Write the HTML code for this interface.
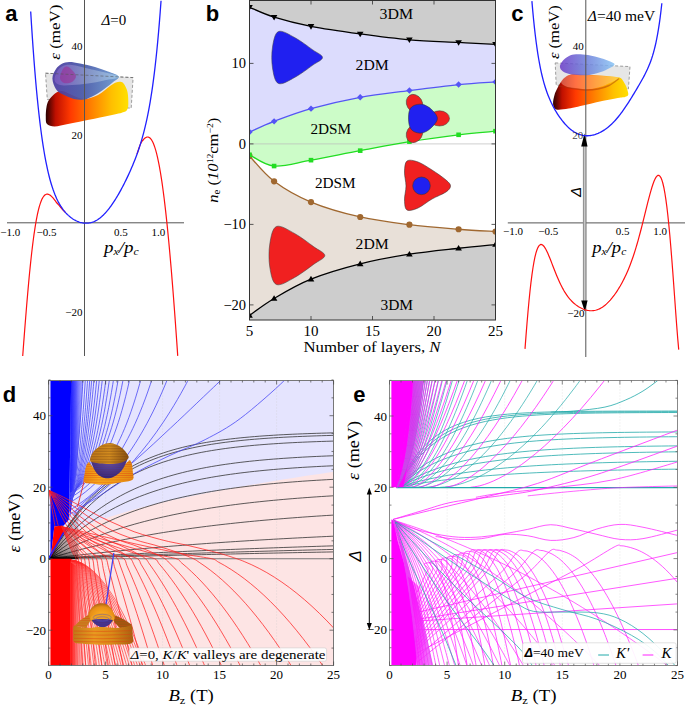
<!DOCTYPE html>
<html><head><meta charset="utf-8"><style>
html,body{margin:0;padding:0;background:#fff;width:685px;height:706px;overflow:hidden}
svg{display:block}
text{font-family:'Liberation Serif',serif;fill:#000}
</style></head><body>
<svg width="685" height="706" viewBox="0 0 685 706">
<g id="pa">
<defs><linearGradient id="gOr" x1="0" y1="0" x2="1" y2="0"><stop offset="0" stop-color="#2a0000"/><stop offset="0.12" stop-color="#c01000"/><stop offset="0.3" stop-color="#ff3a00"/><stop offset="0.55" stop-color="#ff8000"/><stop offset="0.8" stop-color="#ffc000"/><stop offset="1" stop-color="#ffe000"/></linearGradient><linearGradient id="gBl" x1="0" y1="0" x2="1" y2="0"><stop offset="0" stop-color="#4a3aa0"/><stop offset="0.45" stop-color="#4656a8"/><stop offset="1" stop-color="#6a9ad0"/></linearGradient><linearGradient id="gBl2" x1="0" y1="0" x2="1" y2="0"><stop offset="0" stop-color="#7a5ac0"/><stop offset="0.5" stop-color="#8a98c8"/><stop offset="1" stop-color="#a0c8e8"/></linearGradient></defs>
<path d="M45.5,73.2 L133.1,77.6 L131.2,108.3 L47.3,99.5Z" fill="#e6e6e6" stroke="#888" stroke-width="0.8" stroke-dasharray="3,2"/>
<path d="M48.8,100.3 C50.22,98.05 52.8,95.05 55,93.5 C57.2,91.95 59.17,90.75 62,91 C64.83,91.25 68.33,93.67 72,95 C75.67,96.33 79.67,99 84,99 C88.33,99 93.67,97.17 98,95 C102.33,92.83 107,88.08 110,86 C113,83.92 114.25,83.2 116,82.5 C117.75,81.8 119.17,81.55 120.5,81.8 C121.83,82.05 122.83,82.3 124,84 C125.17,85.7 126.78,88.67 127.5,92 C128.22,95.33 128.38,101 128.3,104 C128.22,107 128.08,108.55 127,110 C125.92,111.45 125.47,111.62 121.8,112.7 C118.13,113.78 111.3,115.17 105,116.5 C98.7,117.83 90.17,119.45 84,120.7 C77.83,121.95 72.9,123.03 68,124 C63.1,124.97 58.1,126.5 54.6,126.5 C51.1,126.5 48.47,125.58 47,124 C45.53,122.42 45.88,119.83 45.8,117 C45.72,114.17 46,109.78 46.5,107 C47,104.22 47.38,102.55 48.8,100.3Z" fill="url(#gOr)"/>
<path d="M52.4,78.4 C52.4,75.02 54.42,71.43 56,69 C57.58,66.57 59.7,64.97 61.9,63.8 C64.1,62.63 66.18,62.05 69.2,62 C72.22,61.95 75.7,62.67 80,63.5 C84.3,64.33 90.33,65.67 95,67 C99.67,68.33 104.03,69.9 108,71.5 C111.97,73.1 118.13,74.68 118.8,76.6 C119.47,78.52 115.13,80.43 112,83 C108.87,85.57 103.67,89.58 100,92 C96.33,94.42 92.7,96.25 90,97.5 C87.3,98.75 86.47,99.25 83.8,99.5 C81.13,99.75 77.63,99.92 74,99 C70.37,98.08 65,95.62 62,94 C59,92.38 57.6,91.9 56,89.3 C54.4,86.7 52.4,81.78 52.4,78.4Z" fill="url(#gBl)" fill-opacity="0.92"/>
<path d="M54.5,80 C54.17,77.5 56.42,72.42 58,70 C59.58,67.58 61.67,66.33 64,65.5 C66.33,64.67 67.67,64.42 72,65 C76.33,65.58 82.2,67.07 90,69 C97.8,70.93 116.47,74.68 118.8,76.6 C121.13,78.52 109.13,79.35 104,80.5 C98.87,81.65 93.33,82.75 88,83.5 C82.67,84.25 76.67,84.75 72,85 C67.33,85.25 62.92,85.83 60,85 C57.08,84.17 54.83,82.5 54.5,80Z" fill="url(#gBl2)" fill-opacity="0.85"/>
<path d="M60,78 C59.83,75.67 61.83,70.92 63,69 C64.17,67.08 65.67,66.5 67,66.5 C68.33,66.5 69.5,67.42 71,69 C72.5,70.58 75.83,73.83 76,76 C76.17,78.17 74,80.83 72,82 C70,83.17 66,83.67 64,83 C62,82.33 60.17,80.33 60,78Z" fill="#a02890" fill-opacity="0.55"/>
<path d="M45.5,73.2 L133.1,77.6" stroke="#555" stroke-width="0.7" stroke-dasharray="3,2" fill="none" opacity="0.8"/>
<path d="M84.5,0 V356 M7,222.8 H184" stroke="#555" stroke-width="1" fill="none"/>
<path d="M22.7,356.02 L23.2,349.52 L23.69,343.05 L24.18,336.62 L24.67,330.26 L25.16,323.98 L25.66,317.79 L26.15,311.71 L26.64,305.74 L27.13,299.89 L27.63,294.18 L28.12,288.61 L28.61,283.18 L29.1,277.91 L29.59,272.8 L30.09,267.85 L30.58,263.07 L31.07,258.46 L31.56,254.02 L32.05,249.75 L32.55,245.66 L33.04,241.75 L33.53,238 L34.02,234.44 L34.52,231.04 L35.01,227.82 L35.5,224.77 L35.99,221.89 L36.48,219.18 L36.98,216.62 L37.47,214.23 L37.96,212 L38.45,209.92 L38.94,207.99 L39.44,206.21 L39.93,204.57 L40.42,203.07 L40.91,201.7 L41.41,200.46 L41.9,199.35 L42.39,198.36 L42.88,197.49 L43.37,196.73 L43.87,196.08 L44.36,195.53 L44.85,195.07 L45.34,194.72 L45.83,194.45 L46.33,194.27 L46.82,194.16 L47.31,194.14 L47.8,194.18 L48.3,194.29 L48.79,194.47 L49.28,194.7 L49.77,194.99 L50.26,195.33 L50.76,195.72 L51.25,196.15 L51.74,196.62 L52.23,197.12 L52.72,197.66 L53.22,198.22 L53.71,198.82 L54.2,199.43 L54.69,200.07 L55.19,200.72 L55.68,201.38 L56.17,202.06 L56.66,202.75 L57.15,203.27 L57.65,203.78 L58.14,204.32 L58.63,204.88 L59.12,205.47 L59.61,206.06 L60.11,206.65 L60.6,207.25 L61.09,207.83 L61.58,208.42 L62.08,208.99 L62.57,209.55 L63.06,210.09 L63.55,210.62 L64.04,211.13 L64.54,211.62 L65.03,212.09 L65.52,212.55" stroke="#ff1010" stroke-width="1.2" fill="none"/>
<path d="M137.06,154.03 L137.53,152.54 L138,151.07 L138.46,149.63 L138.93,148.23 L139.4,146.88 L139.87,145.61 L140.33,144.43 L140.8,143.35 L141.27,142.4 L141.74,141.59 L142.2,140.95 L142.67,140.49 L143.14,140.03 L143.61,139.45 L144.07,138.92 L144.54,138.46 L145.01,138.05 L145.48,137.71 L145.94,137.43 L146.41,137.22 L146.88,137.07 L147.35,137 L147.81,137 L148.28,137.08 L148.75,137.24 L149.22,137.47 L149.68,137.79 L150.15,138.2 L150.62,138.69 L151.09,139.27 L151.55,139.94 L152.02,140.71 L152.49,141.57 L152.96,142.53 L153.42,143.59 L153.89,144.75 L154.36,146.01 L154.83,147.38 L155.29,148.85 L155.76,150.43 L156.23,152.13 L156.7,153.93 L157.16,155.85 L157.63,157.87 L158.1,160.02 L158.57,162.28 L159.03,164.66 L159.5,167.15 L159.97,169.77 L160.44,172.5 L160.9,175.36 L161.37,178.34 L161.84,181.44 L162.31,184.66 L162.77,188 L163.24,191.47 L163.71,195.05 L164.18,198.77 L164.64,202.6 L165.11,206.56 L165.58,210.63 L166.05,214.83 L166.51,219.15 L166.98,223.6 L167.45,228.16 L167.92,232.84 L168.38,237.63 L168.85,242.55 L169.32,247.57 L169.79,252.72 L170.25,257.97 L170.72,263.34 L171.19,268.82 L171.66,274.4 L172.12,280.09 L172.59,285.88 L173.06,291.78 L173.53,297.78 L173.99,303.87 L174.46,310.07 L174.93,316.35 L175.4,322.73 L175.86,329.19 L176.33,335.75 L176.8,342.38 L177.27,349.1 L177.73,355.9" stroke="#ff1010" stroke-width="1.2" fill="none"/>
<path d="M30.69,11.44 L31.53,24.94 L32.36,37.64 L33.2,49.57 L34.03,60.78 L34.87,71.3 L35.7,81.18 L36.54,90.45 L37.38,99.13 L38.21,107.28 L39.05,114.91 L39.88,122.06 L40.72,128.76 L41.55,135.02 L42.39,140.89 L43.23,146.38 L44.06,151.51 L44.9,156.31 L45.73,160.8 L46.57,164.99 L47.4,168.92 L48.24,172.58 L49.07,176.01 L49.91,179.22 L50.75,182.21 L51.58,185.01 L52.42,187.63 L53.25,190.08 L54.09,192.37 L54.92,194.52 L55.76,196.53 L56.59,198.41 L57.43,200.17 L58.27,201.83 L59.1,203.38 L59.94,204.83 L60.77,206.2 L61.61,207.48 L62.44,208.69 L63.28,209.83 L64.12,210.89 L64.95,211.9 L65.79,212.85 L66.62,213.74 L67.46,214.58 L68.29,215.37 L69.13,216.12 L69.96,216.82 L70.8,217.48 L71.64,218.09 L72.47,218.67 L73.31,219.22 L74.14,219.72 L74.98,220.19 L75.81,220.63 L76.65,221.03 L77.48,221.4 L78.32,221.73 L79.16,222.03 L79.99,222.3 L80.83,222.53 L81.66,222.73 L82.5,222.9 L83.33,223.03 L84.17,223.13 L85.01,223.19 L85.84,223.22 L86.68,223.22 L87.51,223.17 L88.35,223.1 L89.18,222.98 L90.02,222.83 L90.85,222.64 L91.69,222.41 L92.53,222.14 L93.36,221.83 L94.2,221.48 L95.03,221.09 L95.87,220.67 L96.7,220.2 L97.54,219.69 L98.37,219.14 L99.21,218.55 L100.05,217.92 L100.88,217.25 L101.72,216.53 L102.55,215.78 L103.39,214.99 L104.22,214.15 L105.06,213.28 L105.89,212.36 L106.73,211.41 L107.57,210.42 L108.4,209.39 L109.24,208.32 L110.07,207.22 L110.91,206.08 L111.74,204.9 L112.58,203.69 L113.42,202.45 L114.25,201.17 L115.09,199.86 L115.92,198.52 L116.76,197.14 L117.59,195.74 L118.43,194.3 L119.26,192.84 L120.1,191.35 L120.94,189.83 L121.77,188.28 L122.61,186.7 L123.44,185.1 L124.28,183.46 L125.11,181.8 L125.95,180.11 L126.78,178.39 L127.62,176.64 L128.46,174.86 L129.29,173.04 L130.13,171.19 L130.96,169.3 L131.8,167.36 L132.63,165.39 L133.47,163.37 L134.31,161.29 L135.14,159.16 L135.98,156.97 L136.81,154.72 L137.65,152.39 L138.48,149.98 L139.32,147.48 L140.15,144.89 L140.99,142.19 L141.83,139.37 L142.66,136.43 L143.5,133.34 L144.33,130.11 L145.17,126.7 L146,123.12 L146.84,119.33 L147.67,115.33 L148.51,111.09 L149.35,106.59 L150.18,101.81 L151.02,96.72 L151.85,91.31 L152.69,85.54 L153.52,79.38 L154.36,72.81 L155.2,65.78 L156.03,58.27 L156.87,50.23 L157.7,41.63 L158.54,32.43 L159.37,22.58 L160.21,12.03 L161.04,0.74" stroke="#2020ff" stroke-width="1.3" fill="none"/>
<text x="5.2" y="20.5" font-size="22" font-weight="bold" style="font-family:'Liberation Sans',sans-serif">a</text>
<text x="82.5" y="50" font-size="11" text-anchor="end" style="" >40</text>
<text x="82.5" y="138.8" font-size="11" text-anchor="end" style="" >20</text>
<text x="82.5" y="316" font-size="11" text-anchor="end" style="" >−20</text>
<text x="10.3" y="235.5" font-size="11" text-anchor="middle" style="" >−1.0</text>
<text x="46.5" y="235.5" font-size="11" text-anchor="middle" style="" >−0.5</text>
<text x="120.9" y="235.5" font-size="11" text-anchor="middle" style="" >0.5</text>
<text x="158.4" y="235.5" font-size="11" text-anchor="middle" style="" >1.0</text>
<text x="104" y="252.5" font-size="16" font-style="italic" textLength="34.7" lengthAdjust="spacingAndGlyphs"><tspan>p</tspan><tspan font-size="10" dy="2">x</tspan><tspan dy="-2">/p</tspan><tspan font-size="10" dy="2">c</tspan></text>
<text x="101.5" y="25" font-size="15"><tspan font-style="italic">Δ</tspan>=0</text>
<text transform="translate(60.3,32.2) rotate(-90)" font-size="14.5" text-anchor="middle" textLength="55" lengthAdjust="spacingAndGlyphs"><tspan font-style="italic">ε</tspan> (meV)</text>
</g>
<g id="pb">
<clipPath id="cb"><rect x="249.5" y="0.5" width="246.0" height="319.5"/></clipPath>
<g clip-path="url(#cb)">
<path d="M249.5,7.29 C253.6,8.94 263.85,14.01 274.1,17.19 C284.35,20.37 296.65,23.58 311,26.37 C325.35,29.16 343.8,31.7 360.2,33.94 C376.6,36.18 393,38.39 409.4,39.81 C425.8,41.24 444.25,41.72 458.6,42.47 C472.95,43.22 489.35,44.01 495.5,44.32 L500.5,-4.5 L244.5,-4.5Z" fill="#cdcdcd"/>
<path d="M249.5,7.29 C253.6,8.94 263.85,14.01 274.1,17.19 C284.35,20.37 296.65,23.58 311,26.37 C325.35,29.16 343.8,31.7 360.2,33.94 C376.6,36.18 393,38.39 409.4,39.81 C425.8,41.24 444.25,41.72 458.6,42.47 C472.95,43.22 489.35,44.01 495.5,44.32 L495.5,81.91499999999999 " fill="none"/>
<path d="M249.5,7.29 C253.6,8.94 263.85,14.01 274.1,17.19 C284.35,20.37 296.65,23.58 311,26.37 C325.35,29.16 343.8,31.7 360.2,33.94 C376.6,36.18 393,38.39 409.4,39.81 C425.8,41.24 444.25,41.72 458.6,42.47 C472.95,43.22 489.35,44.01 495.5,44.32 L495.5,81.91 L495.5,81.91 C489.35,82.36 472.95,83.14 458.6,84.57 C444.25,86.01 425.8,88.41 409.4,90.53 C393,92.65 376.6,94.27 360.2,97.29 C343.8,100.31 325.35,104.63 311,108.64 C296.65,112.65 284.35,117.46 274.1,121.36 C263.85,125.26 253.6,130.28 249.5,132.07Z" fill="#dcdcfd"/>
<path d="M249.5,132.07 C253.6,130.28 263.85,125.26 274.1,121.36 C284.35,117.46 296.65,112.65 311,108.64 C325.35,104.63 343.8,100.31 360.2,97.29 C376.6,94.27 393,92.65 409.4,90.53 C425.8,88.41 444.25,86.01 458.6,84.57 C472.95,83.14 489.35,82.36 495.5,81.91 L495.5,131.18 L495.5,131.18 C489.35,131.78 472.95,133.06 458.6,134.8 C444.25,136.55 425.8,139 409.4,141.65 C393,144.29 376.6,147.58 360.2,150.66 C343.8,153.75 325.35,157.6 311,160.16 C296.65,162.72 284.35,166.94 274.1,166.04 C263.85,165.14 253.6,156.65 249.5,154.77Z" fill="#ccfcc8"/>
<path d="M249.5,155.97 C253.6,160.2 263.85,173.64 274.1,181.33 C284.35,189.02 296.65,196.16 311,202.1 C325.35,208.05 343.8,213.22 360.2,216.99 C376.6,220.76 393,222.68 409.4,224.72 C425.8,226.76 444.25,228.1 458.6,229.23 C472.95,230.36 489.35,231.11 495.5,231.48 L495.5,244.53 L495.5,244.53 C489.35,245.14 472.95,246.62 458.6,248.23 C444.25,249.84 425.8,251.58 409.4,254.19 C393,256.79 376.6,259.69 360.2,263.85 C343.8,268 325.35,273.37 311,279.14 C296.65,284.91 284.35,292.42 274.1,298.46 C263.85,304.5 253.6,312.55 249.5,315.37Z" fill="#e8e0d8"/>
<path d="M249.5,315.37 C253.6,312.55 263.85,304.5 274.1,298.46 C284.35,292.42 296.65,284.91 311,279.14 C325.35,273.37 343.8,268 360.2,263.85 C376.6,259.69 393,256.79 409.4,254.19 C425.8,251.58 444.25,249.84 458.6,248.23 C472.95,246.62 489.35,245.14 495.5,244.53 L500.5,325.0 L244.5,325.0Z" fill="#cdcdcd"/>
<path d="M249.5,143.9 H495.5" stroke="#bbb" stroke-width="0.7"/>
<path d="M249.5,7.29 C253.6,8.94 263.85,14.01 274.1,17.19 C284.35,20.37 296.65,23.58 311,26.37 C325.35,29.16 343.8,31.7 360.2,33.94 C376.6,36.18 393,38.39 409.4,39.81 C425.8,41.24 444.25,41.72 458.6,42.47 C472.95,43.22 489.35,44.01 495.5,44.32" stroke="#000" stroke-width="1.3" fill="none"/>
<path d="M246.2,4.99 L252.8,4.99 L249.5,10.59Z" fill="#000"/>
<path d="M270.8,14.89 L277.4,14.89 L274.1,20.49Z" fill="#000"/>
<path d="M307.7,24.07 L314.3,24.07 L311,29.67Z" fill="#000"/>
<path d="M356.9,31.64 L363.5,31.64 L360.2,37.24Z" fill="#000"/>
<path d="M406.1,37.51 L412.7,37.51 L409.4,43.11Z" fill="#000"/>
<path d="M455.3,40.17 L461.9,40.17 L458.6,45.77Z" fill="#000"/>
<path d="M492.2,42.02 L498.8,42.02 L495.5,47.62Z" fill="#000"/>
<path d="M249.5,132.07 C253.6,130.28 263.85,125.26 274.1,121.36 C284.35,117.46 296.65,112.65 311,108.64 C325.35,104.63 343.8,100.31 360.2,97.29 C376.6,94.27 393,92.65 409.4,90.53 C425.8,88.41 444.25,86.01 458.6,84.57 C472.95,83.14 489.35,82.36 495.5,81.91" stroke="#5555f5" stroke-width="1.3" fill="none"/>
<path d="M249.5,128.87 L252.7,132.07 L249.5,135.27 L246.3,132.07Z" fill="#5555f5"/>
<path d="M274.1,118.16 L277.3,121.36 L274.1,124.56 L270.9,121.36Z" fill="#5555f5"/>
<path d="M311,105.44 L314.2,108.64 L311,111.84 L307.8,108.64Z" fill="#5555f5"/>
<path d="M360.2,94.09 L363.4,97.29 L360.2,100.49 L357,97.29Z" fill="#5555f5"/>
<path d="M409.4,87.33 L412.6,90.53 L409.4,93.73 L406.2,90.53Z" fill="#5555f5"/>
<path d="M458.6,81.37 L461.8,84.57 L458.6,87.77 L455.4,84.57Z" fill="#5555f5"/>
<path d="M495.5,78.71 L498.7,81.91 L495.5,85.11 L492.3,81.91Z" fill="#5555f5"/>
<path d="M249.5,155.97 C253.6,160.2 263.85,173.64 274.1,181.33 C284.35,189.02 296.65,196.16 311,202.1 C325.35,208.05 343.8,213.22 360.2,216.99 C376.6,220.76 393,222.68 409.4,224.72 C425.8,226.76 444.25,228.1 458.6,229.23 C472.95,230.36 489.35,231.11 495.5,231.48" stroke="#a06830" stroke-width="1.3" fill="none"/>
<circle cx="249.5" cy="155.97" r="3.1" fill="#a06830"/>
<circle cx="274.1" cy="181.33" r="3.1" fill="#a06830"/>
<circle cx="311" cy="202.1" r="3.1" fill="#a06830"/>
<circle cx="360.2" cy="216.99" r="3.1" fill="#a06830"/>
<circle cx="409.4" cy="224.72" r="3.1" fill="#a06830"/>
<circle cx="458.6" cy="229.23" r="3.1" fill="#a06830"/>
<circle cx="495.5" cy="231.48" r="3.1" fill="#a06830"/>
<path d="M249.5,154.77 C253.6,156.65 263.85,165.14 274.1,166.04 C284.35,166.94 296.65,162.72 311,160.16 C325.35,157.6 343.8,153.75 360.2,150.66 C376.6,147.58 393,144.29 409.4,141.65 C425.8,139 444.25,136.55 458.6,134.8 C472.95,133.06 489.35,131.78 495.5,131.18" stroke="#22dd22" stroke-width="1.3" fill="none"/>
<rect x="247.2" y="152.47" width="4.6" height="4.6" fill="#22dd22"/>
<rect x="271.8" y="163.74" width="4.6" height="4.6" fill="#22dd22"/>
<rect x="308.7" y="157.86" width="4.6" height="4.6" fill="#22dd22"/>
<rect x="357.9" y="148.36" width="4.6" height="4.6" fill="#22dd22"/>
<rect x="407.1" y="139.35" width="4.6" height="4.6" fill="#22dd22"/>
<rect x="456.3" y="132.5" width="4.6" height="4.6" fill="#22dd22"/>
<rect x="493.2" y="128.88" width="4.6" height="4.6" fill="#22dd22"/>
<path d="M249.5,315.37 C253.6,312.55 263.85,304.5 274.1,298.46 C284.35,292.42 296.65,284.91 311,279.14 C325.35,273.37 343.8,268 360.2,263.85 C376.6,259.69 393,256.79 409.4,254.19 C425.8,251.58 444.25,249.84 458.6,248.23 C472.95,246.62 489.35,245.14 495.5,244.53" stroke="#000" stroke-width="1.3" fill="none"/>
<path d="M246.2,317.67 L252.8,317.67 L249.5,312.06Z" fill="#000"/>
<path d="M270.8,300.76 L277.4,300.76 L274.1,295.16Z" fill="#000"/>
<path d="M307.7,281.44 L314.3,281.44 L311,275.84Z" fill="#000"/>
<path d="M356.9,266.15 L363.5,266.15 L360.2,260.55Z" fill="#000"/>
<path d="M406.1,256.49 L412.7,256.49 L409.4,250.88Z" fill="#000"/>
<path d="M455.3,250.53 L461.9,250.53 L458.6,244.93Z" fill="#000"/>
<path d="M492.2,246.83 L498.8,246.83 L495.5,241.23Z" fill="#000"/>
<path d="M278.5,31.5 C282.25,29.94 289.33,34.71 295,37.74 C300.67,40.77 307.92,46.41 312.5,49.7 C317.08,52.99 322.5,54.9 322.5,57.5 C322.5,60.1 317.08,62.01 312.5,65.3 C307.92,68.59 300.67,74.23 295,77.26 C289.33,80.29 282.25,85.06 278.5,83.5 C274.75,81.94 273.5,73.97 272.5,67.9 C271.5,61.83 271.5,53.17 272.5,47.1 C273.5,41.03 274.75,33.06 278.5,31.5Z" fill="#2020f0" stroke="#444" stroke-width="0.7" stroke-opacity="0.8"/>
<path d="M276.4,226.5 C280.53,224.76 288.32,230.08 294.55,233.46 C300.78,236.84 308.76,243.13 313.8,246.8 C318.84,250.47 324.8,252.6 324.8,255.5 C324.8,258.4 318.84,260.53 313.8,264.2 C308.76,267.87 300.78,274.16 294.55,277.54 C288.32,280.92 280.53,286.24 276.4,284.5 C272.28,282.76 270.9,273.87 269.8,267.1 C268.7,260.33 268.7,250.67 269.8,243.9 C270.9,237.13 272.28,228.24 276.4,226.5Z" fill="#f02020" stroke="#444" stroke-width="0.7" stroke-opacity="0.8"/>
<ellipse cx="414.5" cy="103.5" rx="7.8" ry="9.5" transform="rotate(-30 414.5 103.5)" fill="#f02020" stroke="#444" stroke-width="0.7" stroke-opacity="0.8"/>
<ellipse cx="439.5" cy="118.4" rx="10" ry="7.6" transform="rotate(0 439.5 118.4)" fill="#f02020" stroke="#444" stroke-width="0.7" stroke-opacity="0.8"/>
<ellipse cx="414.5" cy="133.5" rx="7.8" ry="9.5" transform="rotate(30 414.5 133.5)" fill="#f02020" stroke="#444" stroke-width="0.7" stroke-opacity="0.8"/>
<path d="M413,106 C415.17,104.72 419,103.8 422,104.3 C425,104.8 428.43,106.65 431,109 C433.57,111.35 437.4,115.23 437.4,118.4 C437.4,121.57 433.57,125.57 431,128 C428.43,130.43 425,132.5 422,133 C419,133.5 415.17,132.5 413,131 C410.83,129.5 409.67,127.17 409,124 C408.33,120.83 408.33,115 409,112 C409.67,109 410.83,107.28 413,106Z" fill="#2020f0" stroke="#333" stroke-width="0.7" stroke-opacity="0.8"/>
<path d="M407,161 C409.25,159.33 413.83,160.5 418,162 C422.17,163.5 427.33,167 432,170 C436.67,173 442.92,177.33 446,180 C449.08,182.67 450.5,184 450.5,186 C450.5,188 449.08,189.83 446,192 C442.92,194.17 436.67,196.33 432,199 C427.33,201.67 422.17,206.17 418,208 C413.83,209.83 409.25,211.33 407,210 C404.75,208.67 404.67,204 404.5,200 C404.33,196 406,190.67 406,186 C406,181.33 404.33,176.17 404.5,172 C404.67,167.83 404.75,162.67 407,161Z" fill="#f02020" stroke="#333" stroke-width="0.7" stroke-opacity="0.8"/>
<circle cx="421.5" cy="185.8" r="8.8" fill="#2020f0" stroke="#333" stroke-width="0.7" stroke-opacity="0.8"/>
</g>
<rect x="249.5" y="0.5" width="246.0" height="319.5" fill="none" stroke="#333" stroke-width="1"/>
<path d="M249.5,320.0 v-4 M249.5,0.5 v4" stroke="#333" stroke-width="0.8"/>
<path d="M311,320.0 v-4 M311,0.5 v4" stroke="#333" stroke-width="0.8"/>
<path d="M372.5,320.0 v-4 M372.5,0.5 v4" stroke="#333" stroke-width="0.8"/>
<path d="M434,320.0 v-4 M434,0.5 v4" stroke="#333" stroke-width="0.8"/>
<path d="M495.5,320.0 v-4 M495.5,0.5 v4" stroke="#333" stroke-width="0.8"/>
<path d="M249.5,304.9 h4 M495.5,304.9 h-4" stroke="#333" stroke-width="0.8"/>
<path d="M249.5,224.4 h4 M495.5,224.4 h-4" stroke="#333" stroke-width="0.8"/>
<path d="M249.5,143.9 h4 M495.5,143.9 h-4" stroke="#333" stroke-width="0.8"/>
<path d="M249.5,63.4 h4 M495.5,63.4 h-4" stroke="#333" stroke-width="0.8"/>
<text x="205.7" y="20.5" font-size="22" font-weight="bold" style="font-family:'Liberation Sans',sans-serif">b</text>
<text x="249.5" y="335.5" font-size="15" text-anchor="middle" style="" >5</text>
<text x="311" y="335.5" font-size="15" text-anchor="middle" style="" >10</text>
<text x="372.5" y="335.5" font-size="15" text-anchor="middle" style="" >15</text>
<text x="434" y="335.5" font-size="15" text-anchor="middle" style="" >20</text>
<text x="495.5" y="335.5" font-size="15" text-anchor="middle" style="" >25</text>
<text x="246.1" y="68.3" font-size="14.5" text-anchor="end" style="" >10</text>
<text x="246.1" y="148.8" font-size="14.5" text-anchor="end" style="" >0</text>
<text x="246.1" y="229.3" font-size="14.5" text-anchor="end" style="" >−10</text>
<text x="246.1" y="309.8" font-size="14.5" text-anchor="end" style="" >−20</text>
<text x="303.5" y="352.3" font-size="15.5" textLength="137" lengthAdjust="spacingAndGlyphs">Number of layers, <tspan font-style="italic">N</tspan></text>
<text transform="translate(217.5,160.2) rotate(-90)" font-size="15.5" text-anchor="middle" textLength="85" lengthAdjust="spacingAndGlyphs"><tspan font-style="italic">n</tspan><tspan font-size="10" dy="2.5">e</tspan><tspan dy="-2.5"> (</tspan><tspan font-style="italic">10</tspan><tspan font-size="9" dy="-5">12</tspan><tspan dy="5">cm</tspan><tspan font-size="9" dy="-5">−2</tspan><tspan dy="5">)</tspan></text>
<text x="379.6" y="18.8" font-size="15.5" textLength="33.5" lengthAdjust="spacingAndGlyphs">3DM</text>
<text x="355.6" y="69.9" font-size="15.5" textLength="33.1" lengthAdjust="spacingAndGlyphs">2DM</text>
<text x="310.4" y="134.2" font-size="15.5" textLength="40.7" lengthAdjust="spacingAndGlyphs">2DSM</text>
<text x="314.9" y="187.8" font-size="15.5" textLength="40.7" lengthAdjust="spacingAndGlyphs">2DSM</text>
<text x="355.6" y="248.9" font-size="15.5" textLength="33.1" lengthAdjust="spacingAndGlyphs">2DM</text>
<text x="380.5" y="310" font-size="15.5" textLength="32.6" lengthAdjust="spacingAndGlyphs">3DM</text>
</g>
<g id="pc">
<path d="M555.2,62.9 L630,66.6 L628.4,88.9 L556.2,85.2Z" fill="#e6e6e6" stroke="#888" stroke-width="0.8" stroke-dasharray="3,2"/>
<path d="M553.1,104 C552.82,101.6 553.77,97.67 554.5,95 C555.23,92.33 556.25,90.42 557.5,88 C558.75,85.58 560.42,82.5 562,80.5 C563.58,78.5 565,77.08 567,76 C569,74.92 571,74.25 574,74 C577,73.75 580.67,74.25 585,74.5 C589.33,74.75 595.5,75.17 600,75.5 C604.5,75.83 608.75,76.17 612,76.5 C615.25,76.83 617.75,76.92 619.5,77.5 C621.25,78.08 621.42,78.58 622.5,80 C623.58,81.42 625.17,84.3 626,86 C626.83,87.7 627.13,88.68 627.5,90.2 C627.87,91.72 628.62,93.97 628.2,95.1 C627.78,96.23 626.45,96.55 625,97 C623.55,97.45 623.67,97.05 619.5,97.8 C615.33,98.55 605.38,100.38 600,101.5 C594.62,102.62 592.43,103.33 587.2,104.5 C581.97,105.67 573.77,107.68 568.6,108.5 C563.43,109.32 558.78,110.15 556.2,109.4 C553.62,108.65 553.38,106.4 553.1,104Z" fill="url(#gOr)"/>
<path d="M561,82 C561,80.33 563.83,77.78 566,76.5 C568.17,75.22 570.83,74.58 574,74.3 C577.17,74.02 580.67,74.55 585,74.8 C589.33,75.05 595.5,75.47 600,75.8 C604.5,76.13 608.83,76.43 612,76.8 C615.17,77.17 619.33,76.97 619,78 C618.67,79.03 613.17,81.5 610,83 C606.83,84.5 603.67,85.95 600,87 C596.33,88.05 592,89.05 588,89.3 C584,89.55 579.67,88.97 576,88.5 C572.33,88.03 568.5,87.58 566,86.5 C563.5,85.42 561,83.67 561,82Z" fill="#ffd8c0" fill-opacity="0.35"/>
<path d="M559,86 C560.83,86.33 565.67,87.33 570,88 C574.33,88.67 580.33,89.83 585,90 C589.67,90.17 594,89.75 598,89 C602,88.25 605.5,87.25 609,85.5 C612.5,83.75 617.33,79.67 619,78.5" stroke="#a03010" stroke-opacity="0.45" stroke-width="1.4" fill="none"/>
<defs><linearGradient id="gBlc" x1="0" y1="0" x2="1" y2="0"><stop offset="0" stop-color="#6a3ac8"/><stop offset="0.45" stop-color="#6a78d8"/><stop offset="1" stop-color="#88c4f4"/></linearGradient></defs>
<path d="M559.9,66.6 C559.9,64.77 561.48,62.27 563,60.5 C564.52,58.73 566.83,57.05 569,56 C571.17,54.95 572.83,54.37 576,54.2 C579.17,54.03 583.67,54.28 588,55 C592.33,55.72 597.58,56.98 602,58.5 C606.42,60.02 613.83,62.18 614.5,64.1 C615.17,66.02 609.42,68.35 606,70 C602.58,71.65 597.55,73.12 594,74 C590.45,74.88 588.37,75.22 584.7,75.3 C581.03,75.38 575.62,75.13 572,74.5 C568.38,73.87 565.02,72.82 563,71.5 C560.98,70.18 559.9,68.43 559.9,66.6Z" fill="url(#gBlc)" fill-opacity="0.85"/>
<path d="M585.8,0 V357 M507.8,222.9 H685" stroke="#555" stroke-width="1" fill="none"/>
<path d="M584.6,146 V301" stroke="#888" stroke-width="3.4" fill="none"/>
<path d="M584.6,146 V301" stroke="#c8c8c8" stroke-width="1.6" fill="none"/>
<path d="M581.2,146.6 L587.6,146.6 L584.4,133.5Z" fill="#000"/>
<path d="M581.2,300.6 L587.6,300.6 L584.8,311.5Z" fill="#000"/>
<path d="M525,348.89 L526,335.89 L526.99,323.52 L527.98,311.93 L528.97,301.22 L529.96,291.44 L530.95,282.63 L531.95,274.82 L532.94,267.99 L533.93,262.13 L534.92,257.21 L535.91,253.17 L536.9,249.98 L537.9,247.58 L538.89,245.9 L539.88,244.89 L540.87,244.48 L541.86,244.61 L542.85,245.21 L543.85,246.23 L544.84,247.61 L545.83,249.29 L546.82,251.23 L547.81,253.36 L548.8,255.66 L549.8,258.07 L550.79,260.57 L551.78,263.11 L552.77,265.68 L553.76,268.24 L554.75,270.77 L555.75,273.25 L556.74,275.68 L557.73,278.03 L558.72,280.3 L559.71,282.47 L560.7,284.55 L561.7,286.53 L562.69,288.41 L563.68,290.19 L564.67,291.86 L565.66,293.44 L566.65,294.92 L567.65,296.31 L568.64,297.61 L569.63,298.83 L570.62,299.97 L571.61,301.03 L572.6,302.03 L573.6,302.95 L574.59,303.81 L575.58,304.62 L576.57,305.36 L577.56,306.05 L578.56,306.7 L579.55,307.29 L580.54,307.84 L581.53,308.33 L582.52,308.79 L583.51,309.19 L584.51,309.56 L585.5,309.87 L586.49,310.14 L587.48,310.36 L588.47,310.53 L589.46,310.65 L590.46,310.73 L591.45,310.74 L592.44,310.71 L593.43,310.62 L594.42,310.47 L595.41,310.27 L596.41,310.01 L597.4,309.68 L598.39,309.3 L599.38,308.86 L600.37,308.36 L601.36,307.8 L602.36,307.17 L603.35,306.49 L604.34,305.74 L605.33,304.94 L606.32,304.08 L607.31,303.16 L608.31,302.18 L609.3,301.14 L610.29,300.05 L611.28,298.9 L612.27,297.7 L613.26,296.44 L614.26,295.12 L615.25,293.75 L616.24,292.32 L617.23,290.84 L618.22,289.29 L619.21,287.68 L620.21,286.01 L621.2,284.27 L622.19,282.46 L623.18,280.58 L624.17,278.61 L625.16,276.57 L626.16,274.44 L627.15,272.22 L628.14,269.9 L629.13,267.48 L630.12,264.95 L631.12,262.31 L632.11,259.56 L633.1,256.7 L634.09,253.71 L635.08,250.6 L636.07,247.37 L637.07,244.01 L638.06,240.54 L639.05,236.96 L640.04,233.27 L641.03,229.48 L642.02,225.61 L643.02,221.66 L644.01,217.67 L645,213.64 L645.99,209.62 L646.98,205.61 L647.97,201.66 L648.97,197.81 L649.96,194.09 L650.95,190.55 L651.94,187.24 L652.93,184.21 L653.92,181.53 L654.92,179.24 L655.91,177.42 L656.9,176.13 L657.89,175.43 L658.88,175.39 L659.87,176.09 L660.87,177.59 L661.86,179.95 L662.85,183.24 L663.84,187.49 L664.83,192.77 L665.82,199.1 L666.82,206.49 L667.81,214.96 L668.8,224.49 L669.79,235.03 L670.78,246.5 L671.77,258.81 L672.77,271.81 L673.76,285.3 L674.75,299.06 L675.74,312.77 L676.73,326.07 L677.72,338.52 L678.72,349.6" stroke="#ff1010" stroke-width="1.2" fill="none"/>
<path d="M531.9,1.1 L532.75,10.86 L533.6,19.75 L534.45,27.86 L535.3,35.26 L536.15,42.02 L537,48.18 L537.84,53.83 L538.69,58.99 L539.54,63.73 L540.39,68.08 L541.24,72.08 L542.09,75.77 L542.94,79.18 L543.79,82.34 L544.64,85.28 L545.49,88.01 L546.34,90.57 L547.19,92.97 L548.04,95.22 L548.89,97.35 L549.74,99.36 L550.59,101.27 L551.43,103.08 L552.28,104.81 L553.13,106.46 L553.98,108.05 L554.83,109.57 L555.68,111.03 L556.53,112.43 L557.38,113.78 L558.23,115.09 L559.08,116.35 L559.93,117.56 L560.78,118.73 L561.63,119.86 L562.48,120.95 L563.33,121.99 L564.18,123 L565.02,123.97 L565.87,124.89 L566.72,125.78 L567.57,126.63 L568.42,127.44 L569.27,128.22 L570.12,128.95 L570.97,129.64 L571.82,130.3 L572.67,130.91 L573.52,131.49 L574.37,132.03 L575.22,132.53 L576.07,132.99 L576.92,133.42 L577.77,133.8 L578.61,134.16 L579.46,134.47 L580.31,134.75 L581.16,134.99 L582.01,135.2 L582.86,135.37 L583.71,135.52 L584.56,135.62 L585.41,135.7 L586.26,135.74 L587.11,135.75 L587.96,135.74 L588.81,135.69 L589.66,135.61 L590.51,135.51 L591.36,135.37 L592.2,135.21 L593.05,135.02 L593.9,134.8 L594.75,134.56 L595.6,134.28 L596.45,133.99 L597.3,133.66 L598.15,133.31 L599,132.93 L599.85,132.53 L600.7,132.1 L601.55,131.64 L602.4,131.16 L603.25,130.64 L604.1,130.1 L604.95,129.54 L605.79,128.94 L606.64,128.32 L607.49,127.67 L608.34,126.99 L609.19,126.28 L610.04,125.54 L610.89,124.77 L611.74,123.97 L612.59,123.14 L613.44,122.28 L614.29,121.39 L615.14,120.48 L615.99,119.53 L616.84,118.55 L617.69,117.54 L618.54,116.5 L619.38,115.43 L620.23,114.34 L621.08,113.22 L621.93,112.07 L622.78,110.89 L623.63,109.69 L624.48,108.47 L625.33,107.22 L626.18,105.96 L627.03,104.67 L627.88,103.36 L628.73,102.04 L629.58,100.7 L630.43,99.35 L631.28,97.98 L632.13,96.6 L632.97,95.21 L633.82,93.81 L634.67,92.41 L635.52,90.99 L636.37,89.56 L637.22,88.13 L638.07,86.68 L638.92,85.23 L639.77,83.76 L640.62,82.28 L641.47,80.77 L642.32,79.25 L643.17,77.7 L644.02,76.11 L644.87,74.48 L645.72,72.8 L646.56,71.06 L647.41,69.25 L648.26,67.35 L649.11,65.34 L649.96,63.21 L650.81,60.94 L651.66,58.51 L652.51,55.88 L653.36,53.03 L654.21,49.92 L655.06,46.53 L655.91,42.81 L656.76,38.71 L657.61,34.19 L658.46,29.2 L659.31,23.67 L660.15,17.55 L661,10.75 L661.85,3.22" stroke="#2020ff" stroke-width="1.3" fill="none"/>
<text x="511.3" y="20.5" font-size="22" font-weight="bold" style="font-family:'Liberation Sans',sans-serif">c</text>
<text x="583.8" y="50" font-size="11" text-anchor="end" style="" >40</text>
<text x="583.2" y="139" font-size="11" text-anchor="end" style="" fill-opacity="0.75">20</text>
<text x="584.4" y="317" font-size="11" text-anchor="end" style="" >−20</text>
<text x="513" y="235.3" font-size="11" text-anchor="middle" style="" >−1.0</text>
<text x="548.3" y="235.3" font-size="11" text-anchor="middle" style="" >−0.5</text>
<text x="622.6" y="235.3" font-size="11" text-anchor="middle" style="" >0.5</text>
<text x="660.2" y="235.3" font-size="11" text-anchor="middle" style="" >1.0</text>
<text x="592.3" y="253" font-size="16" font-style="italic" textLength="34" lengthAdjust="spacingAndGlyphs"><tspan>p</tspan><tspan font-size="10" dy="2">x</tspan><tspan dy="-2">/p</tspan><tspan font-size="10" dy="2">c</tspan></text>
<text x="587.8" y="20.5" font-size="15.5"><tspan font-style="italic">Δ</tspan>=40 meV</text>
<text transform="translate(559,32.2) rotate(-90)" font-size="14.5" text-anchor="middle" textLength="53.8" lengthAdjust="spacingAndGlyphs"><tspan font-style="italic">ε</tspan> (meV)</text>
<text transform="translate(580.5,192) rotate(-90)" font-size="15" text-anchor="middle" style="font-family:'Liberation Sans',sans-serif" font-style="italic">Δ</text>
</g>
<g id="pd">
<clipPath id="cd"><rect x="48.5" y="380.5" width="285.0" height="285.0"/></clipPath>
<g clip-path="url(#cd)">
<rect x="48.5" y="380.5" width="285.0" height="285.0" fill="#fde4e4"/>
<path d="M48.5,380.5 L48.6,558.7 L55.97,543.29 L63.33,537.31 L70.7,532.79 L78.06,529.01 L85.43,525.7 L92.8,522.73 L100.16,520.01 L107.53,517.49 L114.9,515.13 L122.26,512.9 L129.63,510.79 L136.99,508.78 L144.36,506.85 L151.73,505 L159.09,503.22 L166.46,501.5 L173.82,499.84 L181.19,498.22 L188.56,496.66 L195.92,495.13 L203.29,493.65 L210.66,492.2 L218.02,490.79 L225.39,489.41 L232.75,488.06 L240.12,486.73 L247.49,485.44 L254.85,484.17 L262.22,482.92 L269.58,481.69 L276.95,480.49 L284.32,479.31 L291.68,478.14 L299.05,477 L306.42,475.87 L313.78,474.76 L321.15,473.66 L328.51,472.59 L335.88,471.52 L333.5,380.5Z" fill="#e5e4fe"/>
<path d="M105.6,380.5 V665.5" stroke="#c8c8c8" stroke-width="0.5" stroke-dasharray="1,2"/>
<path d="M162.6,380.5 V665.5" stroke="#c8c8c8" stroke-width="0.5" stroke-dasharray="1,2"/>
<path d="M219.6,380.5 V665.5" stroke="#c8c8c8" stroke-width="0.5" stroke-dasharray="1,2"/>
<path d="M276.6,380.5 V665.5" stroke="#c8c8c8" stroke-width="0.5" stroke-dasharray="1,2"/>
<path d="M48.5,558.7 H333.5" stroke="#777" stroke-width="1.1"/>
<path d="M48.6,558.7 L53.39,549.61 L58.18,541.17 L62.96,533.34 L67.75,526.06 L72.54,519.3 L77.33,513.02 L82.12,507.19 L86.9,501.78 L91.69,496.75 L96.48,492.08 L101.27,487.75 L106.06,483.72 L110.84,479.98 L115.63,476.51 L120.42,473.28 L125.21,470.29 L130,467.51 L134.78,464.93 L139.57,462.53 L144.36,460.3 L149.15,458.23 L153.94,456.31 L158.72,454.53 L163.51,452.87 L168.3,451.33 L173.09,449.9 L177.88,448.58 L182.66,447.34 L187.45,446.2 L192.24,445.14 L197.03,444.15 L201.82,443.23 L206.6,442.38 L211.39,441.59 L216.18,440.86 L220.97,440.18 L225.76,439.54 L230.54,438.96 L235.33,438.41 L240.12,437.9 L244.91,437.43 L249.7,437 L254.48,436.59 L259.27,436.21 L264.06,435.86 L268.85,435.54 L273.64,435.24 L278.42,434.95 L283.21,434.69 L288,434.45 L292.79,434.23 L297.58,434.02 L302.36,433.83 L307.15,433.65 L311.94,433.48 L316.73,433.32 L321.52,433.18 L326.3,433.05 L331.09,432.92 L335.88,432.81" stroke="#333" stroke-width="0.8" fill="none"/>
<path d="M48.6,558.7 L53.39,549.97 L58.18,541.84 L62.96,534.29 L67.75,527.26 L72.54,520.72 L77.33,514.64 L82.12,508.99 L86.9,503.73 L91.69,498.83 L96.48,494.28 L101.27,490.05 L106.06,486.11 L110.84,482.45 L115.63,479.04 L120.42,475.87 L125.21,472.93 L130,470.18 L134.78,467.63 L139.57,465.26 L144.36,463.06 L149.15,461 L153.94,459.1 L158.72,457.32 L163.51,455.67 L168.3,454.13 L173.09,452.71 L177.88,451.38 L182.66,450.14 L187.45,448.99 L192.24,447.92 L197.03,446.93 L201.82,446 L206.6,445.14 L211.39,444.34 L216.18,443.6 L220.97,442.9 L225.76,442.26 L230.54,441.66 L235.33,441.1 L240.12,440.59 L244.91,440.1 L249.7,439.65 L254.48,439.24 L259.27,438.85 L264.06,438.49 L268.85,438.15 L273.64,437.84 L278.42,437.55 L283.21,437.28 L288,437.03 L292.79,436.8 L297.58,436.58 L302.36,436.38 L307.15,436.19 L311.94,436.01 L316.73,435.85 L321.52,435.7 L326.3,435.56 L331.09,435.43 L335.88,435.31" stroke="#333" stroke-width="0.8" fill="none"/>
<path d="M48.6,558.7 L53.39,550.74 L58.18,543.32 L62.96,536.39 L67.75,529.92 L72.54,523.87 L77.33,518.24 L82.12,512.97 L86.9,508.06 L91.69,503.47 L96.48,499.19 L101.27,495.19 L106.06,491.46 L110.84,487.98 L115.63,484.73 L120.42,481.69 L125.21,478.86 L130,476.21 L134.78,473.74 L139.57,471.44 L144.36,469.29 L149.15,467.28 L153.94,465.41 L158.72,463.66 L163.51,462.02 L168.3,460.5 L173.09,459.07 L177.88,457.74 L182.66,456.5 L187.45,455.35 L192.24,454.27 L197.03,453.26 L201.82,452.31 L206.6,451.43 L211.39,450.61 L216.18,449.85 L220.97,449.13 L225.76,448.46 L230.54,447.84 L235.33,447.26 L240.12,446.72 L244.91,446.21 L249.7,445.74 L254.48,445.29 L259.27,444.88 L264.06,444.5 L268.85,444.14 L273.64,443.8 L278.42,443.49 L283.21,443.2 L288,442.92 L292.79,442.67 L297.58,442.43 L302.36,442.21 L307.15,442 L311.94,441.81 L316.73,441.63 L321.52,441.46 L326.3,441.3 L331.09,441.16 L335.88,441.02" stroke="#333" stroke-width="0.8" fill="none"/>
<path d="M48.6,558.7 L53.39,552.54 L58.18,546.74 L62.96,541.28 L67.75,536.13 L72.54,531.29 L77.33,526.72 L82.12,522.42 L86.9,518.37 L91.69,514.56 L96.48,510.96 L101.27,507.58 L106.06,504.39 L110.84,501.39 L115.63,498.56 L120.42,495.9 L125.21,493.39 L130,491.03 L134.78,488.8 L139.57,486.71 L144.36,484.73 L149.15,482.87 L153.94,481.12 L158.72,479.47 L163.51,477.92 L168.3,476.45 L173.09,475.08 L177.88,473.78 L182.66,472.56 L187.45,471.4 L192.24,470.32 L197.03,469.3 L201.82,468.33 L206.6,467.43 L211.39,466.57 L216.18,465.77 L220.97,465.01 L225.76,464.3 L230.54,463.63 L235.33,462.99 L240.12,462.4 L244.91,461.84 L249.7,461.31 L254.48,460.81 L259.27,460.34 L264.06,459.9 L268.85,459.48 L273.64,459.09 L278.42,458.72 L283.21,458.37 L288,458.05 L292.79,457.74 L297.58,457.45 L302.36,457.17 L307.15,456.92 L311.94,456.67 L316.73,456.44 L321.52,456.23 L326.3,456.03 L331.09,455.84 L335.88,455.66" stroke="#333" stroke-width="0.8" fill="none"/>
<path d="M48.6,558.7 L53.39,553.61 L58.18,548.79 L62.96,544.22 L67.75,539.89 L72.54,535.79 L77.33,531.9 L82.12,528.22 L86.9,524.73 L91.69,521.43 L96.48,518.3 L101.27,515.33 L106.06,512.52 L110.84,509.86 L115.63,507.33 L120.42,504.94 L125.21,502.68 L130,500.53 L134.78,498.5 L139.57,496.57 L144.36,494.75 L149.15,493.02 L153.94,491.38 L158.72,489.83 L163.51,488.36 L168.3,486.97 L173.09,485.65 L177.88,484.4 L182.66,483.21 L187.45,482.09 L192.24,481.03 L197.03,480.02 L201.82,479.06 L206.6,478.16 L211.39,477.3 L216.18,476.49 L220.97,475.72 L225.76,474.99 L230.54,474.3 L235.33,473.65 L240.12,473.03 L244.91,472.44 L249.7,471.89 L254.48,471.36 L259.27,470.86 L264.06,470.39 L268.85,469.94 L273.64,469.51 L278.42,469.11 L283.21,468.73 L288,468.37 L292.79,468.03 L297.58,467.7 L302.36,467.39 L307.15,467.1 L311.94,466.83 L316.73,466.57 L321.52,466.32 L326.3,466.08 L331.09,465.86 L335.88,465.65" stroke="#333" stroke-width="0.8" fill="none"/>
<path d="M48.6,558.7 L53.39,554.86 L58.18,551.2 L62.96,547.71 L67.75,544.37 L72.54,541.18 L77.33,538.14 L82.12,535.24 L86.9,532.46 L91.69,529.81 L96.48,527.29 L101.27,524.87 L106.06,522.57 L110.84,520.37 L115.63,518.27 L120.42,516.26 L125.21,514.35 L130,512.52 L134.78,510.77 L139.57,509.11 L144.36,507.52 L149.15,506 L153.94,504.55 L158.72,503.16 L163.51,501.84 L168.3,500.58 L173.09,499.37 L177.88,498.22 L182.66,497.13 L187.45,496.08 L192.24,495.08 L197.03,494.12 L201.82,493.21 L206.6,492.34 L211.39,491.5 L216.18,490.71 L220.97,489.95 L225.76,489.23 L230.54,488.54 L235.33,487.88 L240.12,487.25 L244.91,486.64 L249.7,486.07 L254.48,485.52 L259.27,485 L264.06,484.5 L268.85,484.02 L273.64,483.57 L278.42,483.13 L283.21,482.72 L288,482.32 L292.79,481.94 L297.58,481.58 L302.36,481.23 L307.15,480.9 L311.94,480.59 L316.73,480.29 L321.52,480 L326.3,479.73 L331.09,479.47 L335.88,479.22" stroke="#333" stroke-width="0.8" fill="none"/>
<path d="M48.6,558.7 L53.39,556.11 L58.18,553.61 L62.96,551.2 L67.75,548.89 L72.54,546.65 L77.33,544.5 L82.12,542.43 L86.9,540.44 L91.69,538.52 L96.48,536.67 L101.27,534.89 L106.06,533.17 L110.84,531.51 L115.63,529.92 L120.42,528.39 L125.21,526.91 L130,525.49 L134.78,524.11 L139.57,522.79 L144.36,521.52 L149.15,520.3 L153.94,519.12 L158.72,517.98 L163.51,516.88 L168.3,515.83 L173.09,514.81 L177.88,513.83 L182.66,512.89 L187.45,511.98 L192.24,511.11 L197.03,510.27 L201.82,509.45 L206.6,508.67 L211.39,507.92 L216.18,507.2 L220.97,506.5 L225.76,505.82 L230.54,505.18 L235.33,504.55 L240.12,503.95 L244.91,503.37 L249.7,502.81 L254.48,502.28 L259.27,501.76 L264.06,501.26 L268.85,500.78 L273.64,500.32 L278.42,499.87 L283.21,499.44 L288,499.03 L292.79,498.63 L297.58,498.25 L302.36,497.88 L307.15,497.52 L311.94,497.18 L316.73,496.85 L321.52,496.53 L326.3,496.23 L331.09,495.93 L335.88,495.65" stroke="#333" stroke-width="0.8" fill="none"/>
<path d="M48.6,558.7 L53.39,557.23 L58.18,555.79 L62.96,554.4 L67.75,553.05 L72.54,551.73 L77.33,550.44 L82.12,549.2 L86.9,547.98 L91.69,546.8 L96.48,545.65 L101.27,544.54 L106.06,543.45 L110.84,542.39 L115.63,541.36 L120.42,540.36 L125.21,539.39 L130,538.44 L134.78,537.52 L139.57,536.63 L144.36,535.76 L149.15,534.91 L153.94,534.08 L158.72,533.28 L163.51,532.5 L168.3,531.74 L173.09,531 L177.88,530.29 L182.66,529.59 L187.45,528.91 L192.24,528.25 L197.03,527.6 L201.82,526.98 L206.6,526.37 L211.39,525.78 L216.18,525.2 L220.97,524.64 L225.76,524.1 L230.54,523.57 L235.33,523.05 L240.12,522.55 L244.91,522.06 L249.7,521.59 L254.48,521.13 L259.27,520.68 L264.06,520.24 L268.85,519.82 L273.64,519.4 L278.42,519 L283.21,518.61 L288,518.23 L292.79,517.86 L297.58,517.5 L302.36,517.15 L307.15,516.81 L311.94,516.48 L316.73,516.15 L321.52,515.84 L326.3,515.53 L331.09,515.24 L335.88,514.95" stroke="#333" stroke-width="0.8" fill="none"/>
<path d="M48.6,558.7 L53.39,558.1 L58.18,557.52 L62.96,556.94 L67.75,556.37 L72.54,555.82 L77.33,555.27 L82.12,554.73 L86.9,554.2 L91.69,553.68 L96.48,553.17 L101.27,552.67 L106.06,552.17 L110.84,551.69 L115.63,551.21 L120.42,550.74 L125.21,550.28 L130,549.82 L134.78,549.38 L139.57,548.94 L144.36,548.5 L149.15,548.08 L153.94,547.66 L158.72,547.25 L163.51,546.85 L168.3,546.45 L173.09,546.06 L177.88,545.68 L182.66,545.3 L187.45,544.93 L192.24,544.57 L197.03,544.21 L201.82,543.86 L206.6,543.51 L211.39,543.17 L216.18,542.83 L220.97,542.51 L225.76,542.18 L230.54,541.86 L235.33,541.55 L240.12,541.24 L244.91,540.94 L249.7,540.64 L254.48,540.35 L259.27,540.06 L264.06,539.78 L268.85,539.5 L273.64,539.23 L278.42,538.96 L283.21,538.7 L288,538.44 L292.79,538.18 L297.58,537.93 L302.36,537.69 L307.15,537.44 L311.94,537.21 L316.73,536.97 L321.52,536.74 L326.3,536.52 L331.09,536.29 L335.88,536.07" stroke="#333" stroke-width="0.8" fill="none"/>
<path d="M48.6,558.7 L53.39,558.4 L58.18,558.11 L62.96,557.81 L67.75,557.53 L72.54,557.24 L77.33,556.96 L82.12,556.68 L86.9,556.41 L91.69,556.14 L96.48,555.87 L101.27,555.6 L106.06,555.34 L110.84,555.08 L115.63,554.82 L120.42,554.57 L125.21,554.32 L130,554.07 L134.78,553.83 L139.57,553.59 L144.36,553.35 L149.15,553.11 L153.94,552.88 L158.72,552.65 L163.51,552.42 L168.3,552.19 L173.09,551.97 L177.88,551.75 L182.66,551.53 L187.45,551.32 L192.24,551.1 L197.03,550.89 L201.82,550.69 L206.6,550.48 L211.39,550.28 L216.18,550.08 L220.97,549.88 L225.76,549.68 L230.54,549.49 L235.33,549.3 L240.12,549.11 L244.91,548.92 L249.7,548.74 L254.48,548.56 L259.27,548.38 L264.06,548.2 L268.85,548.02 L273.64,547.85 L278.42,547.67 L283.21,547.5 L288,547.34 L292.79,547.17 L297.58,547.01 L302.36,546.84 L307.15,546.68 L311.94,546.52 L316.73,546.37 L321.52,546.21 L326.3,546.06 L331.09,545.91 L335.88,545.76" stroke="#333" stroke-width="0.8" fill="none"/>
<path d="M48.6,558.7 L53.39,558.5 L58.18,558.29 L62.96,558.09 L67.75,557.9 L72.54,557.7 L77.33,557.51 L82.12,557.31 L86.9,557.12 L91.69,556.93 L96.48,556.75 L101.27,556.56 L106.06,556.38 L110.84,556.2 L115.63,556.02 L120.42,555.84 L125.21,555.66 L130,555.49 L134.78,555.31 L139.57,555.14 L144.36,554.97 L149.15,554.81 L153.94,554.64 L158.72,554.47 L163.51,554.31 L168.3,554.15 L173.09,553.99 L177.88,553.83 L182.66,553.67 L187.45,553.51 L192.24,553.36 L197.03,553.21 L201.82,553.06 L206.6,552.91 L211.39,552.76 L216.18,552.61 L220.97,552.46 L225.76,552.32 L230.54,552.18 L235.33,552.03 L240.12,551.89 L244.91,551.76 L249.7,551.62 L254.48,551.48 L259.27,551.35 L264.06,551.21 L268.85,551.08 L273.64,550.95 L278.42,550.82 L283.21,550.69 L288,550.56 L292.79,550.44 L297.58,550.31 L302.36,550.19 L307.15,550.06 L311.94,549.94 L316.73,549.82 L321.52,549.7 L326.3,549.58 L331.09,549.47 L335.88,549.35" stroke="#333" stroke-width="0.8" fill="none"/>
<path d="M48.6,558.7 L53.39,558.56 L58.18,558.42 L62.96,558.28 L67.75,558.14 L72.54,558 L77.33,557.86 L82.12,557.73 L86.9,557.59 L91.69,557.46 L96.48,557.33 L101.27,557.19 L106.06,557.06 L110.84,556.93 L115.63,556.81 L120.42,556.68 L125.21,556.55 L130,556.43 L134.78,556.3 L139.57,556.18 L144.36,556.06 L149.15,555.93 L153.94,555.81 L158.72,555.69 L163.51,555.57 L168.3,555.46 L173.09,555.34 L177.88,555.22 L182.66,555.11 L187.45,554.99 L192.24,554.88 L197.03,554.77 L201.82,554.66 L206.6,554.55 L211.39,554.44 L216.18,554.33 L220.97,554.22 L225.76,554.11 L230.54,554.01 L235.33,553.9 L240.12,553.8 L244.91,553.69 L249.7,553.59 L254.48,553.49 L259.27,553.38 L264.06,553.28 L268.85,553.18 L273.64,553.08 L278.42,552.99 L283.21,552.89 L288,552.79 L292.79,552.7 L297.58,552.6 L302.36,552.51 L307.15,552.41 L311.94,552.32 L316.73,552.23 L321.52,552.14 L326.3,552.04 L331.09,551.95 L335.88,551.86" stroke="#333" stroke-width="0.8" fill="none"/>
<path d="M48.6,558.7 L53.54,558.7 L58.48,558.7 L63.42,558.7 L68.36,558.7 L73.3,558.7 L78.24,558.7" stroke="#000" stroke-width="0.3" fill="none"/>
<path d="M48.6,558.7 L53.54,558.69 L58.48,558.69 L63.42,558.68 L68.36,558.68 L73.3,558.67 L78.24,558.67" stroke="#000" stroke-width="0.3" fill="none"/>
<path d="M48.6,558.7 L53.54,558.68 L58.48,558.66 L63.42,558.65 L68.36,558.63 L73.3,558.61 L78.24,558.59" stroke="#000" stroke-width="0.3" fill="none"/>
<path d="M48.6,558.7 L53.54,558.66 L58.48,558.62 L63.42,558.59 L68.36,558.55 L73.3,558.51 L78.24,558.48" stroke="#000" stroke-width="0.3" fill="none"/>
<path d="M48.6,558.7 L53.54,558.63 L58.48,558.57 L63.42,558.5 L68.36,558.44 L73.3,558.37 L78.24,558.31" stroke="#000" stroke-width="0.3" fill="none"/>
<path d="M48.6,558.7 L53.54,558.6 L58.48,558.5 L63.42,558.39 L68.36,558.29 L73.3,558.19 L78.24,558.09" stroke="#000" stroke-width="0.3" fill="none"/>
<path d="M48.6,558.7 L53.54,558.55 L58.48,558.4 L63.42,558.26 L68.36,558.11 L73.3,557.97 L78.24,557.83" stroke="#000" stroke-width="0.3" fill="none"/>
<path d="M48.6,558.7 L53.54,558.5 L58.48,558.3 L63.42,558.1 L68.36,557.9 L73.3,557.71 L78.24,557.51" stroke="#000" stroke-width="0.3" fill="none"/>
<path d="M48.6,558.7 L53.54,558.43 L58.48,558.17 L63.42,557.91 L68.36,557.65 L73.3,557.4 L78.24,557.15" stroke="#000" stroke-width="0.3" fill="none"/>
<path d="M48.6,558.7 L53.54,558.36 L58.48,558.03 L63.42,557.7 L68.36,557.37 L73.3,557.05 L78.24,556.73" stroke="#000" stroke-width="0.3" fill="none"/>
<path d="M48.6,558.7 L53.54,558.28 L58.48,557.86 L63.42,557.45 L68.36,557.05 L73.3,556.65 L78.24,556.26" stroke="#000" stroke-width="0.3" fill="none"/>
<path d="M48.6,558.7 L53.54,558.19 L58.48,557.68 L63.42,557.19 L68.36,556.7 L73.3,556.22 L78.24,555.74" stroke="#000" stroke-width="0.3" fill="none"/>
<path d="M48.6,558.7 L53.54,558.09 L58.48,557.48 L63.42,556.89 L68.36,556.31 L73.3,555.73 L78.24,555.17" stroke="#000" stroke-width="0.3" fill="none"/>
<path d="M48.6,558.7 L53.54,557.97 L58.48,557.26 L63.42,556.57 L68.36,555.88 L73.3,555.21 L78.24,554.55" stroke="#000" stroke-width="0.3" fill="none"/>
<path d="M48.6,558.7 L53.54,557.85 L58.48,557.03 L63.42,556.21 L68.36,555.42 L73.3,554.64 L78.24,553.88" stroke="#000" stroke-width="0.3" fill="none"/>
<path d="M48.6,558.7 L53.54,557.72 L58.48,556.77 L63.42,555.83 L68.36,554.92 L73.3,554.03 L78.24,553.15" stroke="#000" stroke-width="0.3" fill="none"/>
<path d="M48.6,558.7 L53.54,557.58 L58.48,556.49 L63.42,555.43 L68.36,554.39 L73.3,553.37 L78.24,552.38" stroke="#000" stroke-width="0.3" fill="none"/>
<path d="M48.6,558.7 L53.54,557.43 L58.48,556.2 L63.42,554.99 L68.36,553.82 L73.3,552.67 L78.24,551.56" stroke="#000" stroke-width="0.3" fill="none"/>
<path d="M48.6,558.7 L53.54,557.27 L58.48,555.88 L63.42,554.53 L68.36,553.21 L73.3,551.93 L78.24,550.68" stroke="#000" stroke-width="0.3" fill="none"/>
<path d="M48.6,558.7 L53.54,557.1 L58.48,555.54 L63.42,554.04 L68.36,552.57 L73.3,551.15 L78.24,549.76" stroke="#000" stroke-width="0.3" fill="none"/>
<path d="M48.6,558.7 L53.54,556.92 L58.48,555.19 L63.42,553.52 L68.36,551.89 L73.3,550.32 L78.24,548.79" stroke="#000" stroke-width="0.3" fill="none"/>
<path d="M48.6,558.7 L53.54,556.73 L58.48,554.82 L63.42,552.97 L68.36,551.18 L73.3,549.45 L78.24,547.77" stroke="#000" stroke-width="0.3" fill="none"/>
<path d="M48.6,558.7 L53.54,556.52 L58.48,554.42 L63.42,552.39 L68.36,550.43 L73.3,548.54 L78.24,546.71" stroke="#000" stroke-width="0.3" fill="none"/>
<path d="M48.6,558.7 L53.54,556.31 L58.48,554.01 L63.42,551.79 L68.36,549.65 L73.3,547.58 L78.24,545.59" stroke="#000" stroke-width="0.3" fill="none"/>
<path d="M48.6,558.7 L53.54,556.09 L58.48,553.58 L63.42,551.16 L68.36,548.83 L73.3,546.59 L78.24,544.43" stroke="#000" stroke-width="0.3" fill="none"/>
<path d="M48.6,558.7 L53.54,555.86 L58.48,553.12 L63.42,550.5 L68.36,547.98 L73.3,545.55 L78.24,543.22" stroke="#000" stroke-width="0.3" fill="none"/>
<path d="M48.6,558.7 L53.54,555.61 L58.48,552.65 L63.42,549.81 L68.36,547.09 L73.3,544.48 L78.24,541.97" stroke="#000" stroke-width="0.3" fill="none"/>
<path d="M48.6,558.7 L53.54,555.36 L58.48,552.16 L63.42,549.1 L68.36,546.16 L73.3,543.36 L78.24,540.67" stroke="#000" stroke-width="0.3" fill="none"/>
<path d="M48.6,558.7 L53.54,555.09 L58.48,551.65 L63.42,548.35 L68.36,545.21 L73.3,542.2 L78.24,539.33" stroke="#000" stroke-width="0.3" fill="none"/>
<path d="M48.6,558.7 L53.54,554.82 L58.48,551.12 L63.42,547.58 L68.36,544.22 L73.3,541 L78.24,537.94" stroke="#000" stroke-width="0.3" fill="none"/>
<path d="M48.6,558.7 L53.54,554.53 L58.48,550.56 L63.42,546.79 L68.36,543.19 L73.3,539.77 L78.24,536.51" stroke="#000" stroke-width="0.3" fill="none"/>
<path d="M48.6,558.7 L53.54,554.24 L58.48,549.99 L63.42,545.96 L68.36,542.13 L73.3,538.49 L78.24,535.03" stroke="#000" stroke-width="0.3" fill="none"/>
<path d="M48.6,558.7 L53.54,553.93 L58.48,549.4 L63.42,545.11 L68.36,541.04 L73.3,537.18 L78.24,533.52" stroke="#000" stroke-width="0.3" fill="none"/>
<path d="M48.6,558.7 L53.54,553.61 L58.48,548.79 L63.42,544.23 L68.36,539.92 L73.3,535.83 L78.24,531.96" stroke="#000" stroke-width="0.3" fill="none"/>
<path d="M48.6,558.7 L53.54,553.28 L58.48,548.16 L63.42,543.33 L68.36,538.76 L73.3,534.44 L78.24,530.36" stroke="#000" stroke-width="0.3" fill="none"/>
<path d="M48.6,558.7 L53.54,552.94 L58.48,547.51 L63.42,542.39 L68.36,537.57 L73.3,533.01 L78.24,528.72" stroke="#000" stroke-width="0.3" fill="none"/>
<path d="M48.6,558.7 L53.54,552.59 L58.48,546.85 L63.42,541.44 L68.36,536.34 L73.3,531.55 L78.24,527.04" stroke="#000" stroke-width="0.3" fill="none"/>
<path d="M48.6,558.7 L53.54,552.23 L58.48,546.16 L63.42,540.45 L68.36,535.09 L73.3,530.05 L78.24,525.32" stroke="#000" stroke-width="0.3" fill="none"/>
<path d="M48.6,558.7 L53.54,551.86 L58.48,545.45 L63.42,539.44 L68.36,533.8 L73.3,528.51 L78.24,523.56" stroke="#000" stroke-width="0.3" fill="none"/>
<path d="M48.6,558.7 L53.54,551.48 L58.48,544.72 L63.42,538.4 L68.36,532.48 L73.3,526.94 L78.24,521.76" stroke="#000" stroke-width="0.3" fill="none"/>
<path d="M48.6,558.7 L53.54,551.09 L58.48,543.98 L63.42,537.34 L68.36,531.13 L73.3,525.34 L78.24,519.92" stroke="#000" stroke-width="0.3" fill="none"/>
<path d="M48.6,558.7 L53.54,550.68 L58.48,543.21 L63.42,536.24 L68.36,529.75 L73.3,523.7 L78.24,518.05" stroke="#000" stroke-width="0.3" fill="none"/>
<path d="M48.6,558.7 L53.54,550.27 L58.48,542.43 L63.42,535.13 L68.36,528.34 L73.3,522.02 L78.24,516.14" stroke="#000" stroke-width="0.3" fill="none"/>
<path d="M48.6,558.7 L53.54,549.85 L58.48,541.62 L63.42,533.99 L68.36,526.9 L73.3,520.31 L78.24,514.2" stroke="#000" stroke-width="0.3" fill="none"/>
<path d="M48.6,558.7 L53.54,549.41 L58.48,540.8 L63.42,532.82 L68.36,525.42 L73.3,518.57 L78.24,512.22" stroke="#000" stroke-width="0.3" fill="none"/>
<defs><linearGradient id="gFadeB" gradientUnits="userSpaceOnUse" x1="70.83" y1="0" x2="82.8" y2="0"><stop offset="0" stop-color="#1010ff"/><stop offset="0.45" stop-color="#6a6aff"/><stop offset="1" stop-color="#c8c8ff" stop-opacity="0.3"/></linearGradient></defs>
<path d="M70.83,380.5 L82.8,380.5 L77.1,469.33 L69.69,519.38 Z" fill="url(#gFadeB)"/>
<path d="M67.98,482.36 C68.05,480.91 68.27,476.65 68.42,473.67 C68.56,470.69 68.71,467.62 68.85,464.46 C69,461.29 69.14,458.04 69.29,454.68 C69.43,451.32 69.58,447.87 69.72,444.31 C69.87,440.74 70.01,437.08 70.16,433.3 C70.3,429.52 70.45,425.64 70.6,421.63 C70.74,417.62 70.89,413.5 71.03,409.25 C71.18,404.99 71.32,400.62 71.47,396.11 C71.61,391.59 71.76,386.96 71.9,382.17 C72.05,377.38 72.19,372.46 72.34,367.38 C72.48,362.3 72.63,357.08 72.77,351.69 C72.92,346.3 73.07,340.77 73.21,335.05 C73.36,329.33 73.5,323.46 73.65,317.39 C73.79,311.33 73.94,305.1 74.08,298.66 C74.23,292.23 74.37,285.62 74.52,278.79 C74.66,271.96 74.81,264.95 74.95,257.71 C75.1,250.47 75.32,239.07 75.39,235.34" stroke="#3c3cff" stroke-width="0.45" fill="none" stroke-opacity="0.8"/>
<path d="M67.98,493.14 C68.06,491.77 68.31,487.75 68.47,484.92 C68.64,482.09 68.8,479.17 68.97,476.14 C69.13,473.12 69.29,470 69.46,466.77 C69.62,463.55 69.79,460.22 69.95,456.77 C70.12,453.33 70.28,449.78 70.44,446.1 C70.61,442.42 70.77,438.63 70.94,434.7 C71.1,430.78 71.27,426.73 71.43,422.54 C71.59,418.35 71.76,414.03 71.92,409.55 C72.09,405.08 72.25,400.46 72.42,395.69 C72.58,390.91 72.74,385.99 72.91,380.89 C73.07,375.79 73.24,370.53 73.4,365.09 C73.57,359.65 73.73,354.04 73.89,348.22 C74.06,342.41 74.22,336.43 74.39,330.22 C74.55,324.02 74.72,317.63 74.88,311 C75.04,304.38 75.21,297.56 75.37,290.49 C75.54,283.42 75.7,276.13 75.87,268.59 C76.03,261.04 76.28,249.1 76.36,245.21" stroke="#3c3cff" stroke-width="0.45" fill="none" stroke-opacity="0.8"/>
<path d="M67.98,501.01 C68.07,499.72 68.35,495.95 68.53,493.27 C68.71,490.6 68.9,487.84 69.08,484.97 C69.26,482.09 69.45,479.13 69.63,476.04 C69.81,472.96 70,469.78 70.18,466.46 C70.36,463.15 70.55,459.73 70.73,456.18 C70.91,452.62 71.1,448.95 71.28,445.13 C71.46,441.31 71.65,437.37 71.83,433.27 C72.01,429.17 72.2,424.93 72.38,420.53 C72.56,416.13 72.75,411.58 72.93,406.85 C73.11,402.12 73.3,397.24 73.48,392.16 C73.66,387.09 73.85,381.84 74.03,376.39 C74.21,370.94 74.4,365.31 74.58,359.45 C74.76,353.6 74.95,347.55 75.13,341.27 C75.31,334.98 75.5,328.49 75.68,321.74 C75.86,314.99 76.04,308.01 76.23,300.77 C76.41,293.52 76.59,286.03 76.78,278.25 C76.96,270.46 77.24,258.1 77.33,254.06" stroke="#3c3cff" stroke-width="0.45" fill="none" stroke-opacity="0.8"/>
<path d="M67.98,506.68 C68.08,505.47 68.38,501.94 68.59,499.42 C68.79,496.91 68.99,494.3 69.19,491.59 C69.4,488.87 69.6,486.06 69.8,483.12 C70,480.19 70.21,477.15 70.41,473.98 C70.61,470.81 70.81,467.53 71.01,464.11 C71.22,460.69 71.42,457.15 71.62,453.46 C71.82,449.76 72.03,445.94 72.23,441.95 C72.43,437.96 72.63,433.83 72.84,429.52 C73.04,425.21 73.24,420.75 73.44,416.1 C73.64,411.45 73.85,406.63 74.05,401.61 C74.25,396.59 74.45,391.39 74.66,385.96 C74.86,380.54 75.06,374.92 75.26,369.06 C75.46,363.21 75.67,357.14 75.87,350.82 C76.07,344.49 76.27,337.94 76.48,331.11 C76.68,324.28 76.88,317.21 77.08,309.84 C77.29,302.46 77.49,294.82 77.69,286.86 C77.89,278.89 78.2,266.18 78.3,262.05" stroke="#3c3cff" stroke-width="0.45" fill="none" stroke-opacity="0.8"/>
<path d="M67.98,510.68 C68.09,509.55 68.42,506.25 68.64,503.88 C68.87,501.52 69.09,499.07 69.31,496.5 C69.53,493.94 69.75,491.28 69.97,488.49 C70.19,485.71 70.41,482.82 70.64,479.8 C70.86,476.77 71.08,473.64 71.3,470.36 C71.52,467.07 71.74,463.67 71.96,460.11 C72.18,456.54 72.41,452.85 72.63,448.98 C72.85,445.11 73.07,441.1 73.29,436.9 C73.51,432.7 73.73,428.34 73.95,423.79 C74.18,419.23 74.4,414.5 74.62,409.55 C74.84,404.6 75.06,399.47 75.28,394.1 C75.5,388.72 75.73,383.15 75.95,377.32 C76.17,371.49 76.39,365.44 76.61,359.11 C76.83,352.77 77.05,346.21 77.27,339.33 C77.5,332.46 77.72,325.33 77.94,317.87 C78.16,310.41 78.38,302.67 78.6,294.57 C78.82,286.47 79.16,273.48 79.27,269.27" stroke="#3c3cff" stroke-width="0.45" fill="none" stroke-opacity="0.8"/>
<path d="M67.98,513.41 C68.1,512.35 68.46,509.27 68.7,507.05 C68.94,504.83 69.18,502.53 69.42,500.11 C69.66,497.69 69.9,495.17 70.14,492.53 C70.38,489.89 70.62,487.15 70.86,484.27 C71.1,481.39 71.34,478.39 71.58,475.25 C71.82,472.11 72.06,468.84 72.31,465.41 C72.55,461.98 72.79,458.42 73.03,454.68 C73.27,450.94 73.51,447.05 73.75,442.96 C73.99,438.88 74.23,434.64 74.47,430.19 C74.71,425.73 74.95,421.1 75.19,416.24 C75.43,411.38 75.67,406.33 75.91,401.03 C76.15,395.73 76.39,390.22 76.63,384.43 C76.87,378.65 77.11,372.64 77.35,366.32 C77.59,360.01 77.83,353.45 78.07,346.57 C78.31,339.68 78.55,332.52 78.79,325.01 C79.03,317.49 79.27,309.68 79.51,301.49 C79.75,293.29 80.11,280.1 80.23,275.82" stroke="#3c3cff" stroke-width="0.45" fill="none" stroke-opacity="0.8"/>
<path d="M67.98,515.17 C68.11,514.18 68.5,511.3 68.76,509.22 C69.02,507.13 69.28,504.97 69.54,502.68 C69.8,500.4 70.05,498.03 70.31,495.52 C70.57,493.02 70.83,490.42 71.09,487.67 C71.35,484.93 71.61,482.08 71.87,479.07 C72.13,476.06 72.39,472.93 72.65,469.63 C72.91,466.34 73.17,462.91 73.43,459.29 C73.68,455.68 73.94,451.92 74.2,447.95 C74.46,443.99 74.72,439.87 74.98,435.53 C75.24,431.18 75.5,426.66 75.76,421.9 C76.02,417.14 76.28,412.18 76.54,406.96 C76.8,401.74 77.06,396.31 77.31,390.59 C77.57,384.86 77.83,378.91 78.09,372.63 C78.35,366.36 78.61,359.83 78.87,352.95 C79.13,346.08 79.39,338.91 79.65,331.38 C79.91,323.84 80.17,315.99 80.43,307.72 C80.69,299.46 81.07,286.11 81.2,281.79" stroke="#3c3cff" stroke-width="0.45" fill="none" stroke-opacity="0.8"/>
<path d="M67.98,516.2 C68.12,515.27 68.54,512.57 68.81,510.62 C69.09,508.66 69.37,506.62 69.65,504.47 C69.93,502.31 70.21,500.07 70.48,497.7 C70.76,495.32 71.04,492.85 71.32,490.24 C71.6,487.63 71.88,484.9 72.15,482.03 C72.43,479.15 72.71,476.15 72.99,472.99 C73.27,469.82 73.55,466.51 73.82,463.03 C74.1,459.54 74.38,455.9 74.66,452.06 C74.94,448.22 75.22,444.22 75.49,439.99 C75.77,435.76 76.05,431.35 76.33,426.69 C76.61,422.03 76.89,417.17 77.16,412.05 C77.44,406.92 77.72,401.57 78,395.92 C78.28,390.27 78.56,384.38 78.83,378.16 C79.11,371.94 79.39,365.46 79.67,358.61 C79.95,351.76 80.22,344.61 80.5,337.07 C80.78,329.53 81.06,321.66 81.34,313.36 C81.62,305.05 82.03,291.6 82.17,287.24" stroke="#3c3cff" stroke-width="0.45" fill="none" stroke-opacity="0.8"/>
<path d="M67.98,516.66 C68.13,515.79 68.57,513.26 68.87,511.42 C69.17,509.58 69.47,507.66 69.76,505.63 C70.06,503.6 70.36,501.47 70.66,499.22 C70.95,496.97 71.25,494.62 71.55,492.13 C71.84,489.65 72.14,487.05 72.44,484.3 C72.74,481.55 73.03,478.67 73.33,475.63 C73.63,472.59 73.93,469.41 74.22,466.04 C74.52,462.68 74.82,459.16 75.12,455.44 C75.41,451.72 75.71,447.83 76.01,443.72 C76.3,439.6 76.6,435.3 76.9,430.75 C77.2,426.2 77.49,421.45 77.79,416.42 C78.09,411.38 78.39,406.13 78.68,400.56 C78.98,394.99 79.28,389.18 79.57,383.02 C79.87,376.87 80.17,370.44 80.47,363.63 C80.76,356.83 81.06,349.71 81.36,342.19 C81.66,334.66 81.95,326.79 82.25,318.47 C82.55,310.14 82.99,296.61 83.14,292.24" stroke="#3c3cff" stroke-width="0.45" fill="none" stroke-opacity="0.8"/>
<path d="M67.98,516.7 C68.14,515.88 68.61,513.51 68.93,511.78 C69.25,510.05 69.56,508.23 69.88,506.31 C70.19,504.39 70.51,502.37 70.83,500.24 C71.14,498.1 71.46,495.87 71.78,493.5 C72.09,491.12 72.41,488.64 72.72,486.01 C73.04,483.38 73.36,480.62 73.67,477.7 C73.99,474.77 74.31,471.71 74.62,468.47 C74.94,465.22 75.25,461.83 75.57,458.22 C75.89,454.62 76.2,450.84 76.52,446.84 C76.84,442.84 77.15,438.65 77.47,434.21 C77.79,429.76 78.1,425.11 78.42,420.18 C78.73,415.25 79.05,410.08 79.37,404.6 C79.68,399.13 80,393.39 80.32,387.31 C80.63,381.23 80.95,374.86 81.26,368.11 C81.58,361.35 81.9,354.29 82.21,346.79 C82.53,339.29 82.85,331.44 83.16,323.11 C83.48,314.79 83.95,301.21 84.11,296.83" stroke="#3c3cff" stroke-width="0.45" fill="none" stroke-opacity="0.8"/>
<path d="M67.98,516.43 C68.15,515.65 68.65,513.42 68.99,511.79 C69.32,510.15 69.66,508.44 69.99,506.62 C70.33,504.8 70.66,502.89 71,500.86 C71.33,498.83 71.67,496.7 72,494.43 C72.34,492.17 72.67,489.8 73.01,487.28 C73.34,484.76 73.68,482.11 74.02,479.3 C74.35,476.49 74.69,473.54 75.02,470.41 C75.36,467.28 75.69,463.99 76.03,460.5 C76.36,457.01 76.7,453.35 77.03,449.46 C77.37,445.56 77.7,441.49 78.04,437.15 C78.37,432.81 78.71,428.26 79.04,423.43 C79.38,418.59 79.72,413.53 80.05,408.14 C80.39,402.75 80.72,397.1 81.06,391.1 C81.39,385.09 81.73,378.8 82.06,372.1 C82.4,365.41 82.73,358.4 83.07,350.94 C83.4,343.48 83.74,335.66 84.07,327.34 C84.41,319.03 84.91,305.43 85.08,301.05" stroke="#3c3cff" stroke-width="0.45" fill="none" stroke-opacity="0.8"/>
<path d="M67.98,515.91 C68.16,515.18 68.69,513.08 69.04,511.53 C69.4,509.99 69.75,508.37 70.11,506.64 C70.46,504.91 70.81,503.1 71.17,501.16 C71.52,499.23 71.88,497.2 72.23,495.04 C72.59,492.87 72.94,490.6 73.29,488.19 C73.65,485.77 74,483.23 74.36,480.52 C74.71,477.82 75.07,474.98 75.42,471.95 C75.77,468.93 76.13,465.75 76.48,462.37 C76.84,458.98 77.19,455.43 77.55,451.64 C77.9,447.86 78.25,443.89 78.61,439.65 C78.96,435.42 79.32,430.97 79.67,426.24 C80.03,421.5 80.38,416.53 80.73,411.23 C81.09,405.94 81.44,400.38 81.8,394.45 C82.15,388.53 82.51,382.31 82.86,375.68 C83.21,369.06 83.57,362.1 83.92,354.69 C84.28,347.28 84.63,339.5 84.99,331.21 C85.34,322.92 85.87,309.32 86.05,304.95" stroke="#3c3cff" stroke-width="0.45" fill="none" stroke-opacity="0.8"/>
<path d="M70.26,506.03 C70.42,505.23 70.89,502.94 71.21,501.27 C71.52,499.61 71.84,497.87 72.15,496.03 C72.47,494.19 72.78,492.27 73.1,490.23 C73.41,488.2 73.73,486.08 74.04,483.84 C74.36,481.6 74.67,479.26 74.99,476.78 C75.3,474.3 75.62,471.72 75.93,468.99 C76.25,466.25 76.56,463.4 76.88,460.38 C77.19,457.36 77.51,454.21 77.82,450.88 C78.14,447.55 78.45,444.07 78.77,440.39 C79.08,436.71 79.4,432.87 79.72,428.81 C80.03,424.75 80.35,420.51 80.66,416.03 C80.98,411.55 81.29,406.87 81.61,401.92 C81.92,396.97 82.24,391.8 82.55,386.34 C82.87,380.87 83.18,375.17 83.5,369.14 C83.81,363.1 84.13,356.81 84.44,350.15 C84.76,343.49 85.07,336.53 85.39,329.18 C85.7,321.83 86.18,309.89 86.33,306.04" stroke="#4a4af5" stroke-width="0.8" fill="none"/>
<path d="M70.26,506.29 C70.44,505.59 70.98,503.58 71.35,502.11 C71.71,500.64 72.07,499.1 72.43,497.46 C72.79,495.82 73.16,494.1 73.52,492.28 C73.88,490.45 74.24,488.54 74.61,486.51 C74.97,484.47 75.33,482.35 75.69,480.08 C76.05,477.82 76.42,475.45 76.78,472.93 C77.14,470.41 77.5,467.78 77.86,464.97 C78.23,462.17 78.59,459.23 78.95,456.11 C79.31,452.98 79.68,449.71 80.04,446.24 C80.4,442.76 80.76,439.12 81.12,435.25 C81.49,431.38 81.85,427.32 82.21,423.01 C82.57,418.7 82.93,414.19 83.3,409.39 C83.66,404.59 84.02,399.56 84.38,394.22 C84.74,388.88 85.11,383.28 85.47,377.33 C85.83,371.38 86.19,365.15 86.56,358.53 C86.92,351.91 87.28,344.97 87.64,337.59 C88,330.22 88.55,318.17 88.73,314.29" stroke="#4a4af5" stroke-width="0.8" fill="none"/>
<path d="M70.26,505.52 C70.46,504.89 71.07,503.1 71.48,501.78 C71.89,500.46 72.29,499.07 72.7,497.59 C73.11,496.11 73.51,494.55 73.92,492.89 C74.33,491.23 74.74,489.49 75.14,487.62 C75.55,485.76 75.96,483.81 76.36,481.72 C76.77,479.63 77.18,477.44 77.58,475.1 C77.99,472.76 78.4,470.3 78.8,467.68 C79.21,465.06 79.62,462.3 80.02,459.36 C80.43,456.42 80.84,453.33 81.24,450.03 C81.65,446.73 82.06,443.27 82.46,439.57 C82.87,435.88 83.28,431.99 83.69,427.85 C84.09,423.71 84.5,419.35 84.91,414.71 C85.31,410.06 85.72,405.18 86.13,399.97 C86.53,394.76 86.94,389.29 87.35,383.45 C87.75,377.61 88.16,371.47 88.57,364.93 C88.97,358.38 89.38,351.5 89.79,344.16 C90.19,336.82 90.8,324.76 91.01,320.88" stroke="#4a4af5" stroke-width="0.8" fill="none"/>
<path d="M70.26,504.32 C70.48,503.75 71.16,502.12 71.61,500.92 C72.06,499.72 72.51,498.45 72.96,497.09 C73.41,495.74 73.85,494.31 74.3,492.78 C74.75,491.25 75.2,489.64 75.65,487.91 C76.1,486.19 76.55,484.37 77,482.42 C77.45,480.48 77.9,478.43 78.35,476.24 C78.8,474.05 79.25,471.74 79.7,469.27 C80.14,466.79 80.59,464.19 81.04,461.4 C81.49,458.62 81.94,455.68 82.39,452.54 C82.84,449.4 83.29,446.09 83.74,442.55 C84.19,439 84.64,435.27 85.09,431.28 C85.54,427.28 85.99,423.08 86.43,418.57 C86.88,414.07 87.33,409.33 87.78,404.25 C88.23,399.17 88.68,393.83 89.13,388.1 C89.58,382.38 90.03,376.35 90.48,369.9 C90.93,363.44 91.38,356.65 91.83,349.37 C92.28,342.09 92.95,330.08 93.17,326.23" stroke="#4a4af5" stroke-width="0.8" fill="none"/>
<path d="M70.26,503.07 C70.5,502.55 71.23,501.05 71.72,499.93 C72.21,498.81 72.7,497.63 73.18,496.37 C73.67,495.1 74.16,493.77 74.65,492.34 C75.13,490.91 75.62,489.4 76.11,487.78 C76.59,486.15 77.08,484.45 77.57,482.61 C78.06,480.77 78.54,478.84 79.03,476.76 C79.52,474.68 80.01,472.49 80.49,470.13 C80.98,467.78 81.47,465.3 81.96,462.63 C82.44,459.97 82.93,457.16 83.42,454.14 C83.9,451.12 84.39,447.94 84.88,444.52 C85.37,441.1 85.85,437.5 86.34,433.63 C86.83,429.76 87.32,425.68 87.8,421.3 C88.29,416.92 88.78,412.3 89.26,407.34 C89.75,402.37 90.24,397.14 90.73,391.52 C91.21,385.91 91.7,379.98 92.19,373.62 C92.68,367.26 93.16,360.55 93.65,353.35 C94.14,346.15 94.87,334.22 95.11,330.4" stroke="#4a4af5" stroke-width="0.8" fill="none"/>
<path d="M70.26,501.56 C70.53,501.07 71.32,499.69 71.86,498.66 C72.39,497.62 72.92,496.53 73.45,495.36 C73.98,494.18 74.52,492.94 75.05,491.61 C75.58,490.27 76.11,488.86 76.64,487.34 C77.18,485.82 77.71,484.22 78.24,482.49 C78.77,480.76 79.3,478.94 79.84,476.98 C80.37,475.01 80.9,472.94 81.43,470.7 C81.96,468.47 82.5,466.11 83.03,463.57 C83.56,461.03 84.09,458.35 84.62,455.46 C85.16,452.57 85.69,449.52 86.22,446.24 C86.75,442.95 87.28,439.49 87.82,435.75 C88.35,432.02 88.88,428.07 89.41,423.83 C89.94,419.58 90.48,415.09 91.01,410.26 C91.54,405.43 92.07,400.33 92.6,394.84 C93.14,389.35 93.67,383.55 94.2,377.3 C94.73,371.06 95.26,364.47 95.8,357.36 C96.33,350.26 97.13,338.46 97.39,334.68" stroke="#4a4af5" stroke-width="0.8" fill="none"/>
<path d="M70.26,499.8 C70.55,499.35 71.43,498.08 72.02,497.13 C72.6,496.17 73.19,495.17 73.77,494.08 C74.36,492.99 74.95,491.84 75.53,490.59 C76.12,489.35 76.7,488.04 77.29,486.62 C77.87,485.2 78.46,483.7 79.04,482.08 C79.63,480.46 80.22,478.74 80.8,476.89 C81.39,475.04 81.97,473.09 82.56,470.97 C83.14,468.86 83.73,466.63 84.32,464.21 C84.9,461.8 85.49,459.25 86.07,456.49 C86.66,453.74 87.24,450.83 87.83,447.68 C88.42,444.54 89,441.21 89.59,437.62 C90.17,434.03 90.76,430.23 91.34,426.13 C91.93,422.03 92.51,417.69 93.1,413.01 C93.69,408.33 94.27,403.38 94.86,398.03 C95.44,392.69 96.03,387.03 96.61,380.93 C97.2,374.82 97.79,368.37 98.37,361.4 C98.96,354.43 99.84,342.82 100.13,339.1" stroke="#4a4af5" stroke-width="0.8" fill="none"/>
<path d="M70.26,498.27 C70.58,497.85 71.53,496.66 72.17,495.77 C72.81,494.87 73.45,493.92 74.08,492.9 C74.72,491.87 75.36,490.79 75.99,489.62 C76.63,488.44 77.27,487.2 77.9,485.86 C78.54,484.51 79.18,483.09 79.82,481.55 C80.45,480.01 81.09,478.38 81.73,476.62 C82.36,474.86 83,472.99 83.64,470.97 C84.28,468.96 84.91,466.82 85.55,464.51 C86.19,462.2 86.82,459.75 87.46,457.1 C88.1,454.46 88.73,451.65 89.37,448.62 C90.01,445.59 90.65,442.38 91.28,438.91 C91.92,435.44 92.56,431.77 93.19,427.79 C93.83,423.81 94.47,419.61 95.11,415.05 C95.74,410.5 96.38,405.68 97.02,400.47 C97.65,395.25 98.29,389.74 98.93,383.76 C99.56,377.79 100.2,371.48 100.84,364.64 C101.48,357.8 102.43,346.38 102.75,342.73" stroke="#4a4af5" stroke-width="0.8" fill="none"/>
<path d="M70.26,496.77 C70.61,496.38 71.65,495.26 72.35,494.41 C73.04,493.57 73.74,492.67 74.43,491.7 C75.13,490.73 75.82,489.71 76.52,488.59 C77.21,487.48 77.91,486.3 78.6,485.02 C79.3,483.74 79.99,482.39 80.69,480.92 C81.38,479.45 82.08,477.9 82.77,476.22 C83.47,474.53 84.16,472.75 84.86,470.82 C85.55,468.88 86.25,466.84 86.94,464.62 C87.64,462.4 88.33,460.05 89.03,457.5 C89.72,454.95 90.42,452.26 91.12,449.33 C91.81,446.41 92.51,443.31 93.2,439.96 C93.9,436.6 94.59,433.05 95.29,429.2 C95.98,425.34 96.68,421.26 97.37,416.84 C98.07,412.42 98.76,407.74 99.46,402.66 C100.15,397.59 100.85,392.21 101.54,386.38 C102.24,380.56 102.93,374.39 103.63,367.7 C104.32,361.01 105.37,349.83 105.71,346.25" stroke="#4a4af5" stroke-width="0.8" fill="none"/>
<path d="M70.26,495.34 C70.64,494.97 71.79,493.9 72.55,493.1 C73.32,492.3 74.08,491.45 74.85,490.52 C75.61,489.6 76.38,488.62 77.14,487.56 C77.9,486.49 78.67,485.37 79.43,484.15 C80.2,482.93 80.96,481.63 81.73,480.23 C82.49,478.82 83.26,477.34 84.02,475.72 C84.78,474.11 85.55,472.4 86.31,470.54 C87.08,468.68 87.84,466.72 88.61,464.58 C89.37,462.45 90.14,460.19 90.9,457.74 C91.67,455.28 92.43,452.69 93.19,449.86 C93.96,447.04 94.72,444.06 95.49,440.81 C96.25,437.57 97.02,434.14 97.78,430.41 C98.55,426.68 99.31,422.73 100.07,418.45 C100.84,414.16 101.6,409.62 102.37,404.69 C103.13,399.77 103.9,394.55 104.66,388.88 C105.43,383.22 106.19,377.22 106.95,370.7 C107.72,364.19 108.87,353.29 109.25,349.8" stroke="#4a4af5" stroke-width="0.8" fill="none"/>
<path d="M70.26,494.3 C70.68,493.94 71.93,492.91 72.76,492.13 C73.6,491.35 74.43,490.53 75.26,489.63 C76.1,488.74 76.93,487.79 77.76,486.76 C78.6,485.73 79.43,484.64 80.27,483.46 C81.1,482.27 81.93,481.02 82.77,479.66 C83.6,478.29 84.43,476.85 85.27,475.29 C86.1,473.72 86.94,472.06 87.77,470.26 C88.6,468.46 89.44,466.55 90.27,464.48 C91.1,462.41 91.94,460.21 92.77,457.83 C93.61,455.45 94.44,452.92 95.27,450.18 C96.11,447.44 96.94,444.54 97.77,441.39 C98.61,438.24 99.44,434.9 100.28,431.27 C101.11,427.65 101.94,423.81 102.78,419.64 C103.61,415.47 104.44,411.05 105.28,406.25 C106.11,401.46 106.95,396.38 107.78,390.86 C108.61,385.35 109.45,379.5 110.28,373.16 C111.11,366.81 112.37,356.19 112.78,352.8" stroke="#4a4af5" stroke-width="0.8" fill="none"/>
<path d="M70.26,493.54 C70.72,493.18 72.09,492.17 73,491.41 C73.92,490.65 74.83,489.84 75.75,488.96 C76.66,488.08 77.57,487.15 78.49,486.14 C79.4,485.14 80.32,484.07 81.23,482.91 C82.15,481.75 83.06,480.52 83.97,479.19 C84.89,477.86 85.8,476.45 86.72,474.91 C87.63,473.38 88.54,471.76 89.46,470 C90.37,468.24 91.29,466.38 92.2,464.36 C93.12,462.33 94.03,460.19 94.94,457.87 C95.86,455.54 96.77,453.08 97.69,450.41 C98.6,447.73 99.52,444.9 100.43,441.83 C101.34,438.76 102.26,435.51 103.17,431.98 C104.09,428.45 105,424.71 105.92,420.65 C106.83,416.6 107.74,412.3 108.66,407.64 C109.57,402.97 110.49,398.03 111.4,392.67 C112.31,387.31 113.23,381.64 114.14,375.48 C115.06,369.32 116.43,359.01 116.89,355.71" stroke="#4a4af5" stroke-width="0.8" fill="none"/>
<path d="M70.26,493.22 C70.76,492.86 72.27,491.85 73.28,491.09 C74.28,490.32 75.29,489.52 76.3,488.64 C77.3,487.76 78.31,486.84 79.31,485.83 C80.32,484.83 81.32,483.77 82.33,482.62 C83.34,481.47 84.34,480.25 85.35,478.93 C86.35,477.61 87.36,476.21 88.37,474.7 C89.37,473.18 90.38,471.58 91.38,469.84 C92.39,468.1 93.4,466.27 94.4,464.27 C95.41,462.28 96.41,460.17 97.42,457.89 C98.42,455.6 99.43,453.18 100.44,450.56 C101.44,447.94 102.45,445.17 103.45,442.16 C104.46,439.16 105.47,435.98 106.47,432.53 C107.48,429.08 108.48,425.43 109.49,421.48 C110.5,417.52 111.5,413.34 112.51,408.8 C113.51,404.27 114.52,399.47 115.52,394.27 C116.53,389.06 117.54,383.56 118.54,377.59 C119.55,371.63 121.06,361.66 121.56,358.47" stroke="#4a4af5" stroke-width="0.8" fill="none"/>
<path d="M70.26,493.43 C70.81,493.06 72.46,492.03 73.57,491.25 C74.67,490.47 75.77,489.65 76.87,488.76 C77.97,487.87 79.08,486.93 80.18,485.92 C81.28,484.9 82.38,483.83 83.48,482.67 C84.59,481.5 85.69,480.28 86.79,478.95 C87.89,477.62 88.99,476.22 90.1,474.7 C91.2,473.18 92.3,471.58 93.4,469.84 C94.5,468.11 95.61,466.28 96.71,464.29 C97.81,462.31 98.91,460.21 100.01,457.95 C101.12,455.68 102.22,453.28 103.32,450.69 C104.42,448.1 105.52,445.36 106.63,442.4 C107.73,439.44 108.83,436.31 109.93,432.92 C111.03,429.53 112.14,425.95 113.24,422.08 C114.34,418.21 115.44,414.12 116.54,409.7 C117.65,405.27 118.75,400.6 119.85,395.54 C120.95,390.48 122.05,385.14 123.16,379.36 C124.26,373.57 125.91,363.94 126.46,360.85" stroke="#4a4af5" stroke-width="0.8" fill="none"/>
<path d="M70.26,494.44 C70.87,494.06 72.72,492.96 73.95,492.15 C75.18,491.33 76.41,490.47 77.64,489.54 C78.87,488.62 80.1,487.64 81.32,486.58 C82.55,485.53 83.78,484.42 85.01,483.22 C86.24,482.02 87.47,480.75 88.7,479.39 C89.93,478.03 91.16,476.59 92.39,475.05 C93.62,473.5 94.85,471.87 96.08,470.11 C97.31,468.35 98.54,466.49 99.77,464.49 C101,462.5 102.22,460.39 103.45,458.12 C104.68,455.84 105.91,453.45 107.14,450.87 C108.37,448.28 109.6,445.56 110.83,442.63 C112.06,439.69 113.29,436.6 114.52,433.26 C115.75,429.93 116.98,426.41 118.21,422.62 C119.44,418.83 120.67,414.83 121.9,410.53 C123.12,406.22 124.35,401.68 125.58,396.79 C126.81,391.89 128.04,386.73 129.27,381.17 C130.5,375.6 132.35,366.37 132.96,363.42" stroke="#4a4af5" stroke-width="0.8" fill="none"/>
<path d="M70.26,497.72 C70.98,497.29 73.16,496.03 74.61,495.11 C76.05,494.18 77.5,493.21 78.95,492.17 C80.4,491.13 81.85,490.04 83.3,488.88 C84.74,487.71 86.19,486.49 87.64,485.18 C89.09,483.87 90.54,482.49 91.99,481.02 C93.44,479.55 94.88,478.01 96.33,476.36 C97.78,474.71 99.23,472.98 100.68,471.13 C102.13,469.28 103.57,467.33 105.02,465.25 C106.47,463.17 107.92,460.99 109.37,458.66 C110.82,456.32 112.27,453.87 113.71,451.25 C115.16,448.63 116.61,445.88 118.06,442.94 C119.51,440 120.96,436.91 122.4,433.6 C123.85,430.3 125.3,426.83 126.75,423.13 C128.2,419.42 129.65,415.53 131.1,411.36 C132.54,407.2 133.99,402.83 135.44,398.16 C136.89,393.49 138.34,388.58 139.79,383.33 C141.24,378.09 143.41,369.47 144.13,366.69" stroke="#4a4af5" stroke-width="0.8" fill="none"/>
<path d="M70.26,502.32 C71.09,501.81 73.59,500.34 75.26,499.26 C76.92,498.19 78.59,497.06 80.25,495.87 C81.92,494.68 83.58,493.44 85.25,492.12 C86.91,490.8 88.58,489.42 90.24,487.96 C91.91,486.5 93.57,484.97 95.24,483.36 C96.9,481.74 98.57,480.05 100.24,478.25 C101.9,476.46 103.57,474.59 105.23,472.6 C106.9,470.61 108.56,468.54 110.23,466.34 C111.89,464.14 113.56,461.84 115.22,459.4 C116.89,456.96 118.55,454.42 120.22,451.72 C121.88,449.02 123.55,446.2 125.21,443.21 C126.88,440.21 128.55,437.09 130.21,433.78 C131.88,430.46 133.54,427 135.21,423.33 C136.87,419.66 138.54,415.82 140.2,411.76 C141.87,407.69 143.53,403.44 145.2,398.94 C146.86,394.44 148.53,389.73 150.19,384.74 C151.86,379.75 154.36,371.63 155.19,369.01" stroke="#4a4af5" stroke-width="0.8" fill="none"/>
<path d="M70.26,509.94 C71.24,509.3 74.19,507.44 76.16,506.11 C78.13,504.77 80.1,503.39 82.06,501.94 C84.03,500.49 86,498.98 87.96,497.4 C89.93,495.83 91.9,494.19 93.86,492.47 C95.83,490.76 97.8,488.97 99.77,487.11 C101.73,485.24 103.7,483.3 105.67,481.27 C107.63,479.24 109.6,477.14 111.57,474.93 C113.54,472.72 115.5,470.43 117.47,468.03 C119.44,465.63 121.4,463.14 123.37,460.52 C125.34,457.91 127.3,455.2 129.27,452.36 C131.24,449.52 133.21,446.57 135.17,443.48 C137.14,440.4 139.11,437.19 141.07,433.83 C143.04,430.47 145.01,426.98 146.98,423.33 C148.94,419.67 150.91,415.88 152.88,411.91 C154.84,407.93 156.81,403.81 158.78,399.49 C160.74,395.16 162.71,390.68 164.68,385.98 C166.65,381.28 169.6,373.73 170.58,371.29" stroke="#4a4af5" stroke-width="0.8" fill="none"/>
<path d="M70.26,513.98 C71.45,513.22 75.02,511.03 77.4,509.47 C79.78,507.91 82.16,506.31 84.54,504.64 C86.92,502.98 89.3,501.26 91.69,499.47 C94.07,497.69 96.45,495.84 98.83,493.93 C101.21,492.02 103.59,490.04 105.97,487.99 C108.35,485.95 110.73,483.83 113.11,481.64 C115.49,479.44 117.87,477.17 120.25,474.82 C122.63,472.47 125.01,470.04 127.39,467.52 C129.77,465 132.16,462.4 134.54,459.7 C136.92,457 139.3,454.22 141.68,451.33 C144.06,448.43 146.44,445.45 148.82,442.35 C151.2,439.25 153.58,436.05 155.96,432.74 C158.34,429.42 160.72,425.99 163.1,422.43 C165.48,418.88 167.86,415.21 170.24,411.4 C172.63,407.59 175.01,403.65 177.39,399.57 C179.77,395.49 182.15,391.28 184.53,386.91 C186.91,382.53 190.48,375.6 191.67,373.33" stroke="#4a4af5" stroke-width="0.8" fill="none"/>
<path d="M73.68,515.8 C75.2,514.31 78.45,510.2 82.8,506.86 C87.15,503.53 91.1,501.38 99.79,495.78 C108.47,490.18 123.19,479.99 134.9,473.26 C146.6,466.52 158.31,460.98 170.01,455.38 C181.71,449.78 193.42,445.79 205.12,439.65 C216.83,433.52 227.07,428.39 240.23,418.56 C253.4,408.73 275.78,388.89 284.12,380.67 C292.47,372.44 289.25,371.13 290.28,369.23" stroke="#4a4af5" stroke-width="0.8" fill="none"/>
<path d="M73.68,514.01 C75.2,512.23 78.43,507.46 82.8,503.29 C87.17,499.12 91.18,496.14 99.9,488.99 C108.62,481.84 123.38,470.52 135.13,460.39 C146.87,450.26 160.07,437.75 170.35,428.21 C180.63,418.68 188.33,411.23 196.8,403.19 C205.27,395.14 216.26,384.72 221.2,379.95 C226.14,375.18 225.57,375.48 226.44,374.59" stroke="#4a4af5" stroke-width="0.8" fill="none"/>
<path d="M50.5,380.5 L71.17,380.5 L69.8,469.33 L68.89,519.38 L63.42,525.81 L54.3,526.53 L50.88,556.91 L49.74,558.7 L50.5,558.7Z" fill="#0000ff"/>
<path d="M50.88,556.91 L54.3,526.53 L62.28,525.45 L65.13,530.82Z" fill="#ff0000"/>
<path d="M48.6,558.7 L66.27,527.96" stroke="#2020ff" stroke-width="1.6"/>
<path d="M48.6,490.06 C51.45,491.43 60,495.45 65.7,498.3 C71.4,501.15 77.1,504.12 82.8,507.16 C88.5,510.21 94.2,513.7 99.9,516.58 C105.6,519.46 111.3,521.92 117,524.44 C122.7,526.97 128.4,529.64 134.1,531.72 C139.8,533.81 145.5,535.34 151.2,536.96 C156.9,538.58 162.6,540.14 168.3,541.46 C174,542.78 179.7,543.62 185.4,544.87 C191.1,546.11 196.8,547.54 202.5,548.95 C208.2,550.36 213.9,551.68 219.6,553.3 C225.3,554.93 232.6,557.33 236.7,558.7 C240.8,560.07 241.72,560.52 244.22,561.54 C246.73,562.56 249.24,563.65 251.75,564.81 C254.26,565.97 256.76,567.2 259.27,568.5 C261.78,569.8 264.29,571.18 266.8,572.62 C269.3,574.07 271.81,575.58 274.32,577.17 C276.83,578.76 279.34,580.41 281.84,582.14 C284.35,583.87 286.86,585.67 289.37,587.54 C291.88,589.41 294.38,591.36 296.89,593.37 C299.4,595.38 301.91,597.47 304.42,599.62 C306.92,601.78 309.43,604.01 311.94,606.3 C314.45,608.6 316.96,610.97 319.46,613.41 C321.97,615.85 324.48,618.36 326.99,620.94 C329.5,623.53 332,626.18 334.51,628.9 C337.02,631.63 339.53,634.42 342.04,637.29 C344.54,640.16 348.31,644.64 349.56,646.1" stroke="#ff2020" stroke-width="0.75" fill="none"/>
<path d="M48.6,490.06 C50.79,491.43 57.37,495.45 61.76,498.3 C66.15,501.15 70.54,504.12 74.92,507.16 C79.31,510.21 83.7,513.7 88.09,516.58 C92.47,519.46 96.86,521.92 101.25,524.44 C105.63,526.97 110.02,529.64 114.41,531.72 C118.8,533.81 123.18,535.34 127.57,536.96 C131.96,538.58 136.35,540.14 140.73,541.46 C145.12,542.78 149.51,543.62 153.89,544.87 C158.28,546.11 162.67,547.54 167.06,548.95 C171.44,550.36 175.83,551.68 180.22,553.3 C184.61,554.93 190.22,557.2 193.38,558.7 C196.54,560.2 197.24,561.03 199.17,562.29 C201.1,563.54 203.03,564.85 204.96,566.22 C206.89,567.59 208.82,569.01 210.75,570.5 C212.68,571.98 214.61,573.52 216.54,575.12 C218.48,576.72 220.41,578.38 222.34,580.09 C224.27,581.81 226.2,583.58 228.13,585.41 C230.06,587.24 231.99,589.12 233.92,591.07 C235.85,593.01 237.78,595.02 239.71,597.08 C241.64,599.14 243.57,601.26 245.5,603.43 C247.43,605.61 249.36,607.84 251.29,610.13 C253.22,612.42 255.15,614.77 257.08,617.18 C259.01,619.59 260.94,622.05 262.87,624.57 C264.8,627.09 266.74,629.67 268.67,632.31 C270.6,634.95 272.53,637.64 274.46,640.4 C276.39,643.15 278.32,645.96 280.25,648.83 C282.18,651.69 284.11,654.62 286.04,657.6 C287.97,660.59 289.9,663.63 291.83,666.73 C293.76,669.82 296.66,674.62 297.62,676.19" stroke="#ff2020" stroke-width="0.75" fill="none"/>
<path d="M48.6,490.06 C50.36,491.43 55.65,495.45 59.17,498.3 C62.69,501.15 66.22,504.12 69.74,507.16 C73.27,510.21 76.79,513.7 80.31,516.58 C83.84,519.46 87.36,521.92 90.88,524.44 C94.41,526.97 97.93,529.64 101.45,531.72 C104.98,533.81 108.5,535.34 112.03,536.96 C115.55,538.58 119.07,540.14 122.6,541.46 C126.12,542.78 129.64,543.62 133.17,544.87 C136.69,546.11 140.21,547.54 143.74,548.95 C147.26,550.36 150.79,551.68 154.31,553.3 C157.83,554.93 162.34,557.07 164.88,558.7 C167.42,560.33 167.98,561.58 169.53,563.09 C171.08,564.61 172.63,566.17 174.18,567.78 C175.73,569.39 177.28,571.05 178.83,572.76 C180.38,574.46 181.93,576.22 183.48,578.02 C185.04,579.83 186.59,581.68 188.14,583.58 C189.69,585.48 191.24,587.43 192.79,589.42 C194.34,591.42 195.89,593.47 197.44,595.56 C198.99,597.66 200.54,599.8 202.09,601.99 C203.64,604.18 205.19,606.42 206.74,608.71 C208.29,610.99 209.84,613.33 211.39,615.71 C212.94,618.1 214.49,620.53 216.04,623.01 C217.59,625.49 219.14,628.02 220.69,630.6 C222.24,633.18 223.8,635.81 225.35,638.48 C226.9,641.16 228.45,643.88 230,646.65 C231.55,649.42 233.1,652.24 234.65,655.11 C236.2,657.98 237.75,660.9 239.3,663.86 C240.85,666.83 243.18,671.4 243.95,672.9" stroke="#ff2020" stroke-width="0.75" fill="none"/>
<path d="M48.6,490.06 C50.07,491.43 54.47,495.45 57.41,498.3 C60.35,501.15 63.28,504.12 66.22,507.16 C69.15,510.21 72.09,513.7 75.03,516.58 C77.96,519.46 80.9,521.92 83.84,524.44 C86.77,526.97 89.71,529.64 92.65,531.72 C95.58,533.81 98.52,535.34 101.45,536.96 C104.39,538.58 107.33,540.14 110.26,541.46 C113.2,542.78 116.14,543.62 119.07,544.87 C122.01,546.11 124.95,547.54 127.88,548.95 C130.82,550.36 133.75,551.68 136.69,553.3 C139.63,554.93 143.39,556.93 145.5,558.7 C147.61,560.47 148.08,562.14 149.38,563.92 C150.67,565.71 151.96,567.53 153.25,569.4 C154.54,571.27 155.84,573.18 157.13,575.13 C158.42,577.08 159.71,579.07 161,581.11 C162.3,583.14 163.59,585.22 164.88,587.33 C166.17,589.45 167.46,591.61 168.76,593.81 C170.05,596.02 171.34,598.26 172.63,600.55 C173.92,602.83 175.22,605.16 176.51,607.53 C177.8,609.9 179.09,612.31 180.38,614.76 C181.68,617.21 182.97,619.71 184.26,622.24 C185.55,624.78 186.84,627.36 188.14,629.98 C189.43,632.6 190.72,635.26 192.01,637.96 C193.3,640.67 194.6,643.41 195.89,646.2 C197.18,648.99 198.47,651.82 199.76,654.69 C201.06,657.56 202.35,660.47 203.64,663.43 C204.93,666.38 206.87,670.92 207.52,672.42" stroke="#ff2020" stroke-width="0.75" fill="none"/>
<path d="M48.6,490.06 C49.84,491.43 53.57,495.45 56.06,498.3 C58.55,501.15 61.04,504.12 63.52,507.16 C66.01,510.21 68.5,513.7 70.99,516.58 C73.47,519.46 75.96,521.92 78.45,524.44 C80.93,526.97 83.42,529.64 85.91,531.72 C88.4,533.81 90.88,535.34 93.37,536.96 C95.86,538.58 98.35,540.14 100.83,541.46 C103.32,542.78 105.81,543.62 108.29,544.87 C110.78,546.11 113.27,547.54 115.76,548.95 C118.24,550.36 120.73,551.68 123.22,553.3 C125.71,554.93 128.89,556.78 130.68,558.7 C132.47,560.62 132.87,562.75 133.96,564.83 C135.06,566.91 136.15,569.03 137.25,571.18 C138.34,573.33 139.44,575.52 140.53,577.75 C141.62,579.98 142.72,582.24 143.81,584.54 C144.91,586.84 146,589.18 147.1,591.55 C148.19,593.92 149.28,596.33 150.38,598.78 C151.47,601.22 152.57,603.71 153.66,606.23 C154.76,608.75 155.85,611.3 156.95,613.89 C158.04,616.49 159.13,619.12 160.23,621.78 C161.32,624.45 162.42,627.15 163.51,629.89 C164.61,632.63 165.7,635.41 166.8,638.22 C167.89,641.03 168.98,643.88 170.08,646.77 C171.17,649.65 172.27,652.57 173.36,655.53 C174.46,658.49 175.55,661.49 176.64,664.52 C177.74,667.55 179.38,672.19 179.93,673.73" stroke="#ff2020" stroke-width="0.75" fill="none"/>
<path d="M48.6,490.06 C49.65,491.43 52.78,495.45 54.87,498.3 C56.96,501.15 59.05,504.12 61.14,507.16 C63.23,510.21 65.32,513.7 67.41,516.58 C69.5,519.46 71.59,521.92 73.68,524.44 C75.77,526.97 77.86,529.64 79.95,531.72 C82.04,533.81 84.13,535.34 86.22,536.96 C88.31,538.58 90.4,540.14 92.49,541.46 C94.58,542.78 96.67,543.62 98.76,544.87 C100.85,546.11 102.94,547.54 105.03,548.95 C107.12,550.36 109.21,551.68 111.3,553.3 C113.39,554.93 116.07,556.59 117.57,558.7 C119.07,560.81 119.41,563.51 120.33,565.96 C121.25,568.41 122.17,570.9 123.09,573.41 C124.01,575.93 124.93,578.47 125.85,581.05 C126.77,583.63 127.69,586.24 128.61,588.89 C129.52,591.53 130.44,594.21 131.36,596.91 C132.28,599.62 133.2,602.36 134.12,605.13 C135.04,607.9 135.96,610.7 136.88,613.54 C137.8,616.37 138.72,619.24 139.64,622.14 C140.56,625.03 141.48,627.96 142.4,630.92 C143.32,633.89 144.24,636.88 145.16,639.91 C146.08,642.93 147,645.99 147.92,649.08 C148.84,652.17 149.76,655.29 150.68,658.44 C151.6,661.59 152.51,664.78 153.43,668 C154.35,671.21 155.73,676.12 156.19,677.74" stroke="#ff2020" stroke-width="0.75" fill="none"/>
<path d="M48.6,490.06 C49.47,491.43 52.09,495.45 53.83,498.3 C55.58,501.15 57.32,504.12 59.07,507.16 C60.81,510.21 62.56,513.7 64.3,516.58 C66.05,519.46 67.79,521.92 69.53,524.44 C71.28,526.97 73.02,529.64 74.77,531.72 C76.51,533.81 78.26,535.34 80,536.96 C81.75,538.58 83.49,540.14 85.24,541.46 C86.98,542.78 88.72,543.62 90.47,544.87 C92.21,546.11 93.96,547.54 95.7,548.95 C97.45,550.36 99.19,551.68 100.94,553.3 C102.68,554.93 104.91,556.36 106.17,558.7 C107.43,561.04 107.71,564.45 108.47,567.37 C109.24,570.28 110.01,573.23 110.78,576.2 C111.54,579.17 112.31,582.17 113.08,585.19 C113.85,588.22 114.61,591.28 115.38,594.36 C116.15,597.44 116.92,600.55 117.68,603.68 C118.45,606.82 119.22,609.99 119.99,613.18 C120.75,616.37 121.52,619.59 122.29,622.84 C123.06,626.08 123.82,629.36 124.59,632.66 C125.36,635.96 126.13,639.29 126.9,642.65 C127.66,646.01 128.43,649.39 129.2,652.81 C129.97,656.22 130.73,659.66 131.5,663.13 C132.27,666.6 133.42,671.87 133.8,673.61" stroke="#ff2020" stroke-width="0.75" fill="none"/>
<path d="M48.6,490.06 C49.33,491.43 51.5,495.45 52.95,498.3 C54.4,501.15 55.85,504.12 57.31,507.16 C58.76,510.21 60.21,513.7 61.66,516.58 C63.11,519.46 64.56,521.92 66.01,524.44 C67.46,526.97 68.91,529.64 70.36,531.72 C71.81,533.81 73.27,535.34 74.72,536.96 C76.17,538.58 77.62,540.14 79.07,541.46 C80.52,542.78 81.97,543.62 83.42,544.87 C84.87,546.11 86.32,547.54 87.77,548.95 C89.23,550.36 90.68,551.68 92.13,553.3 C93.58,554.93 95.44,556.07 96.48,558.7 C97.52,561.33 97.76,565.6 98.4,569.09 C99.03,572.58 99.67,576.09 100.31,579.63 C100.95,583.16 101.59,586.72 102.23,590.3 C102.86,593.89 103.5,597.49 104.14,601.12 C104.78,604.75 105.42,608.41 106.06,612.09 C106.69,615.76 107.33,619.47 107.97,623.19 C108.61,626.92 109.25,630.67 109.89,634.44 C110.52,638.21 111.16,642.01 111.8,645.83 C112.44,649.65 113.08,653.5 113.72,657.37 C114.36,661.23 114.99,665.13 115.63,669.04 C116.27,672.96 117.23,678.89 117.55,680.86" stroke="#ff2020" stroke-width="0.75" fill="none"/>
<path d="M61.71,526.53 C65.87,527.54 78.37,530.61 86.69,532.61 C95.02,534.61 103.35,536.58 111.68,538.52 C120.01,540.45 128.34,542.35 136.67,544.2 C144.99,546.05 153.32,547.87 161.65,549.6 C169.98,551.34 178.31,553.09 186.64,554.6 C194.96,556.12 206.37,557.48 211.62,558.7 C216.87,559.92 215.97,560.78 218.14,561.92 C220.31,563.06 222.49,564.26 224.66,565.52 C226.84,566.79 229.01,568.11 231.18,569.51 C233.36,570.9 235.53,572.35 237.7,573.87 C239.88,575.39 242.05,576.97 244.22,578.61 C246.4,580.26 248.57,581.96 250.74,583.74 C252.92,585.51 255.09,587.34 257.27,589.24 C259.44,591.14 261.61,593.1 263.79,595.13 C265.96,597.15 268.13,599.24 270.31,601.39 C272.48,603.54 274.65,605.76 276.83,608.04 C279,610.32 281.18,612.66 283.35,615.06 C285.52,617.47 287.7,619.94 289.87,622.47 C292.04,625 294.22,627.6 296.39,630.26 C298.56,632.92 300.74,635.64 302.91,638.43 C305.08,641.21 307.26,644.06 309.43,646.97 C311.61,649.89 313.78,652.86 315.95,655.9 C318.13,658.94 320.3,662.05 322.47,665.21 C324.65,668.38 327.91,673.29 328.99,674.9" stroke="#ff2020" stroke-width="0.75" fill="none"/>
<path d="M61.71,526.53 C64.89,527.54 74.44,530.61 80.81,532.61 C87.17,534.61 93.54,536.58 99.9,538.52 C106.27,540.45 112.63,542.35 119,544.2 C125.36,546.05 131.72,547.87 138.09,549.6 C144.46,551.34 150.82,553.09 157.19,554.6 C163.55,556.12 172.25,557.35 176.28,558.7 C180.31,560.05 179.68,561.33 181.39,562.73 C183.09,564.12 184.79,565.57 186.49,567.07 C188.2,568.56 189.9,570.12 191.6,571.72 C193.3,573.32 195.01,574.98 196.71,576.68 C198.41,578.39 200.11,580.15 201.82,581.96 C203.52,583.77 205.22,585.64 206.92,587.55 C208.63,589.47 210.33,591.44 212.03,593.46 C213.73,595.48 215.44,597.55 217.14,599.68 C218.84,601.8 220.54,603.98 222.24,606.21 C223.95,608.43 225.65,610.72 227.35,613.05 C229.05,615.38 230.76,617.77 232.46,620.2 C234.16,622.64 235.86,625.13 237.57,627.67 C239.27,630.22 240.97,632.81 242.67,635.46 C244.38,638.1 246.08,640.8 247.78,643.55 C249.48,646.3 251.19,649.1 252.89,651.96 C254.59,654.81 256.29,657.72 258,660.68 C259.7,663.64 262.25,668.21 263.1,669.71" stroke="#ff2020" stroke-width="0.75" fill="none"/>
<path d="M61.71,526.53 C64.29,527.54 72.03,530.61 77.19,532.61 C82.36,534.61 87.52,536.58 92.68,538.52 C97.84,540.45 103,542.35 108.16,544.2 C113.33,546.05 118.49,547.87 123.65,549.6 C128.81,551.34 133.97,553.09 139.13,554.6 C144.3,556.12 151.33,557.22 154.62,558.7 C157.91,560.18 157.45,561.85 158.86,563.5 C160.27,565.14 161.69,566.83 163.1,568.56 C164.52,570.29 165.93,572.07 167.34,573.9 C168.76,575.72 170.17,577.59 171.58,579.5 C173,581.41 174.41,583.37 175.82,585.38 C177.24,587.38 178.65,589.43 180.06,591.52 C181.48,593.61 182.89,595.75 184.31,597.93 C185.72,600.12 187.13,602.34 188.55,604.62 C189.96,606.89 191.37,609.21 192.79,611.57 C194.2,613.93 195.61,616.34 197.03,618.79 C198.44,621.25 199.86,623.74 201.27,626.29 C202.68,628.83 204.1,631.42 205.51,634.05 C206.92,636.68 208.34,639.36 209.75,642.08 C211.16,644.8 212.58,647.57 213.99,650.38 C215.4,653.19 216.82,656.05 218.23,658.95 C219.65,661.86 221.06,664.8 222.47,667.79 C223.89,670.79 226.01,675.39 226.71,676.91" stroke="#ff2020" stroke-width="0.75" fill="none"/>
<path d="M61.71,526.53 C63.82,527.54 70.13,530.61 74.34,532.61 C78.56,534.61 82.77,536.58 86.98,538.52 C91.19,540.45 95.4,542.35 99.62,544.2 C103.83,546.05 108.04,547.87 112.25,549.6 C116.46,551.34 120.67,553.09 124.88,554.6 C129.1,556.12 134.82,557.07 137.52,558.7 C140.22,560.33 139.89,562.44 141.08,564.37 C142.26,566.3 143.45,568.27 144.63,570.28 C145.82,572.29 147,574.34 148.19,576.43 C149.38,578.51 150.56,580.64 151.75,582.8 C152.93,584.97 154.12,587.17 155.3,589.41 C156.49,591.66 157.68,593.94 158.86,596.26 C160.05,598.58 161.23,600.94 162.42,603.34 C163.6,605.74 164.79,608.18 165.97,610.65 C167.16,613.13 168.35,615.65 169.53,618.2 C170.72,620.76 171.9,623.35 173.09,625.99 C174.27,628.62 175.46,631.29 176.64,634 C177.83,636.71 179.02,639.47 180.2,642.26 C181.39,645.04 182.57,647.87 183.76,650.74 C184.94,653.61 186.13,656.52 187.32,659.46 C188.5,662.41 189.69,665.39 190.87,668.42 C192.06,671.44 193.84,676.07 194.43,677.6" stroke="#ff2020" stroke-width="0.75" fill="none"/>
<path d="M61.71,526.53 C63.44,527.54 68.61,530.61 72.06,532.61 C75.52,534.61 78.97,536.58 82.42,538.52 C85.87,540.45 89.32,542.35 92.77,544.2 C96.23,546.05 99.68,547.87 103.13,549.6 C106.58,551.34 110.03,553.09 113.49,554.6 C116.94,556.12 121.61,556.91 123.84,558.7 C126.07,560.49 125.85,563.11 126.85,565.37 C127.85,567.63 128.86,569.92 129.86,572.25 C130.86,574.57 131.87,576.93 132.87,579.32 C133.87,581.72 134.88,584.15 135.88,586.61 C136.88,589.07 137.88,591.57 138.89,594.1 C139.89,596.63 140.89,599.2 141.9,601.79 C142.9,604.39 143.9,607.03 144.91,609.69 C145.91,612.36 146.91,615.06 147.92,617.8 C148.92,620.54 149.92,623.31 150.93,626.11 C151.93,628.91 152.93,631.75 153.94,634.62 C154.94,637.5 155.94,640.4 156.95,643.34 C157.95,646.29 158.95,649.26 159.96,652.27 C160.96,655.28 161.96,658.32 162.96,661.4 C163.97,664.48 165.47,669.18 165.97,670.73" stroke="#ff2020" stroke-width="0.75" fill="none"/>
<path d="M61.71,526.53 C63.1,527.54 67.28,530.61 70.07,532.61 C72.86,534.61 75.64,536.58 78.43,538.52 C81.22,540.45 84,542.35 86.79,544.2 C89.58,546.05 92.36,547.87 95.15,549.6 C97.94,551.34 100.72,553.09 103.51,554.6 C106.3,556.12 110.05,556.7 111.87,558.7 C113.69,560.7 113.56,563.94 114.4,566.6 C115.24,569.26 116.09,571.95 116.93,574.68 C117.78,577.4 118.62,580.15 119.46,582.93 C120.31,585.71 121.15,588.53 121.99,591.37 C122.84,594.21 123.68,597.08 124.52,599.98 C125.37,602.88 126.21,605.81 127.05,608.77 C127.9,611.73 128.74,614.72 129.59,617.74 C130.43,620.76 131.27,623.81 132.12,626.89 C132.96,629.97 133.8,633.08 134.65,636.22 C135.49,639.36 136.33,642.52 137.18,645.72 C138.02,648.92 138.87,652.15 139.71,655.41 C140.55,658.66 141.4,661.95 142.24,665.27 C143.08,668.59 144.35,673.64 144.77,675.31" stroke="#ff2020" stroke-width="0.75" fill="none"/>
<path d="M61.71,526.53 C62.8,527.54 66.08,530.61 68.27,532.61 C70.45,534.61 72.63,536.58 74.82,538.52 C77,540.45 79.19,542.35 81.38,544.2 C83.56,546.05 85.75,547.87 87.93,549.6 C90.12,551.34 92.3,553.09 94.48,554.6 C96.67,556.12 99.6,556.43 101.04,558.7 C102.48,560.97 102.44,565.01 103.14,568.2 C103.84,571.39 104.54,574.61 105.24,577.85 C105.93,581.1 106.63,584.37 107.33,587.66 C108.03,590.95 108.73,594.27 109.43,597.62 C110.13,600.97 110.83,604.34 111.53,607.73 C112.23,611.13 112.93,614.55 113.63,618 C114.32,621.45 115.02,624.92 115.72,628.42 C116.42,631.92 117.12,635.45 117.82,639 C118.52,642.55 119.22,646.12 119.92,649.73 C120.62,653.33 121.32,656.96 122.02,660.61 C122.72,664.26 123.76,669.8 124.11,671.64" stroke="#ff2020" stroke-width="0.75" fill="none"/>
<path d="M61.71,526.53 C62.56,527.54 65.13,530.61 66.84,532.61 C68.55,534.61 70.26,536.58 71.97,538.52 C73.68,540.45 75.39,542.35 77.1,544.2 C78.81,546.05 80.52,547.87 82.23,549.6 C83.94,551.34 85.65,553.09 87.36,554.6 C89.07,556.12 91.34,556.13 92.49,558.7 C93.64,561.27 93.66,566.23 94.25,570.03 C94.83,573.82 95.42,577.64 96,581.48 C96.59,585.33 97.17,589.19 97.76,593.08 C98.34,596.96 98.93,600.87 99.51,604.8 C100.1,608.73 100.68,612.68 101.27,616.66 C101.85,620.63 102.44,624.63 103.02,628.65 C103.61,632.67 104.19,636.71 104.78,640.77 C105.36,644.84 105.95,648.92 106.53,653.03 C107.12,657.14 107.71,661.27 108.29,665.42 C108.88,669.57 109.75,675.86 110.05,677.95" stroke="#ff2020" stroke-width="0.75" fill="none"/>
<path d="M61.71,526.53 C62.45,527.54 64.69,530.61 66.17,532.61 C67.66,534.61 69.15,536.58 70.64,538.52 C72.13,540.45 73.62,542.35 75.11,544.2 C76.59,546.05 78.08,547.87 79.57,549.6 C81.06,551.34 82.55,553.09 84.03,554.6 C85.52,556.12 87.49,555.94 88.5,558.7 C89.51,561.46 89.56,566.98 90.1,571.15 C90.63,575.32 91.16,579.51 91.69,583.72 C92.22,587.93 92.76,592.16 93.29,596.41 C93.82,600.66 94.35,604.93 94.88,609.23 C95.42,613.52 95.95,617.83 96.48,622.16 C97.01,626.5 97.54,630.85 98.08,635.23 C98.61,639.6 99.14,644 99.67,648.41 C100.2,652.83 100.74,657.27 101.27,661.72 C101.8,666.18 102.6,672.92 102.86,675.16" stroke="#ff2020" stroke-width="0.75" fill="none"/>
<path d="M61.71,526.53 C62.34,527.54 64.24,530.61 65.51,532.61 C66.78,534.61 68.04,536.58 69.31,538.52 C70.58,540.45 71.84,542.35 73.11,544.2 C74.38,546.05 75.64,547.87 76.91,549.6 C78.18,551.34 79.44,553.09 80.71,554.6 C81.98,556.12 83.64,555.71 84.51,558.7 C85.38,561.69 85.47,567.89 85.95,572.52 C86.43,577.14 86.9,581.79 87.38,586.45 C87.86,591.11 88.34,595.79 88.82,600.49 C89.3,605.19 89.78,609.91 90.26,614.65 C90.73,619.39 91.21,624.14 91.69,628.92 C92.17,633.7 92.65,638.49 93.13,643.3 C93.61,648.12 94.09,652.95 94.56,657.8 C95.04,662.65 95.76,669.98 96,672.41" stroke="#ff2020" stroke-width="0.75" fill="none"/>
<path d="M61.71,526.53 C62.25,527.54 63.86,530.61 64.94,532.61 C66.02,534.61 67.09,536.58 68.17,538.52 C69.25,540.45 70.32,542.35 71.4,544.2 C72.48,546.05 73.55,547.87 74.63,549.6 C75.71,551.34 76.78,553.09 77.86,554.6 C78.94,556.12 80.34,555.47 81.09,558.7 C81.84,561.93 81.96,568.86 82.39,573.96 C82.82,579.07 83.26,584.19 83.69,589.33 C84.12,594.47 84.56,599.62 84.99,604.8 C85.42,609.97 85.86,615.16 86.29,620.37 C86.72,625.58 87.15,630.81 87.59,636.05 C88.02,641.3 88.45,646.56 88.89,651.84 C89.32,657.12 89.75,662.41 90.19,667.73 C90.62,673.04 91.27,681.06 91.49,683.72" stroke="#ff2020" stroke-width="0.75" fill="none"/>
<path d="M61.71,526.53 C62.17,527.54 63.55,530.61 64.47,532.61 C65.38,534.61 66.3,536.58 67.22,538.52 C68.14,540.45 69.06,542.35 69.97,544.2 C70.89,546.05 71.81,547.87 72.73,549.6 C73.65,551.34 74.57,553.09 75.48,554.6 C76.4,556.12 77.58,555.23 78.24,558.7 C78.9,562.17 79.03,569.83 79.43,575.42 C79.82,581.01 80.22,586.62 80.61,592.24 C81.01,597.86 81.4,603.5 81.8,609.15 C82.19,614.81 82.59,620.48 82.98,626.16 C83.38,631.85 83.77,637.55 84.17,643.27 C84.56,648.99 84.96,654.73 85.35,660.48 C85.75,666.23 86.34,674.9 86.54,677.78" stroke="#ff2020" stroke-width="0.75" fill="none"/>
<path d="M61.71,526.53 C62.11,527.54 63.29,530.61 64.08,532.61 C64.88,534.61 65.67,536.58 66.46,538.52 C67.25,540.45 68.04,542.35 68.84,544.2 C69.63,546.05 70.42,547.87 71.21,549.6 C72,551.34 72.79,553.09 73.58,554.6 C74.38,556.12 75.38,555 75.96,558.7 C76.54,562.4 76.69,570.76 77.05,576.81 C77.42,582.86 77.78,588.92 78.15,595 C78.51,601.08 78.88,607.18 79.24,613.29 C79.61,619.4 79.97,625.53 80.34,631.67 C80.7,637.81 81.07,643.97 81.43,650.14 C81.8,656.32 82.16,662.5 82.53,668.71 C82.89,674.91 83.44,684.25 83.62,687.36" stroke="#ff2020" stroke-width="0.75" fill="none"/>
<path d="M48.6,490.06 C49.12,492.86 50.69,500.9 51.73,506.86 C52.78,512.82 54.35,522.65 54.87,525.81" stroke="#ff2020" stroke-width="0.75" fill="none"/>
<path d="M48.6,490.06 C49.41,492.86 51.83,500.9 53.45,506.86 C55.06,512.82 57.48,522.65 58.29,525.81" stroke="#ff2020" stroke-width="0.75" fill="none"/>
<path d="M70.26,560.13 C70.35,560.41 70.61,560.77 70.78,561.83 C70.95,562.89 71.12,564.48 71.3,566.49 C71.47,568.5 71.64,570.98 71.81,573.87 C71.99,576.77 72.16,580.11 72.33,583.87 C72.51,587.62 72.68,591.81 72.85,596.4 C73.02,600.99 73.2,606.01 73.37,611.42 C73.54,616.83 73.71,622.65 73.89,628.87 C74.06,635.09 74.23,641.71 74.41,648.72 C74.58,655.73 74.75,663.14 74.92,670.94 C75.1,678.74 75.27,686.93 75.44,695.5 C75.61,704.07 75.87,717.89 75.96,722.37" stroke="#ff2a2a" stroke-width="0.45" fill="none"/>
<path d="M70.26,560.13 C70.39,560.37 70.77,560.69 71.03,561.6 C71.28,562.51 71.54,563.88 71.79,565.61 C72.05,567.34 72.31,569.48 72.56,571.98 C72.82,574.48 73.07,577.36 73.33,580.6 C73.58,583.84 73.84,587.45 74.09,591.41 C74.35,595.37 74.61,599.69 74.86,604.36 C75.12,609.02 75.37,614.04 75.63,619.4 C75.88,624.77 76.14,630.48 76.4,636.52 C76.65,642.57 76.91,648.96 77.16,655.68 C77.42,662.41 77.67,669.47 77.93,676.86 C78.18,684.25 78.57,696.17 78.7,700.03" stroke="#ff2a2a" stroke-width="0.45" fill="none"/>
<path d="M70.26,560.13 C70.43,560.36 70.94,560.65 71.28,561.5 C71.61,562.35 71.95,563.63 72.29,565.24 C72.63,566.85 72.97,568.84 73.31,571.16 C73.65,573.49 73.98,576.17 74.32,579.19 C74.66,582.2 75,585.57 75.34,589.25 C75.68,592.94 76.02,596.97 76.35,601.31 C76.69,605.65 77.03,610.33 77.37,615.32 C77.71,620.32 78.05,625.63 78.39,631.26 C78.72,636.89 79.06,642.84 79.4,649.1 C79.74,655.36 80.08,661.94 80.42,668.82 C80.75,675.71 81.26,686.8 81.43,690.4" stroke="#ff2a2a" stroke-width="0.45" fill="none"/>
<path d="M70.26,560.13 C70.47,560.35 71.1,560.63 71.52,561.44 C71.95,562.26 72.37,563.48 72.79,565.03 C73.21,566.57 73.63,568.48 74.05,570.71 C74.47,572.94 74.9,575.51 75.32,578.41 C75.74,581.3 76.16,584.52 76.58,588.06 C77,591.59 77.42,595.45 77.85,599.62 C78.27,603.78 78.69,608.27 79.11,613.05 C79.53,617.84 79.95,622.94 80.37,628.34 C80.8,633.74 81.22,639.44 81.64,645.44 C82.06,651.45 82.48,657.75 82.9,664.35 C83.33,670.95 83.96,681.59 84.17,685.04" stroke="#ff2a2a" stroke-width="0.65" fill="none"/>
<path d="M70.26,560.13 C70.51,560.34 71.27,560.61 71.77,561.41 C72.28,562.2 72.78,563.39 73.29,564.89 C73.79,566.4 74.29,568.25 74.8,570.42 C75.3,572.59 75.81,575.09 76.31,577.91 C76.82,580.72 77.32,583.85 77.83,587.29 C78.33,590.73 78.83,594.49 79.34,598.54 C79.84,602.59 80.35,606.95 80.85,611.61 C81.36,616.26 81.86,621.22 82.36,626.47 C82.87,631.73 83.37,637.28 83.88,643.11 C84.38,648.95 84.89,655.09 85.39,661.51 C85.9,667.92 86.65,678.28 86.9,681.63" stroke="#ff2a2a" stroke-width="0.65" fill="none"/>
<path d="M70.26,560.13 C70.55,560.34 71.43,560.6 72.02,561.38 C72.61,562.16 73.2,563.33 73.78,564.8 C74.37,566.27 74.96,568.09 75.55,570.22 C76.13,572.35 76.72,574.8 77.31,577.56 C77.89,580.32 78.48,583.39 79.07,586.77 C79.66,590.14 80.24,593.82 80.83,597.79 C81.42,601.77 82.01,606.04 82.59,610.61 C83.18,615.17 83.77,620.04 84.35,625.19 C84.94,630.33 85.53,635.78 86.12,641.5 C86.7,647.23 87.29,653.24 87.88,659.54 C88.47,665.83 89.35,675.98 89.64,679.27" stroke="#ff2a2a" stroke-width="0.65" fill="none"/>
<path d="M70.26,560.13 C70.6,560.34 71.6,560.6 72.27,561.36 C72.94,562.13 73.61,563.28 74.28,564.73 C74.95,566.18 75.62,567.98 76.29,570.07 C76.96,572.17 77.63,574.59 78.3,577.31 C78.97,580.03 79.64,583.06 80.31,586.38 C80.98,589.7 81.65,593.33 82.32,597.24 C82.99,601.16 83.66,605.37 84.33,609.87 C85,614.37 85.67,619.17 86.34,624.24 C87.01,629.31 87.68,634.68 88.35,640.32 C89.03,645.96 89.7,651.89 90.37,658.09 C91.04,664.29 92.04,674.3 92.38,677.54" stroke="#ff2a2a" stroke-width="0.65" fill="none"/>
<path d="M70.26,560.13 C70.64,560.33 71.77,560.59 72.52,561.35 C73.27,562.11 74.03,563.25 74.78,564.68 C75.53,566.12 76.28,567.89 77.04,569.96 C77.79,572.03 78.54,574.43 79.3,577.11 C80.05,579.8 80.8,582.8 81.56,586.08 C82.31,589.37 83.06,592.95 83.82,596.83 C84.57,600.7 85.32,604.86 86.07,609.31 C86.83,613.76 87.58,618.5 88.33,623.52 C89.09,628.53 89.84,633.84 90.59,639.42 C91.35,644.99 92.1,650.85 92.85,656.99 C93.61,663.12 94.74,673.01 95.11,676.22" stroke="#ff2a2a" stroke-width="0.65" fill="none"/>
<path d="M70.26,560.13 C70.68,560.33 71.93,560.59 72.77,561.34 C73.6,562.09 74.44,563.22 75.28,564.64 C76.11,566.06 76.95,567.82 77.78,569.87 C78.62,571.93 79.46,574.3 80.29,576.96 C81.13,579.62 81.96,582.59 82.8,585.85 C83.64,589.1 84.47,592.66 85.31,596.5 C86.14,600.33 86.98,604.46 87.82,608.87 C88.65,613.28 89.49,617.98 90.32,622.95 C91.16,627.92 92,633.17 92.83,638.7 C93.67,644.23 94.5,650.04 95.34,656.12 C96.18,662.19 97.43,672 97.85,675.17" stroke="#ff2a2a" stroke-width="0.65" fill="none"/>
<path d="M70.26,560.13 C70.72,560.33 72.1,560.58 73.02,561.33 C73.94,562.08 74.85,563.19 75.77,564.61 C76.69,566.02 77.61,567.76 78.53,569.8 C79.45,571.84 80.37,574.19 81.29,576.84 C82.21,579.48 83.12,582.43 84.04,585.66 C84.96,588.89 85.88,592.42 86.8,596.23 C87.72,600.04 88.64,604.14 89.56,608.51 C90.48,612.89 91.39,617.55 92.31,622.49 C93.23,627.42 94.15,632.64 95.07,638.12 C95.99,643.61 96.91,649.38 97.83,655.41 C98.75,661.44 100.12,671.17 100.58,674.33" stroke="#ff2a2a" stroke-width="0.65" fill="none"/>
<path d="M70.26,560.13 C70.76,560.33 72.26,560.58 73.27,561.32 C74.27,562.06 75.27,563.18 76.27,564.58 C77.27,565.98 78.27,567.72 79.28,569.74 C80.28,571.77 81.28,574.11 82.28,576.74 C83.28,579.36 84.29,582.29 85.29,585.5 C86.29,588.72 87.29,592.22 88.29,596.01 C89.29,599.79 90.3,603.87 91.3,608.22 C92.3,612.57 93.3,617.2 94.3,622.1 C95.31,627.01 96.31,632.19 97.31,637.65 C98.31,643.1 99.31,648.83 100.31,654.83 C101.32,660.82 102.82,670.49 103.32,673.63" stroke="#ff2a2a" stroke-width="0.65" fill="none"/>
<path d="M70.26,560.13 C70.8,560.33 72.43,560.58 73.51,561.32 C74.6,562.05 75.68,563.16 76.77,564.56 C77.85,565.95 78.94,567.68 80.02,569.69 C81.11,571.71 82.19,574.04 83.28,576.65 C84.36,579.26 85.45,582.18 86.53,585.37 C87.62,588.57 88.7,592.06 89.79,595.82 C90.87,599.59 91.95,603.64 93.04,607.97 C94.12,612.3 95.21,616.9 96.29,621.78 C97.38,626.66 98.46,631.82 99.55,637.25 C100.63,642.67 101.72,648.37 102.8,654.34 C103.89,660.3 105.51,669.92 106.06,673.04" stroke="#ff2a2a" stroke-width="0.65" fill="none"/>
<path d="M70.26,560.13 C70.84,560.33 72.6,560.58 73.76,561.31 C74.93,562.05 76.1,563.15 77.27,564.54 C78.43,565.93 79.6,567.64 80.77,569.65 C81.94,571.66 83.1,573.98 84.27,576.58 C85.44,579.18 86.61,582.08 87.77,585.26 C88.94,588.44 90.11,591.92 91.28,595.66 C92.45,599.41 93.61,603.45 94.78,607.76 C95.95,612.06 97.12,616.65 98.28,621.51 C99.45,626.37 100.62,631.5 101.79,636.91 C102.95,642.31 104.12,647.98 105.29,653.92 C106.46,659.86 108.21,669.44 108.79,672.54" stroke="#ff2a2a" stroke-width="0.65" fill="none"/>
<path d="M70.26,560.13 C70.89,560.33 72.76,560.57 74.01,561.31 C75.26,562.04 76.51,563.14 77.76,564.52 C79.01,565.9 80.26,567.62 81.51,569.61 C82.77,571.61 84.02,573.92 85.27,576.51 C86.52,579.11 87.77,582 89.02,585.16 C90.27,588.33 91.52,591.79 92.77,595.53 C94.02,599.26 95.27,603.28 96.52,607.57 C97.77,611.87 99.02,616.44 100.27,621.28 C101.52,626.12 102.77,631.23 104.02,636.61 C105.28,641.99 106.53,647.65 107.78,653.56 C109.03,659.48 110.9,669.02 111.53,672.11" stroke="#ff2a2a" stroke-width="0.65" fill="none"/>
<path d="M70.26,560.13 C70.93,560.33 72.93,560.57 74.26,561.3 C75.59,562.03 76.93,563.13 78.26,564.51 C79.59,565.89 80.93,567.59 82.26,569.58 C83.59,571.58 84.93,573.88 86.26,576.46 C87.59,579.04 88.93,581.92 90.26,585.08 C91.6,588.24 92.93,591.69 94.26,595.41 C95.6,599.13 96.93,603.14 98.26,607.42 C99.6,611.69 100.93,616.25 102.26,621.07 C103.6,625.9 104.93,630.99 106.26,636.36 C107.6,641.72 108.93,647.35 110.26,653.25 C111.6,659.15 113.6,668.66 114.26,671.74" stroke="#ff2a2a" stroke-width="0.65" fill="none"/>
<path d="M70.26,560.13 C70.97,560.32 73.09,560.57 74.51,561.3 C75.93,562.03 77.34,563.12 78.76,564.49 C80.17,565.87 81.59,567.57 83.01,569.56 C84.42,571.54 85.84,573.84 87.26,576.41 C88.67,578.99 90.09,581.86 91.51,585.01 C92.92,588.16 94.34,591.59 95.75,595.31 C97.17,599.02 98.59,603.01 100,607.28 C101.42,611.54 102.84,616.08 104.25,620.89 C105.67,625.7 107.09,630.78 108.5,636.13 C109.92,641.48 111.33,647.1 112.75,652.98 C114.17,658.86 116.29,668.34 117,671.41" stroke="#ff2a2a" stroke-width="0.65" fill="none"/>
<path d="M70.26,560.13 C71.01,560.32 73.26,560.57 74.76,561.3 C76.26,562.02 77.76,563.11 79.26,564.48 C80.75,565.85 82.25,567.55 83.75,569.53 C85.25,571.51 86.75,573.8 88.25,576.37 C89.75,578.94 91.25,581.8 92.75,584.94 C94.25,588.08 95.75,591.51 97.25,595.21 C98.75,598.92 100.25,602.9 101.74,607.15 C103.24,611.41 104.74,615.94 106.24,620.73 C107.74,625.53 109.24,630.6 110.74,635.93 C112.24,641.27 113.74,646.87 115.24,652.73 C116.74,658.6 118.99,668.05 119.74,671.12" stroke="#ff2a2a" stroke-width="0.65" fill="none"/>
<path d="M70.26,560.13 C71.05,560.32 73.42,560.57 75.01,561.29 C76.59,562.02 78.17,563.1 79.75,564.47 C81.34,565.84 82.92,567.53 84.5,569.51 C86.08,571.49 87.66,573.77 89.25,576.33 C90.83,578.89 92.41,581.75 93.99,584.88 C95.57,588.02 97.16,591.44 98.74,595.13 C100.32,598.82 101.9,602.8 103.49,607.04 C105.07,611.29 106.65,615.81 108.23,620.59 C109.81,625.38 111.4,630.43 112.98,635.75 C114.56,641.08 116.14,646.67 117.73,652.52 C119.31,658.37 121.68,667.8 122.47,670.86" stroke="#ff2a2a" stroke-width="0.65" fill="none"/>
<path d="M70.26,560.13 C71.09,560.32 73.59,560.57 75.26,561.29 C76.92,562.01 78.59,563.1 80.25,564.46 C81.92,565.83 83.58,567.52 85.25,569.49 C86.91,571.46 88.58,573.74 90.24,576.3 C91.91,578.85 93.57,581.7 95.24,584.83 C96.9,587.96 98.57,591.37 100.23,595.06 C101.9,598.74 103.56,602.71 105.23,606.94 C106.89,611.18 108.56,615.69 110.22,620.46 C111.89,625.24 113.55,630.29 115.22,635.6 C116.88,640.9 118.55,646.48 120.21,652.32 C121.88,658.16 124.38,667.57 125.21,670.62" stroke="#ff2a2a" stroke-width="0.65" fill="none"/>
<path d="M70.26,560.13 C71.13,560.32 73.76,560.57 75.5,561.29 C77.25,562.01 79,563.09 80.75,564.45 C82.5,565.82 84.24,567.5 85.99,569.47 C87.74,571.44 89.49,573.71 91.24,576.27 C92.98,578.82 94.73,581.66 96.48,584.78 C98.23,587.91 99.98,591.31 101.72,594.99 C103.47,598.67 105.22,602.63 106.97,606.85 C108.72,611.08 110.46,615.58 112.21,620.35 C113.96,625.11 115.71,630.15 117.46,635.45 C119.2,640.75 120.95,646.32 122.7,652.14 C124.45,657.97 127.07,667.37 127.94,670.41" stroke="#ff2a2a" stroke-width="0.65" fill="none"/>
<path d="M70.26,560.13 C71.18,560.32 73.92,560.57 75.75,561.29 C77.58,562.01 79.41,563.08 81.25,564.45 C83.08,565.81 84.91,567.49 86.74,569.45 C88.57,571.42 90.4,573.69 92.23,576.24 C94.06,578.79 95.89,581.63 97.72,584.74 C99.55,587.86 101.39,591.26 103.22,594.93 C105.05,598.6 106.88,602.55 108.71,606.77 C110.54,610.99 112.37,615.49 114.2,620.24 C116.03,625 117.86,630.03 119.69,635.32 C121.53,640.61 123.36,646.17 125.19,651.99 C127.02,657.8 129.76,667.18 130.68,670.22" stroke="#ff2a2a" stroke-width="0.65" fill="none"/>
<path d="M70.26,560.13 C71.22,560.32 74.09,560.57 76,561.28 C77.92,562 79.83,563.08 81.74,564.44 C83.66,565.8 85.57,567.48 87.48,569.44 C89.4,571.4 91.31,573.67 93.23,576.21 C95.14,578.76 97.05,581.59 98.97,584.7 C100.88,587.81 102.79,591.21 104.71,594.88 C106.62,598.54 108.54,602.49 110.45,606.7 C112.36,610.91 114.28,615.4 116.19,620.15 C118.11,624.9 120.02,629.92 121.93,635.2 C123.85,640.48 125.76,646.03 127.67,651.84 C129.59,657.65 132.46,667.01 133.42,670.05" stroke="#ff2a2a" stroke-width="0.65" fill="none"/>
<path d="M70.26,560.13 C71.26,560.32 74.25,560.57 76.25,561.28 C78.25,562 80.24,563.08 82.24,564.43 C84.24,565.79 86.23,567.47 88.23,569.43 C90.23,571.39 92.22,573.65 94.22,576.19 C96.22,578.73 98.21,581.56 100.21,584.67 C102.21,587.77 104.2,591.16 106.2,594.83 C108.2,598.49 110.19,602.43 112.19,606.63 C114.19,610.84 116.18,615.32 118.18,620.06 C120.18,624.81 122.17,629.82 124.17,635.09 C126.17,640.37 128.17,645.91 130.16,651.71 C132.16,657.51 135.15,666.86 136.15,669.89" stroke="#ff2a2a" stroke-width="0.65" fill="none"/>
<path d="M70.26,560.13 C71.3,560.32 74.42,560.57 76.5,561.28 C78.58,562 80.66,563.07 82.74,564.43 C84.82,565.78 86.9,567.46 88.98,569.41 C91.06,571.37 93.14,573.63 95.22,576.17 C97.3,578.7 99.37,581.53 101.45,584.63 C103.53,587.74 105.61,591.12 107.69,594.78 C109.77,598.44 111.85,602.37 113.93,606.57 C116.01,610.77 118.09,615.24 120.17,619.98 C122.25,624.72 124.33,629.73 126.41,634.99 C128.49,640.26 130.57,645.79 132.65,651.59 C134.73,657.38 137.85,666.72 138.89,669.74" stroke="#ff2a2a" stroke-width="0.65" fill="none"/>
<path d="M70.26,560.13 C71.34,560.32 74.59,560.56 76.75,561.28 C78.91,562 81.07,563.07 83.24,564.42 C85.4,565.78 87.56,567.45 89.72,569.4 C91.89,571.36 94.05,573.61 96.21,576.15 C98.37,578.68 100.54,581.51 102.7,584.6 C104.86,587.7 107.02,591.09 109.19,594.74 C111.35,598.39 113.51,602.32 115.67,606.51 C117.84,610.71 120,615.18 122.16,619.91 C124.32,624.64 126.49,629.64 128.65,634.9 C130.81,640.16 132.97,645.69 135.14,651.47 C137.3,657.26 140.54,666.58 141.62,669.61" stroke="#ff2a2a" stroke-width="0.65" fill="none"/>
<path d="M70.26,560.13 C71.38,560.32 74.75,560.56 77,561.28 C79.24,561.99 81.49,563.06 83.73,564.42 C85.98,565.77 88.22,567.44 90.47,569.39 C92.71,571.34 94.96,573.6 97.21,576.13 C99.45,578.66 101.7,581.48 103.94,584.58 C106.19,587.67 108.43,591.05 110.68,594.7 C112.92,598.34 115.17,602.27 117.41,606.46 C119.66,610.65 121.91,615.11 124.15,619.84 C126.4,624.57 128.64,629.56 130.89,634.82 C133.13,640.07 135.38,645.59 137.62,651.37 C139.87,657.15 143.24,666.46 144.36,669.48" stroke="#ff2a2a" stroke-width="0.65" fill="none"/>
<path d="M70.26,560.13 C71.42,560.32 74.92,560.56 77.25,561.28 C79.57,561.99 81.9,563.06 84.23,564.41 C86.56,565.76 88.89,567.43 91.22,569.38 C93.54,571.33 95.87,573.58 98.2,576.11 C100.53,578.64 102.86,581.46 105.19,584.55 C107.51,587.64 109.84,591.02 112.17,594.66 C114.5,598.3 116.83,602.23 119.16,606.41 C121.48,610.6 123.81,615.06 126.14,619.78 C128.47,624.5 130.8,629.49 133.13,634.74 C135.45,639.99 137.78,645.5 140.11,651.27 C142.44,657.04 145.93,666.35 147.1,669.37" stroke="#ff2a2a" stroke-width="0.65" fill="none"/>
<rect x="50.5" y="558.7" width="20.33" height="106.8" fill="#ff0000"/>
<defs><linearGradient id="gFadeR" gradientUnits="userSpaceOnUse" x1="70.83" y1="0" x2="86.22" y2="0"><stop offset="0" stop-color="#ff1010"/><stop offset="0.5" stop-color="#ff5050" stop-opacity="0.6"/><stop offset="1" stop-color="#ff8080" stop-opacity="0"/></linearGradient></defs>
<path d="M70.83,562.28 L86.22,573 L86.22,665.5 L70.83,665.5Z" fill="url(#gFadeR)"/>
</g>
<defs><linearGradient id="gOd" x1="0" y1="0" x2="1" y2="0"><stop offset="0" stop-color="#e88a10"/><stop offset="0.3" stop-color="#f5a81c"/><stop offset="0.6" stop-color="#f0a018"/><stop offset="1" stop-color="#e08a10"/></linearGradient><linearGradient id="gDome" x1="0" y1="0" x2="1" y2="0"><stop offset="0" stop-color="#c07818"/><stop offset="0.5" stop-color="#d89020"/><stop offset="1" stop-color="#8a5010"/></linearGradient><radialGradient id="gBowl" cx="0.5" cy="0.3" r="0.7"><stop offset="0" stop-color="#6a4a90"/><stop offset="1" stop-color="#3a2068"/></radialGradient><pattern id="stripes" width="4" height="2.2" patternUnits="userSpaceOnUse"><rect width="4" height="0.7" fill="#e04010" fill-opacity="0.55"/></pattern><pattern id="stripesB" width="4" height="1.8" patternUnits="userSpaceOnUse"><rect width="4" height="0.6" fill="#3040c0" fill-opacity="0.45"/></pattern><pattern id="stripesD" width="4" height="1.6" patternUnits="userSpaceOnUse"><rect width="4" height="0.6" fill="#6a3a10" fill-opacity="0.5"/></pattern></defs>
<path d="M87,470 L77.5,507" stroke="#e83030" stroke-width="0.9"/>
<path d="M105.6,607 L113.8,553" stroke="#4040f0" stroke-width="1.3"/>
<path d="M84.4,482.3 C82.67,480.63 84.3,476.72 84.6,474 C84.9,471.28 85.5,467.95 86.2,466 C86.9,464.05 88,462.47 88.8,462.3 C89.6,462.13 90.13,464.05 91,465 C91.87,465.95 92.5,467.17 94,468 C95.5,468.83 97.67,469.5 100,470 C102.33,470.5 105.33,471.17 108,471 C110.67,470.83 113.5,469.83 116,469 C118.5,468.17 121.08,467.17 123,466 C124.92,464.83 126.35,462.95 127.5,462 C128.65,461.05 129.18,459.97 129.9,460.3 C130.62,460.63 131.32,462.05 131.8,464 C132.28,465.95 132.68,469.38 132.8,472 C132.92,474.62 134.63,477.95 132.5,479.7 C130.37,481.45 124.37,481.7 120,482.5 C115.63,483.3 110.47,484.25 106.3,484.5 C102.13,484.75 98.65,484.37 95,484 C91.35,483.63 86.13,483.97 84.4,482.3Z" fill="url(#gOd)"/><path d="M84.4,482.3 C82.67,480.63 84.3,476.72 84.6,474 C84.9,471.28 85.5,467.95 86.2,466 C86.9,464.05 88,462.47 88.8,462.3 C89.6,462.13 90.13,464.05 91,465 C91.87,465.95 92.5,467.17 94,468 C95.5,468.83 97.67,469.5 100,470 C102.33,470.5 105.33,471.17 108,471 C110.67,470.83 113.5,469.83 116,469 C118.5,468.17 121.08,467.17 123,466 C124.92,464.83 126.35,462.95 127.5,462 C128.65,461.05 129.18,459.97 129.9,460.3 C130.62,460.63 131.32,462.05 131.8,464 C132.28,465.95 132.68,469.38 132.8,472 C132.92,474.62 134.63,477.95 132.5,479.7 C130.37,481.45 124.37,481.7 120,482.5 C115.63,483.3 110.47,484.25 106.3,484.5 C102.13,484.75 98.65,484.37 95,484 C91.35,483.63 86.13,483.97 84.4,482.3Z" fill="url(#stripes)"/>
<path d="M91.4,459.5 C92.4,458.25 97.07,461.17 100,461.5 C102.93,461.83 106,461.67 109,461.5 C112,461.33 114.95,461.25 118,460.5 C121.05,459.75 126.3,455.92 127.3,457 C128.3,458.08 125.55,464.17 124,467 C122.45,469.83 120.5,472.12 118,474 C115.5,475.88 112,477.97 109,478.3 C106,478.63 102.5,477.55 100,476 C97.5,474.45 95.43,471.75 94,469 C92.57,466.25 90.4,460.75 91.4,459.5Z" fill="url(#gBowl)"/><path d="M91.4,459.5 C92.4,458.25 97.07,461.17 100,461.5 C102.93,461.83 106,461.67 109,461.5 C112,461.33 114.95,461.25 118,460.5 C121.05,459.75 126.3,455.92 127.3,457 C128.3,458.08 125.55,464.17 124,467 C122.45,469.83 120.5,472.12 118,474 C115.5,475.88 112,477.97 109,478.3 C106,478.63 102.5,477.55 100,476 C97.5,474.45 95.43,471.75 94,469 C92.57,466.25 90.4,460.75 91.4,459.5Z" fill="url(#stripesB)"/>
<path d="M90.1,460.4 C89.85,458.82 91.27,455.05 92.5,453 C93.73,450.95 95.75,449.52 97.5,448.1 C99.25,446.68 100.95,445.37 103,444.5 C105.05,443.63 107.63,442.9 109.8,442.9 C111.97,442.9 113.97,443.63 116,444.5 C118.03,445.37 120.25,446.68 122,448.1 C123.75,449.52 125.4,451.38 126.5,453 C127.6,454.62 129.02,456.38 128.6,457.8 C128.18,459.22 125.93,460.55 124,461.5 C122.07,462.45 119.52,463.08 117,463.5 C114.48,463.92 111.73,464 108.9,464 C106.07,464 102.48,463.75 100,463.5 C97.52,463.25 95.65,463.02 94,462.5 C92.35,461.98 90.35,461.98 90.1,460.4Z" fill="url(#gDome)"/><path d="M90.1,460.4 C89.85,458.82 91.27,455.05 92.5,453 C93.73,450.95 95.75,449.52 97.5,448.1 C99.25,446.68 100.95,445.37 103,444.5 C105.05,443.63 107.63,442.9 109.8,442.9 C111.97,442.9 113.97,443.63 116,444.5 C118.03,445.37 120.25,446.68 122,448.1 C123.75,449.52 125.4,451.38 126.5,453 C127.6,454.62 129.02,456.38 128.6,457.8 C128.18,459.22 125.93,460.55 124,461.5 C122.07,462.45 119.52,463.08 117,463.5 C114.48,463.92 111.73,464 108.9,464 C106.07,464 102.48,463.75 100,463.5 C97.52,463.25 95.65,463.02 94,462.5 C92.35,461.98 90.35,461.98 90.1,460.4Z" fill="url(#stripesD)"/>
<defs><linearGradient id="gBand" x1="0" y1="0" x2="1" y2="0"><stop offset="0" stop-color="#c07818"/><stop offset="0.35" stop-color="#e89a20"/><stop offset="0.65" stop-color="#d88a18"/><stop offset="1" stop-color="#a86010"/></linearGradient><radialGradient id="gDome2" cx="0.5" cy="0.6" r="0.6"><stop offset="0" stop-color="#ffb020"/><stop offset="0.7" stop-color="#e89018"/><stop offset="1" stop-color="#a86010"/></radialGradient></defs>
<path d="M75,625.5 L80,620.5 L88.5,614.8 L92.5,617.5 L89.5,622 L86,628 Z" fill="#c88020"/>
<path d="M75,625.5 L80,620.5 L88.5,614.8 L92.5,617.5 L89.5,622 L86,628 Z" fill="url(#stripes)"/>
<path d="M112,617 L115.5,615.5 L124,619.5 L131.5,624.5 L131.7,627 L120,628 L115,623 Z" fill="#9a5810"/>
<path d="M112,617 L115.5,615.5 L124,619.5 L131.5,624.5 L131.7,627 L120,628 L115,623 Z" fill="url(#stripes)"/>
<path d="M88.3,615.3 C88.05,613.38 89.38,611.22 90.5,609.5 C91.62,607.78 93.28,606.03 95,605 C96.72,603.97 98.97,603.47 100.8,603.3 C102.63,603.13 104.38,603.3 106,604 C107.62,604.7 109.25,606.08 110.5,607.5 C111.75,608.92 112.7,610.87 113.5,612.5 C114.3,614.13 115.55,615.88 115.3,617.3 C115.05,618.72 114.17,620.05 112,621 C109.83,621.95 105.63,623 102.3,623 C98.97,623 94.33,622.28 92,621 C89.67,619.72 88.55,617.22 88.3,615.3Z" fill="url(#gDome2)"/>
<ellipse cx="102.3" cy="618.7" rx="12" ry="5.6" fill="#f0a020"/>
<path d="M91.5,620 Q102,618 113,620 Q110,626 103,627.5 Q96,627 91.5,620Z" fill="#4a3080"/>
<path d="M91.5,620 Q102,618 113,620 Q110,626 103,627.5 Q96,627 91.5,620Z" fill="url(#stripesB)"/>
<ellipse cx="102.3" cy="617.5" rx="9" ry="3.2" fill="none" stroke="#5050c0" stroke-width="0.6" stroke-opacity="0.7"/>
<ellipse cx="102.3" cy="619" rx="6.5" ry="2.2" fill="none" stroke="#5050c0" stroke-width="0.6" stroke-opacity="0.7"/>
<path d="M73.9,625.9 C75.18,624.78 78.43,626.97 81,627.3 C83.57,627.63 86.97,627.92 89.3,627.9 C91.63,627.88 92.92,627.37 95,627.2 C97.08,627.03 99.3,626.85 101.8,626.9 C104.3,626.95 107.27,627.33 110,627.5 C112.73,627.67 115.7,627.98 118.2,627.9 C120.7,627.82 122.75,627.33 125,627 C127.25,626.67 130.43,624.73 131.7,625.9 C132.97,627.07 132.6,631.1 132.6,634 C132.6,636.9 134.63,641.55 131.7,643.3 C128.77,645.05 120.47,644.27 115,644.5 C109.53,644.73 103.9,644.78 98.9,644.7 C93.9,644.62 89.1,644.4 85,644 C80.9,643.6 76.25,643.97 74.3,642.3 C72.35,640.63 73.37,636.73 73.3,634 C73.23,631.27 72.62,627.02 73.9,625.9Z" fill="url(#gBand)"/>
<path d="M74,631 Q103,632 132.2,630.7" stroke="#e03a10" stroke-width="0.6" stroke-opacity="0.75" fill="none"/>
<path d="M74,634.7 Q103,635.7 132.2,634.4000000000001" stroke="#e03a10" stroke-width="0.6" stroke-opacity="0.75" fill="none"/>
<path d="M74,638.3 Q103,639.3 132.2,638.0" stroke="#e03a10" stroke-width="0.6" stroke-opacity="0.75" fill="none"/>
<path d="M74,641.5 Q103,642.5 132.2,641.2" stroke="#e03a10" stroke-width="0.6" stroke-opacity="0.75" fill="none"/>
<rect x="48.5" y="380.5" width="285.0" height="285.0" fill="none" stroke="#777" stroke-width="1"/>
<path d="M48.6,665.5 v-4 M48.6,380.5 v4" stroke="#444" stroke-width="0.7"/>
<path d="M60,665.5 v-2 M60,380.5 v2" stroke="#444" stroke-width="0.7"/>
<path d="M71.4,665.5 v-2 M71.4,380.5 v2" stroke="#444" stroke-width="0.7"/>
<path d="M82.8,665.5 v-2 M82.8,380.5 v2" stroke="#444" stroke-width="0.7"/>
<path d="M94.2,665.5 v-2 M94.2,380.5 v2" stroke="#444" stroke-width="0.7"/>
<path d="M105.6,665.5 v-4 M105.6,380.5 v4" stroke="#444" stroke-width="0.7"/>
<path d="M117,665.5 v-2 M117,380.5 v2" stroke="#444" stroke-width="0.7"/>
<path d="M128.4,665.5 v-2 M128.4,380.5 v2" stroke="#444" stroke-width="0.7"/>
<path d="M139.8,665.5 v-2 M139.8,380.5 v2" stroke="#444" stroke-width="0.7"/>
<path d="M151.2,665.5 v-2 M151.2,380.5 v2" stroke="#444" stroke-width="0.7"/>
<path d="M162.6,665.5 v-4 M162.6,380.5 v4" stroke="#444" stroke-width="0.7"/>
<path d="M174,665.5 v-2 M174,380.5 v2" stroke="#444" stroke-width="0.7"/>
<path d="M185.4,665.5 v-2 M185.4,380.5 v2" stroke="#444" stroke-width="0.7"/>
<path d="M196.8,665.5 v-2 M196.8,380.5 v2" stroke="#444" stroke-width="0.7"/>
<path d="M208.2,665.5 v-2 M208.2,380.5 v2" stroke="#444" stroke-width="0.7"/>
<path d="M219.6,665.5 v-4 M219.6,380.5 v4" stroke="#444" stroke-width="0.7"/>
<path d="M231,665.5 v-2 M231,380.5 v2" stroke="#444" stroke-width="0.7"/>
<path d="M242.4,665.5 v-2 M242.4,380.5 v2" stroke="#444" stroke-width="0.7"/>
<path d="M253.8,665.5 v-2 M253.8,380.5 v2" stroke="#444" stroke-width="0.7"/>
<path d="M265.2,665.5 v-2 M265.2,380.5 v2" stroke="#444" stroke-width="0.7"/>
<path d="M276.6,665.5 v-4 M276.6,380.5 v4" stroke="#444" stroke-width="0.7"/>
<path d="M288,665.5 v-2 M288,380.5 v2" stroke="#444" stroke-width="0.7"/>
<path d="M299.4,665.5 v-2 M299.4,380.5 v2" stroke="#444" stroke-width="0.7"/>
<path d="M310.8,665.5 v-2 M310.8,380.5 v2" stroke="#444" stroke-width="0.7"/>
<path d="M322.2,665.5 v-2 M322.2,380.5 v2" stroke="#444" stroke-width="0.7"/>
<path d="M333.6,665.5 v-4 M333.6,380.5 v4" stroke="#444" stroke-width="0.7"/>
<path d="M48.5,648.08 h2 M333.5,648.08 h-2" stroke="#444" stroke-width="0.7"/>
<path d="M48.5,630.2 h4 M333.5,630.2 h-4" stroke="#444" stroke-width="0.7"/>
<path d="M48.5,612.33 h2 M333.5,612.33 h-2" stroke="#444" stroke-width="0.7"/>
<path d="M48.5,594.45 h2 M333.5,594.45 h-2" stroke="#444" stroke-width="0.7"/>
<path d="M48.5,576.58 h2 M333.5,576.58 h-2" stroke="#444" stroke-width="0.7"/>
<path d="M48.5,558.7 h4 M333.5,558.7 h-4" stroke="#444" stroke-width="0.7"/>
<path d="M48.5,540.83 h2 M333.5,540.83 h-2" stroke="#444" stroke-width="0.7"/>
<path d="M48.5,522.95 h2 M333.5,522.95 h-2" stroke="#444" stroke-width="0.7"/>
<path d="M48.5,505.08 h2 M333.5,505.08 h-2" stroke="#444" stroke-width="0.7"/>
<path d="M48.5,487.2 h4 M333.5,487.2 h-4" stroke="#444" stroke-width="0.7"/>
<path d="M48.5,469.33 h2 M333.5,469.33 h-2" stroke="#444" stroke-width="0.7"/>
<path d="M48.5,451.45 h2 M333.5,451.45 h-2" stroke="#444" stroke-width="0.7"/>
<path d="M48.5,433.58 h2 M333.5,433.58 h-2" stroke="#444" stroke-width="0.7"/>
<path d="M48.5,415.7 h4 M333.5,415.7 h-4" stroke="#444" stroke-width="0.7"/>
<path d="M48.5,397.83 h2 M333.5,397.83 h-2" stroke="#444" stroke-width="0.7"/>
<path d="M48.5,379.95 h2 M333.5,379.95 h-2" stroke="#444" stroke-width="0.7"/>
<text x="2.8" y="402" font-size="22" font-weight="bold" style="font-family:'Liberation Sans',sans-serif">d</text>
<text x="48.6" y="678.5" font-size="13" text-anchor="middle" style="" >0</text>
<text x="105.6" y="678.5" font-size="13" text-anchor="middle" style="" >5</text>
<text x="162.6" y="678.5" font-size="13" text-anchor="middle" style="" >10</text>
<text x="219.6" y="678.5" font-size="13" text-anchor="middle" style="" >15</text>
<text x="276.6" y="678.5" font-size="13" text-anchor="middle" style="" >20</text>
<text x="333.6" y="678.5" font-size="13" text-anchor="middle" style="" >25</text>
<text x="46" y="420.2" font-size="13" text-anchor="end" style="" >40</text>
<text x="46" y="491.7" font-size="13" text-anchor="end" style="" >20</text>
<text x="46" y="563.2" font-size="13" text-anchor="end" style="" >0</text>
<text x="46" y="634.7" font-size="13" text-anchor="end" style="" >−20</text>
<text x="168.5" y="700.9" font-size="16.7" textLength="45.2" lengthAdjust="spacingAndGlyphs"><tspan font-style="italic">B</tspan><tspan font-size="11" dy="3">z</tspan><tspan dy="-3"> (T)</tspan></text>
<text transform="translate(20.1,523) rotate(-90)" font-size="16.5" text-anchor="middle" textLength="59" lengthAdjust="spacingAndGlyphs"><tspan font-style="italic">ε</tspan> (meV)</text>
<rect x="129.3" y="647.9" width="197.3" height="13.3" rx="2" fill="#fff" fill-opacity="0.9" stroke="#ccc" stroke-width="0.6"/>
<text x="130.5" y="658.9" font-size="11.5" textLength="195" lengthAdjust="spacingAndGlyphs"><tspan font-style="italic">Δ</tspan>=0, <tspan font-style="italic">K</tspan>/<tspan font-style="italic">K</tspan>' valleys are degenerate</text>
</g>
<g id="pe">
<clipPath id="ce"><rect x="389.5" y="380.5" width="288.0" height="285.0"/></clipPath>
<g clip-path="url(#ce)">
<path d="M447.1,380.5 V665.5" stroke="#d0d0d0" stroke-width="0.5" stroke-dasharray="1,2"/>
<path d="M504.7,380.5 V665.5" stroke="#d0d0d0" stroke-width="0.5" stroke-dasharray="1,2"/>
<path d="M562.3,380.5 V665.5" stroke="#d0d0d0" stroke-width="0.5" stroke-dasharray="1,2"/>
<path d="M619.9,380.5 V665.5" stroke="#d0d0d0" stroke-width="0.5" stroke-dasharray="1,2"/>
<path d="M397.56,487.3 C398.78,484.87 402.45,477.12 404.89,472.73 C407.33,468.33 409.77,464.49 412.22,460.94 C414.66,457.38 417.1,454.28 419.54,451.4 C421.98,448.53 424.42,446.01 426.87,443.69 C429.31,441.36 431.75,439.33 434.19,437.44 C436.63,435.56 439.08,433.92 441.52,432.4 C443.96,430.87 446.4,429.54 448.84,428.31 C451.28,427.08 453.73,426 456.17,425.01 C458.61,424.01 461.05,423.14 463.49,422.33 C465.94,421.53 468.38,420.82 470.82,420.17 C473.26,419.52 475.7,418.95 478.14,418.42 C480.59,417.89 483.03,417.43 485.47,417 C487.91,416.58 490.35,416.2 492.8,415.86 C495.24,415.51 497.68,415.21 500.12,414.93 C502.56,414.65 505.01,414.41 507.45,414.18 C509.89,413.96 512.33,413.76 514.77,413.58 C517.21,413.39 519.66,413.23 522.1,413.09 C524.54,412.94 526.98,412.81 529.42,412.69 C531.87,412.57 534.31,412.47 536.75,412.37 C539.19,412.27 541.63,412.19 544.07,412.11 C546.52,412.03 548.96,411.96 551.4,411.9 C553.84,411.84 556.28,411.78 558.73,411.73 C561.17,411.68 563.61,411.63 566.05,411.59 C568.49,411.55 570.94,411.51 573.38,411.48 C575.82,411.45 578.26,411.42 580.7,411.39 C583.14,411.36 585.59,411.34 588.03,411.32 C590.47,411.3 592.91,411.28 595.35,411.26 C597.8,411.24 600.24,411.23 602.68,411.21 C605.12,411.2 607.56,411.18 610,411.17 C612.45,411.16 614.89,411.15 617.33,411.14 C619.77,411.13 622.21,411.12 624.66,411.12 C627.1,411.11 629.54,411.1 631.98,411.1 C634.42,411.09 636.86,411.08 639.31,411.08 C641.75,411.07 644.19,411.07 646.63,411.07 C649.07,411.06 651.52,411.06 653.96,411.05 C656.4,411.05 658.84,411.05 661.28,411.05 C663.73,411.04 666.17,411.04 668.61,411.04 C671.05,411.04 673.49,411.03 675.93,411.03 C678.38,411.03 682.04,411.03 683.26,411.03" stroke="#22aaaa" stroke-width="0.8" fill="none"/>
<path d="M397.56,487.3 C398.78,485.09 402.45,478.08 404.89,474.05 C407.33,470.03 409.77,466.45 412.22,463.13 C414.66,459.81 417.1,456.86 419.54,454.12 C421.98,451.38 424.42,448.95 426.87,446.69 C429.31,444.43 431.75,442.42 434.19,440.56 C436.63,438.7 439.08,437.04 441.52,435.51 C443.96,433.97 446.4,432.6 448.84,431.34 C451.28,430.07 453.73,428.94 456.17,427.9 C458.61,426.85 461.05,425.93 463.49,425.06 C465.94,424.2 468.38,423.44 470.82,422.73 C473.26,422.01 475.7,421.38 478.14,420.8 C480.59,420.21 483.03,419.69 485.47,419.21 C487.91,418.72 490.35,418.29 492.8,417.89 C495.24,417.5 497.68,417.14 500.12,416.81 C502.56,416.48 505.01,416.19 507.45,415.92 C509.89,415.65 512.33,415.41 514.77,415.18 C517.21,414.96 519.66,414.76 522.1,414.58 C524.54,414.39 526.98,414.23 529.42,414.08 C531.87,413.93 534.31,413.79 536.75,413.66 C539.19,413.54 541.63,413.43 544.07,413.32 C546.52,413.22 548.96,413.13 551.4,413.04 C553.84,412.96 556.28,412.88 558.73,412.81 C561.17,412.74 563.61,412.68 566.05,412.62 C568.49,412.56 570.94,412.51 573.38,412.46 C575.82,412.42 578.26,412.37 580.7,412.33 C583.14,412.29 585.59,412.26 588.03,412.23 C590.47,412.19 592.91,412.16 595.35,412.14 C597.8,412.11 600.24,412.09 602.68,412.06 C605.12,412.04 607.56,412.02 610,412 C612.45,411.99 614.89,411.97 617.33,411.96 C619.77,411.94 622.21,411.93 624.66,411.91 C627.1,411.9 629.54,411.89 631.98,411.88 C634.42,411.87 636.86,411.86 639.31,411.85 C641.75,411.84 644.19,411.84 646.63,411.83 C649.07,411.82 651.52,411.82 653.96,411.81 C656.4,411.81 658.84,411.8 661.28,411.8 C663.73,411.79 666.17,411.79 668.61,411.78 C671.05,411.78 673.49,411.78 675.93,411.77 C678.38,411.77 682.04,411.76 683.26,411.76" stroke="#22aaaa" stroke-width="0.8" fill="none"/>
<path d="M397.56,487.3 C398.78,485.28 402.45,478.89 404.89,475.18 C407.33,471.46 409.77,468.13 412.22,465.02 C414.66,461.91 417.1,459.11 419.54,456.5 C421.98,453.9 424.42,451.56 426.87,449.37 C429.31,447.18 431.75,445.22 434.19,443.39 C436.63,441.56 439.08,439.91 441.52,438.38 C443.96,436.84 446.4,435.46 448.84,434.18 C451.28,432.89 453.73,431.73 456.17,430.66 C458.61,429.58 461.05,428.61 463.49,427.71 C465.94,426.8 468.38,425.99 470.82,425.23 C473.26,424.48 475.7,423.8 478.14,423.16 C480.59,422.53 483.03,421.96 485.47,421.42 C487.91,420.89 490.35,420.41 492.8,419.97 C495.24,419.52 497.68,419.12 500.12,418.75 C502.56,418.38 505.01,418.04 507.45,417.73 C509.89,417.41 512.33,417.13 514.77,416.87 C517.21,416.61 519.66,416.37 522.1,416.15 C524.54,415.93 526.98,415.73 529.42,415.55 C531.87,415.37 534.31,415.2 536.75,415.05 C539.19,414.89 541.63,414.75 544.07,414.62 C546.52,414.49 548.96,414.38 551.4,414.27 C553.84,414.16 556.28,414.06 558.73,413.97 C561.17,413.88 563.61,413.8 566.05,413.72 C568.49,413.65 570.94,413.58 573.38,413.51 C575.82,413.45 578.26,413.39 580.7,413.34 C583.14,413.29 585.59,413.24 588.03,413.19 C590.47,413.15 592.91,413.11 595.35,413.07 C597.8,413.03 600.24,413 602.68,412.97 C605.12,412.94 607.56,412.91 610,412.88 C612.45,412.85 614.89,412.83 617.33,412.81 C619.77,412.79 622.21,412.77 624.66,412.75 C627.1,412.73 629.54,412.71 631.98,412.7 C634.42,412.68 636.86,412.67 639.31,412.66 C641.75,412.64 644.19,412.63 646.63,412.62 C649.07,412.61 651.52,412.6 653.96,412.59 C656.4,412.58 658.84,412.57 661.28,412.56 C663.73,412.56 666.17,412.55 668.61,412.54 C671.05,412.54 673.49,412.53 675.93,412.53 C678.38,412.52 682.04,412.51 683.26,412.51" stroke="#22aaaa" stroke-width="0.8" fill="none"/>
<path d="M397.56,487.3 C398.78,486.08 402.45,482.25 404.89,479.97 C407.33,477.69 409.77,475.59 412.22,473.61 C414.66,471.63 417.1,469.8 419.54,468.08 C421.98,466.36 424.42,464.78 426.87,463.29 C429.31,461.79 431.75,460.42 434.19,459.12 C436.63,457.83 439.08,456.63 441.52,455.51 C443.96,454.38 446.4,453.35 448.84,452.37 C451.28,451.39 453.73,450.49 456.17,449.64 C458.61,448.79 461.05,448.01 463.49,447.28 C465.94,446.54 468.38,445.86 470.82,445.22 C473.26,444.58 475.7,443.99 478.14,443.44 C480.59,442.88 483.03,442.37 485.47,441.89 C487.91,441.41 490.35,440.96 492.8,440.54 C495.24,440.13 497.68,439.74 500.12,439.38 C502.56,439.01 505.01,438.68 507.45,438.36 C509.89,438.05 512.33,437.76 514.77,437.48 C517.21,437.21 519.66,436.96 522.1,436.72 C524.54,436.48 526.98,436.26 529.42,436.06 C531.87,435.85 534.31,435.66 536.75,435.48 C539.19,435.3 541.63,435.14 544.07,434.98 C546.52,434.82 548.96,434.68 551.4,434.55 C553.84,434.41 556.28,434.29 558.73,434.17 C561.17,434.05 563.61,433.94 566.05,433.84 C568.49,433.74 570.94,433.65 573.38,433.56 C575.82,433.47 578.26,433.39 580.7,433.31 C583.14,433.23 585.59,433.16 588.03,433.1 C590.47,433.03 592.91,432.97 595.35,432.91 C597.8,432.85 600.24,432.8 602.68,432.75 C605.12,432.7 607.56,432.65 610,432.61 C612.45,432.57 614.89,432.53 617.33,432.49 C619.77,432.45 622.21,432.42 624.66,432.38 C627.1,432.35 629.54,432.32 631.98,432.29 C634.42,432.26 636.86,432.24 639.31,432.21 C641.75,432.19 644.19,432.16 646.63,432.14 C649.07,432.12 651.52,432.1 653.96,432.08 C656.4,432.06 658.84,432.05 661.28,432.03 C663.73,432.01 666.17,432 668.61,431.98 C671.05,431.97 673.49,431.96 675.93,431.94 C678.38,431.93 682.04,431.92 683.26,431.91" stroke="#22aaaa" stroke-width="0.8" fill="none"/>
<path d="M397.56,487.3 C398.78,486.29 402.45,483.12 404.89,481.21 C407.33,479.3 409.77,477.53 412.22,475.85 C414.66,474.17 417.1,472.61 419.54,471.13 C421.98,469.65 424.42,468.28 426.87,466.97 C429.31,465.67 431.75,464.46 434.19,463.31 C436.63,462.16 439.08,461.1 441.52,460.09 C443.96,459.08 446.4,458.14 448.84,457.25 C451.28,456.36 453.73,455.53 456.17,454.75 C458.61,453.97 461.05,453.24 463.49,452.55 C465.94,451.86 468.38,451.22 470.82,450.61 C473.26,450 475.7,449.44 478.14,448.9 C480.59,448.37 483.03,447.87 485.47,447.4 C487.91,446.93 490.35,446.49 492.8,446.08 C495.24,445.66 497.68,445.28 500.12,444.91 C502.56,444.55 505.01,444.21 507.45,443.89 C509.89,443.57 512.33,443.27 514.77,442.98 C517.21,442.7 519.66,442.44 522.1,442.19 C524.54,441.94 526.98,441.71 529.42,441.49 C531.87,441.27 534.31,441.06 536.75,440.87 C539.19,440.68 541.63,440.5 544.07,440.33 C546.52,440.16 548.96,440 551.4,439.85 C553.84,439.7 556.28,439.56 558.73,439.43 C561.17,439.29 563.61,439.17 566.05,439.06 C568.49,438.94 570.94,438.83 573.38,438.73 C575.82,438.63 578.26,438.53 580.7,438.44 C583.14,438.35 585.59,438.27 588.03,438.19 C590.47,438.11 592.91,438.04 595.35,437.97 C597.8,437.9 600.24,437.83 602.68,437.77 C605.12,437.71 607.56,437.65 610,437.6 C612.45,437.54 614.89,437.49 617.33,437.44 C619.77,437.4 622.21,437.35 624.66,437.31 C627.1,437.27 629.54,437.23 631.98,437.19 C634.42,437.15 636.86,437.12 639.31,437.09 C641.75,437.05 644.19,437.02 646.63,437 C649.07,436.97 651.52,436.94 653.96,436.92 C656.4,436.89 658.84,436.87 661.28,436.84 C663.73,436.82 666.17,436.8 668.61,436.78 C671.05,436.76 673.49,436.74 675.93,436.73 C678.38,436.71 682.04,436.69 683.26,436.68" stroke="#22aaaa" stroke-width="0.8" fill="none"/>
<path d="M397.56,487.3 C398.78,486.57 402.45,484.31 404.89,482.93 C407.33,481.55 409.77,480.25 412.22,479.02 C414.66,477.78 417.1,476.62 419.54,475.51 C421.98,474.4 424.42,473.36 426.87,472.36 C429.31,471.37 431.75,470.44 434.19,469.55 C436.63,468.66 439.08,467.82 441.52,467.02 C443.96,466.22 446.4,465.48 448.84,464.76 C451.28,464.04 453.73,463.37 456.17,462.73 C458.61,462.09 461.05,461.49 463.49,460.92 C465.94,460.34 468.38,459.8 470.82,459.29 C473.26,458.77 475.7,458.29 478.14,457.83 C480.59,457.37 483.03,456.93 485.47,456.52 C487.91,456.11 490.35,455.72 492.8,455.35 C495.24,454.98 497.68,454.63 500.12,454.3 C502.56,453.97 505.01,453.65 507.45,453.36 C509.89,453.06 512.33,452.78 514.77,452.51 C517.21,452.25 519.66,452 522.1,451.76 C524.54,451.52 526.98,451.29 529.42,451.08 C531.87,450.87 534.31,450.66 536.75,450.47 C539.19,450.28 541.63,450.1 544.07,449.93 C546.52,449.76 548.96,449.59 551.4,449.44 C553.84,449.29 556.28,449.14 558.73,449 C561.17,448.87 563.61,448.74 566.05,448.61 C568.49,448.49 570.94,448.37 573.38,448.26 C575.82,448.15 578.26,448.05 580.7,447.95 C583.14,447.85 585.59,447.75 588.03,447.66 C590.47,447.58 592.91,447.49 595.35,447.41 C597.8,447.33 600.24,447.26 602.68,447.19 C605.12,447.11 607.56,447.05 610,446.98 C612.45,446.92 614.89,446.86 617.33,446.8 C619.77,446.74 622.21,446.69 624.66,446.64 C627.1,446.59 629.54,446.54 631.98,446.49 C634.42,446.45 636.86,446.4 639.31,446.36 C641.75,446.32 644.19,446.28 646.63,446.24 C649.07,446.21 651.52,446.17 653.96,446.14 C656.4,446.11 658.84,446.08 661.28,446.05 C663.73,446.02 666.17,445.99 668.61,445.96 C671.05,445.93 673.49,445.91 675.93,445.89 C678.38,445.86 682.04,445.83 683.26,445.82" stroke="#22aaaa" stroke-width="0.8" fill="none"/>
<path d="M397.56,487.3 C398.78,486.74 402.45,484.99 404.89,483.91 C407.33,482.83 409.77,481.81 412.22,480.84 C414.66,479.86 417.1,478.94 419.54,478.05 C421.98,477.17 424.42,476.33 426.87,475.52 C429.31,474.72 431.75,473.96 434.19,473.23 C436.63,472.5 439.08,471.82 441.52,471.15 C443.96,470.49 446.4,469.87 448.84,469.27 C451.28,468.67 453.73,468.11 456.17,467.56 C458.61,467.02 461.05,466.51 463.49,466.01 C465.94,465.52 468.38,465.05 470.82,464.61 C473.26,464.16 475.7,463.74 478.14,463.33 C480.59,462.93 483.03,462.55 485.47,462.18 C487.91,461.81 490.35,461.46 492.8,461.13 C495.24,460.8 497.68,460.48 500.12,460.18 C502.56,459.88 505.01,459.59 507.45,459.32 C509.89,459.05 512.33,458.79 514.77,458.54 C517.21,458.29 519.66,458.05 522.1,457.83 C524.54,457.6 526.98,457.39 529.42,457.19 C531.87,456.98 534.31,456.79 536.75,456.6 C539.19,456.42 541.63,456.24 544.07,456.08 C546.52,455.91 548.96,455.75 551.4,455.6 C553.84,455.45 556.28,455.3 558.73,455.16 C561.17,455.03 563.61,454.89 566.05,454.77 C568.49,454.64 570.94,454.53 573.38,454.41 C575.82,454.3 578.26,454.19 580.7,454.09 C583.14,453.99 585.59,453.89 588.03,453.79 C590.47,453.7 592.91,453.61 595.35,453.53 C597.8,453.44 600.24,453.36 602.68,453.29 C605.12,453.21 607.56,453.14 610,453.07 C612.45,453 614.89,452.93 617.33,452.87 C619.77,452.81 622.21,452.75 624.66,452.69 C627.1,452.63 629.54,452.58 631.98,452.53 C634.42,452.47 636.86,452.42 639.31,452.38 C641.75,452.33 644.19,452.29 646.63,452.24 C649.07,452.2 651.52,452.16 653.96,452.12 C656.4,452.08 658.84,452.05 661.28,452.01 C663.73,451.98 666.17,451.94 668.61,451.91 C671.05,451.88 673.49,451.85 675.93,451.82 C678.38,451.79 682.04,451.75 683.26,451.74" stroke="#22aaaa" stroke-width="0.8" fill="none"/>
<path d="M397.56,487.3 C398.78,486.93 402.45,485.8 404.89,485.1 C407.33,484.39 409.77,483.72 412.22,483.07 C414.66,482.43 417.1,481.81 419.54,481.22 C421.98,480.62 424.42,480.05 426.87,479.51 C429.31,478.96 431.75,478.44 434.19,477.94 C436.63,477.44 439.08,476.96 441.52,476.5 C443.96,476.04 446.4,475.6 448.84,475.17 C451.28,474.75 453.73,474.34 456.17,473.96 C458.61,473.57 461.05,473.2 463.49,472.84 C465.94,472.48 468.38,472.14 470.82,471.81 C473.26,471.48 475.7,471.17 478.14,470.87 C480.59,470.57 483.03,470.28 485.47,470 C487.91,469.72 490.35,469.46 492.8,469.2 C495.24,468.95 497.68,468.71 500.12,468.47 C502.56,468.24 505.01,468.02 507.45,467.8 C509.89,467.59 512.33,467.38 514.77,467.18 C517.21,466.99 519.66,466.8 522.1,466.62 C524.54,466.44 526.98,466.26 529.42,466.1 C531.87,465.93 534.31,465.77 536.75,465.62 C539.19,465.46 541.63,465.32 544.07,465.18 C546.52,465.04 548.96,464.9 551.4,464.77 C553.84,464.64 556.28,464.52 558.73,464.4 C561.17,464.28 563.61,464.17 566.05,464.06 C568.49,463.95 570.94,463.85 573.38,463.75 C575.82,463.65 578.26,463.55 580.7,463.46 C583.14,463.37 585.59,463.28 588.03,463.19 C590.47,463.11 592.91,463.03 595.35,462.95 C597.8,462.87 600.24,462.8 602.68,462.73 C605.12,462.66 607.56,462.59 610,462.52 C612.45,462.46 614.89,462.4 617.33,462.34 C619.77,462.27 622.21,462.22 624.66,462.16 C627.1,462.11 629.54,462.05 631.98,462 C634.42,461.95 636.86,461.9 639.31,461.86 C641.75,461.81 644.19,461.77 646.63,461.72 C649.07,461.68 651.52,461.64 653.96,461.6 C656.4,461.56 658.84,461.52 661.28,461.49 C663.73,461.45 666.17,461.42 668.61,461.38 C671.05,461.35 673.49,461.32 675.93,461.29 C678.38,461.26 682.04,461.21 683.26,461.2" stroke="#22aaaa" stroke-width="0.8" fill="none"/>
<path d="M397.56,487.3 C398.78,487.07 402.45,486.36 404.89,485.91 C407.33,485.47 409.77,485.04 412.22,484.62 C414.66,484.21 417.1,483.81 419.54,483.43 C421.98,483.05 424.42,482.68 426.87,482.32 C429.31,481.97 431.75,481.62 434.19,481.29 C436.63,480.96 439.08,480.64 441.52,480.34 C443.96,480.03 446.4,479.74 448.84,479.45 C451.28,479.17 453.73,478.89 456.17,478.63 C458.61,478.37 461.05,478.11 463.49,477.87 C465.94,477.62 468.38,477.39 470.82,477.16 C473.26,476.93 475.7,476.71 478.14,476.5 C480.59,476.29 483.03,476.09 485.47,475.89 C487.91,475.7 490.35,475.51 492.8,475.33 C495.24,475.15 497.68,474.97 500.12,474.8 C502.56,474.63 505.01,474.47 507.45,474.32 C509.89,474.16 512.33,474.01 514.77,473.86 C517.21,473.72 519.66,473.58 522.1,473.45 C524.54,473.31 526.98,473.18 529.42,473.06 C531.87,472.93 534.31,472.81 536.75,472.7 C539.19,472.58 541.63,472.47 544.07,472.36 C546.52,472.25 548.96,472.15 551.4,472.05 C553.84,471.95 556.28,471.85 558.73,471.76 C561.17,471.67 563.61,471.58 566.05,471.49 C568.49,471.41 570.94,471.33 573.38,471.25 C575.82,471.17 578.26,471.09 580.7,471.02 C583.14,470.94 585.59,470.87 588.03,470.8 C590.47,470.73 592.91,470.67 595.35,470.6 C597.8,470.54 600.24,470.48 602.68,470.42 C605.12,470.36 607.56,470.3 610,470.25 C612.45,470.19 614.89,470.14 617.33,470.09 C619.77,470.04 622.21,469.99 624.66,469.94 C627.1,469.9 629.54,469.85 631.98,469.81 C634.42,469.76 636.86,469.72 639.31,469.68 C641.75,469.64 644.19,469.6 646.63,469.56 C649.07,469.52 651.52,469.49 653.96,469.45 C656.4,469.42 658.84,469.38 661.28,469.35 C663.73,469.32 666.17,469.29 668.61,469.26 C671.05,469.23 673.49,469.2 675.93,469.17 C678.38,469.14 682.04,469.1 683.26,469.09" stroke="#22aaaa" stroke-width="0.8" fill="none"/>
<path d="M550.78,412.08 C554.62,411.9 564.8,411.84 573.82,411.01 C582.84,410.18 596.28,408.93 604.92,407.09 C613.56,405.25 619.32,402.63 625.66,399.96 C632,397.28 637.56,394.31 642.94,391.05 C648.32,387.78 654.08,383.32 657.92,380.35 C661.76,377.38 664.64,374.41 665.98,373.22" stroke="#22aaaa" stroke-width="0.8" fill="none"/>
<path d="M440.11,487.3 C441.71,487.16 446.54,486.94 449.75,486.43 C452.97,485.93 456.18,485.18 459.4,484.28 C462.61,483.39 465.83,482.29 469.04,481.04 C472.26,479.8 475.47,478.37 478.69,476.8 C481.9,475.23 485.12,473.49 488.33,471.61 C491.55,469.73 494.76,467.69 497.98,465.51 C501.19,463.34 504.41,461.01 507.62,458.55 C510.83,456.08 514.05,453.47 517.26,450.73 C520.48,447.99 523.69,445.11 526.91,442.1 C530.12,439.09 533.34,435.94 536.55,432.66 C539.77,429.38 542.98,425.97 546.2,422.43 C549.41,418.89 552.63,415.23 555.84,411.43 C559.06,407.64 562.27,403.72 565.49,399.68 C568.7,395.63 571.92,391.46 575.13,387.17 C578.35,382.88 583.17,376.14 584.78,373.93" stroke="#22aaaa" stroke-width="0.7" fill="none"/>
<path d="M425.12,487.3 C426.42,487.15 430.31,486.93 432.91,486.42 C435.5,485.91 438.1,485.15 440.7,484.24 C443.29,483.33 445.89,482.22 448.49,480.95 C451.08,479.69 453.68,478.24 456.27,476.65 C458.87,475.05 461.47,473.29 464.06,471.38 C466.66,469.48 469.26,467.41 471.85,465.2 C474.45,462.99 477.05,460.63 479.64,458.14 C482.24,455.64 484.83,452.99 487.43,450.21 C490.03,447.43 492.62,444.51 495.22,441.45 C497.82,438.4 500.41,435.2 503.01,431.88 C505.61,428.55 508.2,425.1 510.8,421.51 C513.39,417.92 515.99,414.2 518.59,410.35 C521.18,406.51 523.78,402.53 526.38,398.43 C528.97,394.33 531.57,390.1 534.17,385.74 C536.76,381.39 540.66,374.55 541.95,372.32" stroke="#22aaaa" stroke-width="0.7" fill="none"/>
<path d="M415.63,487.3 C416.73,487.15 420.04,486.93 422.24,486.41 C424.45,485.89 426.65,485.12 428.86,484.2 C431.06,483.28 433.27,482.15 435.47,480.87 C437.67,479.59 439.88,478.12 442.08,476.51 C444.29,474.89 446.49,473.11 448.7,471.17 C450.9,469.24 453.11,467.15 455.31,464.91 C457.52,462.67 459.72,460.28 461.93,457.75 C464.13,455.22 466.34,452.54 468.54,449.72 C470.75,446.9 472.95,443.94 475.15,440.85 C477.36,437.75 479.56,434.51 481.77,431.14 C483.97,427.78 486.18,424.27 488.38,420.63 C490.59,417 492.79,413.23 495,409.33 C497.2,405.43 499.41,401.4 501.61,397.25 C503.82,393.09 506.02,388.81 508.23,384.4 C510.43,379.99 513.74,373.06 514.84,370.79" stroke="#22aaaa" stroke-width="0.7" fill="none"/>
<path d="M409.08,487.3 C410.05,487.15 412.95,486.92 414.88,486.4 C416.82,485.88 418.75,485.1 420.69,484.16 C422.62,483.23 424.55,482.09 426.49,480.79 C428.42,479.49 430.36,478.01 432.29,476.37 C434.23,474.74 436.16,472.93 438.1,470.97 C440.03,469.02 441.96,466.9 443.9,464.63 C445.83,462.37 447.77,459.95 449.7,457.38 C451.64,454.82 453.57,452.11 455.51,449.26 C457.44,446.4 459.37,443.4 461.31,440.27 C463.24,437.14 465.18,433.86 467.11,430.45 C469.05,427.04 470.98,423.49 472.92,419.81 C474.85,416.13 476.78,412.31 478.72,408.37 C480.65,404.42 482.59,400.34 484.52,396.13 C486.46,391.93 488.39,387.59 490.33,383.12 C492.26,378.66 495.16,371.65 496.13,369.35" stroke="#22aaaa" stroke-width="0.7" fill="none"/>
<path d="M404.29,487.3 C405.16,487.15 407.76,486.92 409.5,486.39 C411.23,485.86 412.97,485.07 414.71,484.13 C416.44,483.18 418.18,482.03 419.92,480.72 C421.65,479.4 423.39,477.9 425.13,476.25 C426.86,474.59 428.6,472.76 430.34,470.79 C432.07,468.81 433.81,466.66 435.55,464.37 C437.29,462.08 439.02,459.63 440.76,457.04 C442.5,454.45 444.23,451.7 445.97,448.82 C447.71,445.93 449.44,442.9 451.18,439.73 C452.92,436.56 454.65,433.24 456.39,429.79 C458.13,426.34 459.86,422.75 461.6,419.03 C463.34,415.31 465.07,411.45 466.81,407.45 C468.55,403.46 470.28,399.34 472.02,395.08 C473.76,390.83 475.49,386.44 477.23,381.92 C478.97,377.41 481.57,370.31 482.44,367.99" stroke="#22aaaa" stroke-width="0.7" fill="none"/>
<path d="M400.63,487.3 C401.42,487.15 403.8,486.91 405.39,486.38 C406.97,485.84 408.56,485.05 410.14,484.09 C411.73,483.14 413.32,481.97 414.9,480.64 C416.49,479.32 418.07,477.8 419.66,476.13 C421.24,474.46 422.83,472.61 424.42,470.61 C426,468.61 427.59,466.44 429.17,464.12 C430.76,461.81 432.35,459.33 433.93,456.71 C435.52,454.09 437.1,451.32 438.69,448.4 C440.27,445.48 441.86,442.42 443.45,439.21 C445.03,436.01 446.62,432.66 448.2,429.17 C449.79,425.68 451.37,422.05 452.96,418.29 C454.55,414.53 456.13,410.62 457.72,406.59 C459.3,402.56 460.89,398.38 462.47,394.08 C464.06,389.78 465.65,385.34 467.23,380.78 C468.82,376.22 471.2,369.04 471.99,366.7" stroke="#22aaaa" stroke-width="0.7" fill="none"/>
<path d="M397.75,487.3 C398.48,487.14 400.68,486.91 402.15,486.37 C403.61,485.83 405.08,485.02 406.55,484.06 C408.01,483.09 409.48,481.92 410.95,480.58 C412.41,479.24 413.88,477.7 415.35,476.02 C416.81,474.33 418.28,472.46 419.75,470.44 C421.21,468.42 422.68,466.23 424.15,463.89 C425.61,461.55 427.08,459.05 428.55,456.4 C430.01,453.75 431.48,450.95 432.95,448 C434.41,445.06 435.88,441.96 437.35,438.72 C438.82,435.49 440.28,432.1 441.75,428.58 C443.22,425.06 444.68,421.39 446.15,417.59 C447.62,413.79 449.08,409.85 450.55,405.77 C452.02,401.69 453.48,397.48 454.95,393.13 C456.42,388.79 457.88,384.31 459.35,379.7 C460.82,375.09 463.02,367.84 463.75,365.47" stroke="#22aaaa" stroke-width="0.7" fill="none"/>
<path d="M397.56,487.3 C398.23,487.14 400.21,486.9 401.53,486.36 C402.85,485.81 404.18,484.99 405.5,484.01 C406.82,483.03 408.15,481.84 409.47,480.48 C410.79,479.12 412.11,477.56 413.44,475.85 C414.76,474.13 416.08,472.24 417.4,470.19 C418.73,468.13 420.05,465.91 421.37,463.54 C422.7,461.16 424.02,458.63 425.34,455.94 C426.66,453.25 427.99,450.41 429.31,447.42 C430.63,444.43 431.95,441.29 433.28,438 C434.6,434.72 435.92,431.28 437.25,427.71 C438.57,424.13 439.89,420.41 441.21,416.55 C442.54,412.69 443.86,408.69 445.18,404.56 C446.51,400.42 447.83,396.14 449.15,391.73 C450.47,387.32 451.8,382.78 453.12,378.1 C454.44,373.42 456.43,366.06 457.09,363.66" stroke="#22aaaa" stroke-width="0.7" fill="none"/>
<path d="M397.56,487.3 C398.16,487.14 399.97,486.9 401.17,486.34 C402.37,485.78 403.57,484.95 404.77,483.96 C405.97,482.96 407.17,481.75 408.37,480.37 C409.57,478.99 410.77,477.41 411.97,475.67 C413.17,473.93 414.37,472 415.57,469.92 C416.77,467.84 417.97,465.58 419.17,463.17 C420.37,460.76 421.57,458.18 422.78,455.45 C423.98,452.72 425.18,449.83 426.38,446.8 C427.58,443.76 428.78,440.57 429.98,437.23 C431.18,433.9 432.38,430.41 433.58,426.78 C434.78,423.15 435.98,419.37 437.18,415.45 C438.38,411.53 439.58,407.47 440.78,403.27 C441.98,399.07 443.18,394.73 444.38,390.25 C445.59,385.77 446.79,381.15 447.99,376.4 C449.19,371.65 450.99,364.18 451.59,361.73" stroke="#22aaaa" stroke-width="0.7" fill="none"/>
<path d="M397.56,487.3 C398.11,487.14 399.76,486.89 400.86,486.33 C401.96,485.76 403.05,484.92 404.15,483.91 C405.25,482.9 406.35,481.66 407.45,480.26 C408.54,478.86 409.64,477.25 410.74,475.48 C411.84,473.71 412.94,471.76 414.03,469.64 C415.13,467.53 416.23,465.24 417.33,462.79 C418.43,460.34 419.52,457.72 420.62,454.95 C421.72,452.17 422.82,449.24 423.91,446.16 C425.01,443.07 426.11,439.83 427.21,436.44 C428.31,433.05 429.4,429.51 430.5,425.82 C431.6,422.13 432.7,418.29 433.8,414.31 C434.89,410.33 435.99,406.2 437.09,401.94 C438.19,397.67 439.29,393.26 440.38,388.71 C441.48,384.16 442.58,379.46 443.68,374.64 C444.78,369.81 446.42,362.22 446.97,359.74" stroke="#22aaaa" stroke-width="0.7" fill="none"/>
<path d="M397.56,487.3 C398.07,487.13 399.59,486.88 400.6,486.31 C401.61,485.74 402.62,484.88 403.63,483.85 C404.64,482.82 405.65,481.57 406.66,480.15 C407.67,478.72 408.68,477.09 409.69,475.29 C410.7,473.49 411.71,471.51 412.72,469.36 C413.73,467.21 414.74,464.88 415.76,462.39 C416.77,459.9 417.78,457.24 418.79,454.42 C419.8,451.61 420.81,448.62 421.82,445.49 C422.83,442.35 423.84,439.06 424.85,435.61 C425.86,432.17 426.87,428.57 427.88,424.82 C428.89,421.07 429.9,417.17 430.91,413.13 C431.93,409.08 432.94,404.89 433.95,400.55 C434.96,396.22 435.97,391.73 436.98,387.11 C437.99,382.49 439,377.72 440.01,372.81 C441.02,367.91 442.54,360.2 443.04,357.67" stroke="#22aaaa" stroke-width="0.7" fill="none"/>
<path d="M397.56,487.3 C398.03,487.13 399.43,486.88 400.37,486.29 C401.31,485.71 402.24,484.84 403.18,483.79 C404.11,482.75 405.05,481.48 405.98,480.03 C406.92,478.58 407.85,476.92 408.79,475.09 C409.72,473.27 410.66,471.25 411.59,469.06 C412.53,466.87 413.47,464.51 414.4,461.98 C415.34,459.45 416.27,456.74 417.21,453.88 C418.14,451.02 419.08,447.98 420.01,444.8 C420.95,441.61 421.88,438.26 422.82,434.76 C423.75,431.26 424.69,427.6 425.63,423.79 C426.56,419.98 427.5,416.01 428.43,411.9 C429.37,407.79 430.3,403.53 431.24,399.12 C432.17,394.71 433.11,390.15 434.04,385.45 C434.98,380.75 435.91,375.91 436.85,370.92 C437.79,365.93 439.19,358.09 439.66,355.53" stroke="#22aaaa" stroke-width="0.7" fill="none"/>
<path d="M397.56,487.3 C398,487.13 399.3,486.87 400.17,486.28 C401.04,485.68 401.91,484.8 402.78,483.74 C403.65,482.67 404.52,481.38 405.39,479.9 C406.26,478.43 407.13,476.75 408,474.89 C408.87,473.03 409.74,470.98 410.61,468.75 C411.48,466.53 412.35,464.12 413.22,461.55 C414.09,458.98 414.96,456.23 415.83,453.31 C416.7,450.4 417.57,447.32 418.44,444.08 C419.31,440.84 420.18,437.43 421.05,433.87 C421.92,430.31 422.79,426.59 423.66,422.72 C424.53,418.84 425.4,414.81 426.27,410.63 C427.14,406.45 428.01,402.11 428.88,397.63 C429.75,393.15 430.62,388.51 431.49,383.73 C432.36,378.95 433.23,374.03 434.1,368.95 C434.97,363.88 436.27,355.91 436.71,353.31" stroke="#22aaaa" stroke-width="0.7" fill="none"/>
<path d="M397.56,487.3 C397.97,487.13 399.19,486.86 400,486.26 C400.81,485.65 401.63,484.75 402.44,483.67 C403.25,482.59 404.06,481.28 404.88,479.78 C405.69,478.28 406.5,476.57 407.31,474.67 C408.12,472.78 408.94,470.7 409.75,468.43 C410.56,466.17 411.37,463.72 412.19,461.11 C413,458.49 413.81,455.69 414.62,452.73 C415.44,449.77 416.25,446.63 417.06,443.33 C417.87,440.04 418.68,436.57 419.5,432.95 C420.31,429.33 421.12,425.54 421.93,421.6 C422.75,417.66 423.56,413.56 424.37,409.31 C425.18,405.05 426,400.64 426.81,396.08 C427.62,391.52 428.43,386.81 429.25,381.95 C430.06,377.09 430.87,372.07 431.68,366.91 C432.49,361.76 433.71,353.65 434.12,351" stroke="#22aaaa" stroke-width="0.7" fill="none"/>
<path d="M397.56,487.3 C397.94,487.12 399.09,486.86 399.85,486.24 C400.61,485.63 401.37,484.71 402.13,483.61 C402.89,482.51 403.66,481.17 404.42,479.65 C405.18,478.12 405.94,476.38 406.7,474.45 C407.46,472.53 408.22,470.4 408.98,468.1 C409.75,465.8 410.51,463.31 411.27,460.64 C412.03,457.98 412.79,455.13 413.55,452.12 C414.31,449.11 415.08,445.91 415.84,442.56 C416.6,439.21 417.36,435.68 418.12,432 C418.88,428.31 419.64,424.46 420.41,420.45 C421.17,416.44 421.93,412.26 422.69,407.93 C423.45,403.61 424.21,399.12 424.97,394.48 C425.74,389.84 426.5,385.04 427.26,380.09 C428.02,375.15 428.78,370.04 429.54,364.79 C430.3,359.54 431.45,351.3 431.83,348.6" stroke="#22aaaa" stroke-width="0.7" fill="none"/>
<path d="M397.56,487.3 C397.92,487.12 399,486.85 399.71,486.22 C400.43,485.6 401.14,484.66 401.86,483.54 C402.58,482.42 403.29,481.06 404.01,479.51 C404.72,477.95 405.44,476.18 406.16,474.22 C406.87,472.26 407.59,470.1 408.3,467.76 C409.02,465.41 409.74,462.88 410.45,460.16 C411.17,457.45 411.88,454.55 412.6,451.49 C413.32,448.42 414.03,445.17 414.75,441.76 C415.46,438.34 416.18,434.75 416.9,431 C417.61,427.25 418.33,423.33 419.04,419.24 C419.76,415.16 420.48,410.91 421.19,406.51 C421.91,402.1 422.62,397.53 423.34,392.81 C424.05,388.08 424.77,383.2 425.49,378.16 C426.2,373.13 426.92,367.93 427.63,362.59 C428.35,357.25 429.42,348.85 429.78,346.1" stroke="#22aaaa" stroke-width="0.7" fill="none"/>
<path d="M397.56,487.3 C397.9,487.12 398.91,486.84 399.59,486.2 C400.26,485.56 400.94,484.61 401.62,483.47 C402.29,482.34 402.97,480.95 403.64,479.36 C404.32,477.78 404.99,475.97 405.67,473.98 C406.34,471.99 407.02,469.78 407.69,467.4 C408.37,465.01 409.04,462.43 409.72,459.67 C410.39,456.9 411.07,453.95 411.74,450.83 C412.42,447.7 413.09,444.4 413.77,440.92 C414.44,437.44 415.12,433.79 415.79,429.96 C416.47,426.14 417.15,422.15 417.82,417.99 C418.5,413.83 419.17,409.51 419.85,405.02 C420.52,400.53 421.2,395.88 421.87,391.07 C422.55,386.26 423.22,381.29 423.9,376.16 C424.57,371.03 425.25,365.74 425.92,360.3 C426.6,354.85 427.61,346.3 427.95,343.5" stroke="#22aaaa" stroke-width="0.7" fill="none"/>
<path d="M397.56,487.3 C397.88,487.11 398.84,486.83 399.48,486.18 C400.12,485.53 400.76,484.56 401.39,483.4 C402.03,482.24 402.67,480.83 403.31,479.21 C403.95,477.6 404.59,475.76 405.23,473.73 C405.86,471.7 406.5,469.45 407.14,467.02 C407.78,464.59 408.42,461.96 409.06,459.15 C409.69,456.33 410.33,453.33 410.97,450.14 C411.61,446.96 412.25,443.59 412.89,440.05 C413.53,436.5 414.16,432.78 414.8,428.89 C415.44,424.99 416.08,420.92 416.72,416.69 C417.36,412.45 417.99,408.04 418.63,403.47 C419.27,398.9 419.91,394.16 420.55,389.26 C421.19,384.36 421.82,379.29 422.46,374.07 C423.1,368.84 423.74,363.45 424.38,357.91 C425.02,352.36 425.97,343.65 426.29,340.8" stroke="#22aaaa" stroke-width="0.7" fill="none"/>
<path d="M397.56,487.3 C397.87,487.11 398.77,486.82 399.38,486.16 C399.98,485.5 400.59,484.51 401.19,483.33 C401.8,482.14 402.4,480.7 403.01,479.06 C403.62,477.42 404.22,475.54 404.83,473.47 C405.43,471.4 406.04,469.11 406.64,466.63 C407.25,464.15 407.85,461.47 408.46,458.6 C409.06,455.74 409.67,452.67 410.27,449.43 C410.88,446.18 411.48,442.75 412.09,439.14 C412.69,435.53 413.3,431.73 413.9,427.76 C414.51,423.8 415.11,419.65 415.72,415.33 C416.32,411.01 416.93,406.52 417.53,401.86 C418.14,397.2 418.74,392.37 419.35,387.38 C419.95,382.38 420.56,377.22 421.16,371.89 C421.77,366.56 422.37,361.07 422.98,355.42 C423.58,349.77 424.49,340.89 424.79,337.98" stroke="#22aaaa" stroke-width="0.7" fill="none"/>
<path d="M397.56,487.3 C397.85,487.11 398.71,486.81 399.29,486.14 C399.86,485.46 400.44,484.46 401.01,483.25 C401.59,482.04 402.16,480.57 402.74,478.9 C403.31,477.22 403.89,475.31 404.46,473.2 C405.04,471.08 405.61,468.75 406.19,466.23 C406.76,463.7 407.33,460.96 407.91,458.04 C408.48,455.12 409.06,451.99 409.63,448.68 C410.21,445.37 410.78,441.87 411.36,438.19 C411.93,434.51 412.51,430.64 413.08,426.59 C413.66,422.55 414.23,418.32 414.81,413.91 C415.38,409.51 415.96,404.93 416.53,400.18 C417.1,395.43 417.68,390.5 418.25,385.41 C418.83,380.32 419.4,375.05 419.98,369.62 C420.55,364.19 421.13,358.59 421.7,352.83 C422.28,347.06 423.14,338.01 423.43,335.04" stroke="#22aaaa" stroke-width="0.7" fill="none"/>
<path d="M397.56,487.3 C397.84,487.1 398.66,486.8 399.2,486.11 C399.75,485.42 400.3,484.4 400.85,483.17 C401.39,481.94 401.94,480.44 402.49,478.73 C403.03,477.02 403.58,475.07 404.13,472.91 C404.67,470.76 405.22,468.38 405.77,465.8 C406.32,463.22 406.86,460.43 407.41,457.45 C407.96,454.47 408.5,451.28 409.05,447.91 C409.6,444.53 410.14,440.96 410.69,437.2 C411.24,433.45 411.78,429.5 412.33,425.37 C412.88,421.24 413.43,416.93 413.97,412.44 C414.52,407.95 415.07,403.27 415.61,398.43 C416.16,393.58 416.71,388.55 417.25,383.36 C417.8,378.16 418.35,372.79 418.9,367.25 C419.44,361.71 419.99,356 420.54,350.12 C421.08,344.24 421.9,335 422.18,331.98" stroke="#22aaaa" stroke-width="0.7" fill="none"/>
<path d="M397.56,487.3 C397.82,487.1 398.61,486.79 399.13,486.09 C399.65,485.39 400.17,484.34 400.69,483.08 C401.21,481.83 401.74,480.3 402.26,478.55 C402.78,476.81 403.3,474.82 403.82,472.62 C404.34,470.42 404.86,467.99 405.39,465.36 C405.91,462.73 406.43,459.88 406.95,456.84 C407.47,453.79 407.99,450.54 408.51,447.09 C409.04,443.65 409.56,440 410.08,436.17 C410.6,432.34 411.12,428.31 411.64,424.09 C412.16,419.88 412.69,415.48 413.21,410.89 C413.73,406.31 414.25,401.54 414.77,396.6 C415.29,391.65 415.81,386.52 416.34,381.22 C416.86,375.91 417.38,370.43 417.9,364.78 C418.42,359.12 418.94,353.29 419.46,347.29 C419.99,341.29 420.77,331.86 421.03,328.78" stroke="#22aaaa" stroke-width="0.7" fill="none"/>
<path d="M397.56,487.3 C397.81,487.09 398.56,486.78 399.06,486.06 C399.56,485.35 400.05,484.28 400.55,482.99 C401.05,481.71 401.55,480.15 402.05,478.37 C402.54,476.59 403.04,474.55 403.54,472.31 C404.04,470.06 404.54,467.58 405.03,464.9 C405.53,462.21 406.03,459.3 406.53,456.19 C407.02,453.08 407.52,449.76 408.02,446.24 C408.52,442.73 409.02,439 409.51,435.09 C410.01,431.18 410.51,427.06 411.01,422.76 C411.51,418.46 412,413.96 412.5,409.28 C413,404.6 413.5,399.73 414,394.68 C414.49,389.63 414.99,384.39 415.49,378.98 C415.99,373.56 416.49,367.96 416.98,362.19 C417.48,356.42 417.98,350.46 418.48,344.34 C418.98,338.21 419.72,328.58 419.97,325.43" stroke="#22aaaa" stroke-width="0.7" fill="none"/>
<path d="M397.56,487.3 C397.8,487.09 398.52,486.77 398.99,486.04 C399.47,485.3 399.95,484.21 400.42,482.9 C400.9,481.59 401.37,479.99 401.85,478.17 C402.33,476.35 402.8,474.28 403.28,471.98 C403.75,469.69 404.23,467.15 404.71,464.41 C405.18,461.67 405.66,458.7 406.14,455.52 C406.61,452.34 407.09,448.95 407.56,445.36 C408.04,441.76 408.52,437.96 408.99,433.96 C409.47,429.96 409.95,425.76 410.42,421.36 C410.9,416.97 411.37,412.38 411.85,407.6 C412.33,402.81 412.8,397.84 413.28,392.68 C413.76,387.52 414.23,382.17 414.71,376.64 C415.18,371.1 415.66,365.38 416.14,359.49 C416.61,353.59 417.09,347.51 417.56,341.25 C418.04,334.99 418.76,325.15 418.99,321.93" stroke="#22aaaa" stroke-width="0.7" fill="none"/>
<path d="M397.56,487.3 C397.79,487.08 398.48,486.76 398.93,486.01 C399.39,485.26 399.84,484.14 400.3,482.8 C400.76,481.46 401.21,479.83 401.67,477.97 C402.12,476.11 402.58,473.99 403.04,471.64 C403.49,469.3 403.95,466.71 404.41,463.9 C404.86,461.1 405.32,458.06 405.77,454.82 C406.23,451.57 406.69,448.1 407.14,444.43 C407.6,440.76 408.05,436.87 408.51,432.78 C408.97,428.69 409.42,424.4 409.88,419.9 C410.33,415.41 410.79,410.72 411.25,405.83 C411.7,400.94 412.16,395.86 412.61,390.58 C413.07,385.31 413.53,379.84 413.98,374.18 C414.44,368.53 414.89,362.68 415.35,356.65 C415.81,350.63 416.26,344.41 416.72,338.01 C417.17,331.61 417.86,321.56 418.09,318.27" stroke="#22aaaa" stroke-width="0.7" fill="none"/>
<path d="M397.56,487.3 C397.78,487.08 398.44,486.75 398.88,485.98 C399.31,485.21 399.75,484.07 400.19,482.7 C400.63,481.33 401.06,479.66 401.5,477.76 C401.94,475.86 402.37,473.69 402.81,471.29 C403.25,468.89 403.69,466.24 404.12,463.37 C404.56,460.5 405,457.4 405.44,454.08 C405.87,450.76 406.31,447.21 406.75,443.45 C407.19,439.7 407.62,435.72 408.06,431.54 C408.5,427.36 408.93,422.97 409.37,418.37 C409.81,413.78 410.25,408.98 410.68,403.98 C411.12,398.98 411.56,393.78 412,388.39 C412.43,382.99 412.87,377.4 413.31,371.62 C413.75,365.83 414.18,359.85 414.62,353.69 C415.06,347.52 415.49,341.16 415.93,334.62 C416.37,328.08 417.03,317.8 417.24,314.43" stroke="#22aaaa" stroke-width="0.7" fill="none"/>
<path d="M470.54,487.3 C472.08,487.05 476.71,486.57 479.79,485.82 C482.87,485.07 485.95,483.99 489.03,482.81 C492.11,481.62 495.19,480.22 498.27,478.7 C501.35,477.18 504.43,475.49 507.51,473.68 C510.6,471.87 513.68,469.91 516.76,467.83 C519.84,465.76 522.92,463.55 526,461.24 C529.08,458.93 532.16,456.49 535.24,453.95 C538.32,451.41 541.41,448.76 544.49,446.01 C547.57,443.26 550.65,440.4 553.73,437.44 C556.81,434.49 559.89,431.44 562.97,428.29 C566.05,425.14 569.13,421.9 572.21,418.57 C575.3,415.24 578.38,411.81 581.46,408.3 C584.54,404.79 587.62,401.19 590.7,397.51 C593.78,393.83 596.86,390.06 599.94,386.21 C603.02,382.36 607.65,376.37 609.19,374.41" stroke="#ff22ff" stroke-width="0.8" fill="none"/>
<path d="M445.1,487.3 C446.36,487.05 450.13,486.56 452.65,485.8 C455.16,485.04 457.68,483.95 460.19,482.75 C462.71,481.55 465.22,480.14 467.74,478.6 C470.26,477.06 472.77,475.34 475.29,473.51 C477.8,471.67 480.32,469.69 482.83,467.59 C485.35,465.49 487.86,463.26 490.38,460.92 C492.9,458.57 495.41,456.11 497.93,453.53 C500.44,450.96 502.96,448.28 505.47,445.49 C507.99,442.71 510.5,439.81 513.02,436.82 C515.54,433.83 518.05,430.74 520.57,427.55 C523.08,424.37 525.6,421.08 528.11,417.71 C530.63,414.34 533.14,410.87 535.66,407.32 C538.18,403.76 540.69,400.12 543.21,396.39 C545.72,392.66 548.24,388.84 550.75,384.94 C553.27,381.04 557.04,374.99 558.3,373" stroke="#ff22ff" stroke-width="0.8" fill="none"/>
<path d="M429.39,487.3 C430.48,487.05 433.73,486.55 435.89,485.78 C438.06,485.02 440.23,483.91 442.39,482.7 C444.56,481.49 446.72,480.06 448.89,478.5 C451.06,476.94 453.22,475.21 455.39,473.36 C457.56,471.5 459.72,469.5 461.89,467.37 C464.06,465.25 466.22,462.99 468.39,460.62 C470.56,458.26 472.72,455.76 474.89,453.16 C477.06,450.56 479.22,447.85 481.39,445.03 C483.56,442.21 485.72,439.29 487.89,436.27 C490.05,433.24 492.22,430.11 494.39,426.89 C496.55,423.67 498.72,420.35 500.89,416.94 C503.05,413.53 505.22,410.03 507.39,406.43 C509.55,402.84 511.72,399.15 513.89,395.38 C516.05,391.61 518.22,387.75 520.39,383.81 C522.55,379.87 525.8,373.75 526.89,371.74" stroke="#ff22ff" stroke-width="0.8" fill="none"/>
<path d="M418.73,487.3 C419.7,487.04 422.59,486.54 424.52,485.77 C426.45,484.99 428.38,483.88 430.31,482.66 C432.24,481.43 434.17,479.99 436.1,478.41 C438.03,476.84 439.96,475.09 441.89,473.22 C443.81,471.35 445.74,469.32 447.67,467.18 C449.6,465.03 451.53,462.75 453.46,460.36 C455.39,457.97 457.32,455.45 459.25,452.83 C461.18,450.2 463.11,447.46 465.04,444.62 C466.97,441.77 468.9,438.82 470.83,435.76 C472.76,432.71 474.69,429.55 476.62,426.3 C478.55,423.05 480.48,419.7 482.41,416.25 C484.34,412.81 486.27,409.27 488.19,405.64 C490.12,402.01 492.05,398.29 493.98,394.48 C495.91,390.67 497.84,386.78 499.77,382.8 C501.7,378.82 504.6,372.63 505.56,370.6" stroke="#ff22ff" stroke-width="0.8" fill="none"/>
<path d="M411.02,487.3 C411.9,487.04 414.54,486.54 416.29,485.75 C418.05,484.97 419.81,483.85 421.57,482.61 C423.33,481.38 425.08,479.92 426.84,478.34 C428.6,476.75 430.36,474.98 432.12,473.1 C433.88,471.21 435.63,469.16 437.39,467 C439.15,464.84 440.91,462.54 442.67,460.12 C444.43,457.71 446.18,455.17 447.94,452.52 C449.7,449.88 451.46,447.11 453.22,444.24 C454.97,441.37 456.73,438.39 458.49,435.31 C460.25,432.23 462.01,429.04 463.77,425.76 C465.52,422.48 467.28,419.1 469.04,415.63 C470.8,412.15 472.56,408.58 474.31,404.92 C476.07,401.26 477.83,397.51 479.59,393.66 C481.35,389.82 483.11,385.89 484.86,381.88 C486.62,377.86 489.26,371.62 490.14,369.57" stroke="#ff22ff" stroke-width="0.8" fill="none"/>
<path d="M405.18,487.3 C406,487.04 408.44,486.53 410.07,485.74 C411.7,484.95 413.33,483.82 414.95,482.58 C416.58,481.33 418.21,479.86 419.84,478.26 C421.47,476.67 423.1,474.89 424.72,472.98 C426.35,471.08 427.98,469.02 429.61,466.84 C431.24,464.66 432.87,462.34 434.5,459.91 C436.12,457.48 437.75,454.92 439.38,452.25 C441.01,449.58 442.64,446.79 444.27,443.9 C445.9,441.01 447.52,438 449.15,434.9 C450.78,431.79 452.41,428.58 454.04,425.28 C455.67,421.97 457.29,418.56 458.92,415.06 C460.55,411.56 462.18,407.96 463.81,404.27 C465.44,400.58 467.07,396.79 468.69,392.92 C470.32,389.05 471.95,385.09 473.58,381.04 C475.21,376.99 477.65,370.71 478.47,368.64" stroke="#ff22ff" stroke-width="0.8" fill="none"/>
<path d="M400.61,487.3 C401.37,487.04 403.67,486.52 405.19,485.73 C406.72,484.94 408.25,483.8 409.77,482.54 C411.3,481.29 412.83,479.81 414.35,478.2 C415.88,476.59 417.41,474.8 418.93,472.88 C420.46,470.96 421.99,468.89 423.52,466.69 C425.04,464.5 426.57,462.16 428.1,459.71 C429.62,457.26 431.15,454.68 432.68,452 C434.2,449.31 435.73,446.5 437.26,443.59 C438.78,440.67 440.31,437.65 441.84,434.52 C443.36,431.4 444.89,428.16 446.42,424.83 C447.95,421.5 449.47,418.07 451,414.54 C452.53,411.01 454.05,407.39 455.58,403.67 C457.11,399.95 458.63,396.14 460.16,392.24 C461.69,388.34 463.21,384.35 464.74,380.28 C466.27,376.2 468.56,369.87 469.32,367.79" stroke="#ff22ff" stroke-width="0.8" fill="none"/>
<path d="M397.56,487.3 C398.28,487.04 400.43,486.52 401.86,485.72 C403.29,484.92 404.72,483.77 406.15,482.51 C407.58,481.24 409.01,479.75 410.44,478.13 C411.88,476.51 413.31,474.7 414.74,472.77 C416.17,470.84 417.6,468.74 419.03,466.53 C420.46,464.32 421.89,461.97 423.33,459.5 C424.76,457.03 426.19,454.43 427.62,451.72 C429.05,449.01 430.48,446.18 431.91,443.25 C433.34,440.31 434.78,437.26 436.21,434.11 C437.64,430.96 439.07,427.7 440.5,424.35 C441.93,420.99 443.36,417.53 444.79,413.98 C446.22,410.42 447.66,406.77 449.09,403.02 C450.52,399.28 451.95,395.44 453.38,391.51 C454.81,387.58 456.24,383.56 457.67,379.45 C459.11,375.34 461.25,368.96 461.97,366.86" stroke="#ff22ff" stroke-width="0.8" fill="none"/>
<path d="M397.56,487.3 C398.21,487.03 400.16,486.51 401.45,485.7 C402.75,484.89 404.05,483.73 405.35,482.44 C406.64,481.16 407.94,479.65 409.24,478.01 C410.53,476.37 411.83,474.54 413.13,472.58 C414.42,470.62 415.72,468.51 417.02,466.27 C418.31,464.02 419.61,461.64 420.91,459.14 C422.2,456.64 423.5,454.01 424.8,451.26 C426.1,448.52 427.39,445.65 428.69,442.68 C429.99,439.71 431.28,436.62 432.58,433.43 C433.88,430.24 435.17,426.93 436.47,423.53 C437.77,420.13 439.06,416.63 440.36,413.03 C441.66,409.43 442.95,405.73 444.25,401.94 C445.55,398.14 446.85,394.25 448.14,390.27 C449.44,386.29 450.74,382.22 452.03,378.06 C453.33,373.9 455.27,367.43 455.92,365.31" stroke="#ff22ff" stroke-width="0.8" fill="none"/>
<path d="M397.56,487.3 C398.16,487.03 399.93,486.5 401.12,485.68 C402.3,484.86 403.49,483.68 404.67,482.38 C405.86,481.08 407.04,479.55 408.22,477.89 C409.41,476.22 410.59,474.37 411.78,472.39 C412.96,470.4 414.15,468.26 415.33,465.99 C416.52,463.72 417.7,461.3 418.89,458.77 C420.07,456.24 421.25,453.57 422.44,450.79 C423.62,448.01 424.81,445.1 425.99,442.09 C427.18,439.08 428.36,435.95 429.55,432.72 C430.73,429.49 431.92,426.14 433.1,422.7 C434.28,419.25 435.47,415.7 436.65,412.05 C437.84,408.41 439.02,404.66 440.21,400.81 C441.39,396.97 442.58,393.03 443.76,389 C444.94,384.96 446.13,380.84 447.31,376.62 C448.5,372.41 450.28,365.86 450.87,363.7" stroke="#ff22ff" stroke-width="0.8" fill="none"/>
<path d="M397.56,487.3 C398.11,487.03 399.74,486.49 400.83,485.66 C401.92,484.82 403.01,483.63 404.1,482.31 C405.19,481 406.28,479.45 407.37,477.76 C408.46,476.07 409.54,474.2 410.63,472.19 C411.72,470.18 412.81,468 413.9,465.7 C414.99,463.4 416.08,460.95 417.17,458.39 C418.26,455.82 419.35,453.12 420.44,450.3 C421.53,447.48 422.61,444.54 423.7,441.49 C424.79,438.43 425.88,435.26 426.97,431.99 C428.06,428.71 429.15,425.32 430.24,421.83 C431.33,418.34 432.42,414.74 433.51,411.04 C434.6,407.35 435.68,403.55 436.77,399.65 C437.86,395.76 438.95,391.76 440.04,387.68 C441.13,383.59 442.22,379.41 443.31,375.14 C444.4,370.87 446.03,364.23 446.58,362.05" stroke="#ff22ff" stroke-width="0.8" fill="none"/>
<path d="M397.56,487.3 C398.07,487.02 399.58,486.48 400.59,485.63 C401.59,484.79 402.6,483.58 403.61,482.25 C404.61,480.91 405.62,479.34 406.63,477.63 C407.64,475.92 408.64,474.02 409.65,471.98 C410.66,469.94 411.66,467.74 412.67,465.41 C413.68,463.08 414.69,460.59 415.69,457.99 C416.7,455.39 417.71,452.65 418.72,449.79 C419.72,446.94 420.73,443.96 421.74,440.86 C422.74,437.77 423.75,434.55 424.76,431.23 C425.77,427.91 426.77,424.47 427.78,420.94 C428.79,417.4 429.79,413.75 430.8,410 C431.81,406.26 432.82,402.4 433.82,398.46 C434.83,394.51 435.84,390.46 436.84,386.32 C437.85,382.18 438.86,377.94 439.87,373.61 C440.87,369.27 442.38,362.55 442.89,360.34" stroke="#ff22ff" stroke-width="0.8" fill="none"/>
<path d="M397.56,487.3 C398.03,487.02 399.44,486.46 400.37,485.61 C401.31,484.76 402.24,483.53 403.18,482.18 C404.12,480.82 405.05,479.23 405.99,477.5 C406.92,475.76 407.86,473.83 408.8,471.77 C409.73,469.7 410.67,467.47 411.6,465.1 C412.54,462.74 413.48,460.22 414.41,457.58 C415.35,454.95 416.28,452.17 417.22,449.27 C418.16,446.38 419.09,443.35 420.03,440.21 C420.96,437.08 421.9,433.82 422.84,430.45 C423.77,427.08 424.71,423.6 425.64,420.01 C426.58,416.42 427.52,412.72 428.45,408.93 C429.39,405.13 430.32,401.22 431.26,397.22 C432.2,393.22 433.13,389.11 434.07,384.91 C435,380.71 435.94,376.41 436.88,372.02 C437.81,367.63 439.22,360.81 439.68,358.57" stroke="#ff22ff" stroke-width="0.8" fill="none"/>
<path d="M397.56,487.3 C398,487.01 399.31,486.45 400.18,485.59 C401.06,484.72 401.93,483.47 402.81,482.1 C403.68,480.73 404.55,479.12 405.43,477.36 C406.3,475.6 407.17,473.64 408.05,471.55 C408.92,469.45 409.79,467.19 410.67,464.79 C411.54,462.39 412.42,459.84 413.29,457.16 C414.16,454.49 415.04,451.67 415.91,448.73 C416.78,445.8 417.66,442.73 418.53,439.55 C419.4,436.36 420.28,433.06 421.15,429.64 C422.02,426.23 422.9,422.69 423.77,419.06 C424.65,415.42 425.52,411.67 426.39,407.81 C427.27,403.96 428.14,400 429.01,395.94 C429.89,391.88 430.76,387.72 431.63,383.46 C432.51,379.2 433.38,374.84 434.25,370.38 C435.13,365.93 436.44,359.01 436.88,356.74" stroke="#ff22ff" stroke-width="0.8" fill="none"/>
<path d="M397.56,487.3 C397.97,487.01 399.2,486.44 400.02,485.56 C400.84,484.68 401.66,483.42 402.47,482.03 C403.29,480.64 404.11,479 404.93,477.21 C405.75,475.43 406.57,473.44 407.39,471.32 C408.2,469.19 409.02,466.89 409.84,464.46 C410.66,462.03 411.48,459.44 412.3,456.73 C413.11,454.01 413.93,451.15 414.75,448.17 C415.57,445.19 416.39,442.08 417.21,438.85 C418.02,435.63 418.84,432.27 419.66,428.81 C420.48,425.34 421.3,421.76 422.12,418.07 C422.94,414.38 423.75,410.57 424.57,406.66 C425.39,402.75 426.21,398.73 427.03,394.62 C427.85,390.5 428.66,386.27 429.48,381.95 C430.3,377.63 431.12,373.21 431.94,368.69 C432.76,364.17 433.98,357.15 434.39,354.85" stroke="#ff22ff" stroke-width="0.8" fill="none"/>
<path d="M397.56,487.3 C397.95,487.01 399.1,486.43 399.87,485.54 C400.64,484.64 401.41,483.36 402.18,481.95 C402.95,480.54 403.72,478.88 404.49,477.07 C405.26,475.25 406.03,473.24 406.8,471.08 C407.57,468.93 408.33,466.59 409.1,464.12 C409.87,461.66 410.64,459.03 411.41,456.27 C412.18,453.52 412.95,450.62 413.72,447.59 C414.49,444.57 415.26,441.41 416.03,438.14 C416.8,434.86 417.57,431.46 418.34,427.94 C419.1,424.43 419.87,420.79 420.64,417.04 C421.41,413.3 422.18,409.44 422.95,405.47 C423.72,401.5 424.49,397.42 425.26,393.25 C426.03,389.07 426.8,384.78 427.57,380.39 C428.34,376.01 429.11,371.52 429.87,366.94 C430.64,362.35 431.8,355.23 432.18,352.89" stroke="#ff22ff" stroke-width="0.8" fill="none"/>
<path d="M397.56,487.3 C397.93,487 399.01,486.41 399.74,485.51 C400.47,484.6 401.19,483.3 401.92,481.87 C402.64,480.44 403.37,478.75 404.09,476.91 C404.82,475.07 405.54,473.03 406.27,470.84 C406.99,468.65 407.72,466.28 408.44,463.77 C409.17,461.27 409.89,458.6 410.62,455.81 C411.34,453.01 412.07,450.06 412.8,447 C413.52,443.93 414.25,440.72 414.97,437.4 C415.7,434.07 416.42,430.62 417.15,427.05 C417.87,423.48 418.6,419.78 419.32,415.98 C420.05,412.18 420.77,408.26 421.5,404.23 C422.22,400.21 422.95,396.07 423.67,391.83 C424.4,387.58 425.13,383.23 425.85,378.78 C426.58,374.33 427.3,369.77 428.03,365.12 C428.75,360.47 429.84,353.24 430.2,350.86" stroke="#ff22ff" stroke-width="0.8" fill="none"/>
<path d="M397.56,487.3 C397.91,487 398.94,486.4 399.62,485.48 C400.31,484.56 400.99,483.24 401.68,481.79 C402.36,480.33 403.05,478.62 403.73,476.75 C404.42,474.88 405.11,472.81 405.79,470.58 C406.48,468.36 407.16,465.96 407.85,463.41 C408.53,460.87 409.22,458.16 409.91,455.32 C410.59,452.48 411.28,449.49 411.96,446.37 C412.65,443.26 413.33,440 414.02,436.63 C414.71,433.25 415.39,429.74 416.08,426.12 C416.76,422.49 417.45,418.75 418.13,414.88 C418.82,411.02 419.5,407.04 420.19,402.95 C420.88,398.87 421.56,394.66 422.25,390.36 C422.93,386.05 423.62,381.63 424.3,377.11 C424.99,372.59 425.68,367.96 426.36,363.24 C427.05,358.51 428.08,351.17 428.42,348.76" stroke="#ff22ff" stroke-width="0.8" fill="none"/>
<path d="M397.56,487.3 C397.89,486.99 398.86,486.39 399.51,485.45 C400.16,484.52 400.81,483.18 401.46,481.7 C402.11,480.22 402.76,478.48 403.41,476.58 C404.06,474.69 404.71,472.58 405.36,470.32 C406.01,468.06 406.66,465.62 407.31,463.04 C407.96,460.45 408.61,457.7 409.26,454.82 C409.91,451.93 410.56,448.9 411.21,445.73 C411.86,442.57 412.51,439.26 413.16,435.83 C413.81,432.4 414.46,428.84 415.11,425.16 C415.76,421.48 416.41,417.67 417.06,413.75 C417.71,409.82 418.36,405.78 419,401.63 C419.65,397.48 420.3,393.21 420.95,388.83 C421.6,384.46 422.25,379.97 422.9,375.38 C423.55,370.79 424.2,366.09 424.85,361.29 C425.5,356.49 426.48,349.03 426.8,346.58" stroke="#ff22ff" stroke-width="0.8" fill="none"/>
<path d="M397.56,487.3 C397.87,486.99 398.8,486.37 399.42,485.42 C400.03,484.47 400.65,483.11 401.27,481.61 C401.88,480.11 402.5,478.34 403.12,476.41 C403.73,474.49 404.35,472.34 404.97,470.05 C405.59,467.75 406.2,465.27 406.82,462.65 C407.44,460.02 408.05,457.23 408.67,454.3 C409.29,451.37 409.9,448.28 410.52,445.06 C411.14,441.85 411.76,438.49 412.37,435 C412.99,431.52 413.61,427.9 414.22,424.16 C414.84,420.42 415.46,416.55 416.08,412.56 C416.69,408.58 417.31,404.47 417.93,400.25 C418.54,396.03 419.16,391.69 419.78,387.25 C420.39,382.8 421.01,378.24 421.63,373.58 C422.25,368.91 422.86,364.14 423.48,359.26 C424.1,354.39 425.02,346.81 425.33,344.32" stroke="#ff22ff" stroke-width="0.8" fill="none"/>
<path d="M397.56,487.3 C397.86,486.98 398.74,486.36 399.33,485.39 C399.91,484.43 400.5,483.04 401.09,481.52 C401.67,479.99 402.26,478.19 402.85,476.23 C403.44,474.28 404.02,472.1 404.61,469.77 C405.2,467.43 405.78,464.91 406.37,462.24 C406.96,459.57 407.55,456.73 408.13,453.75 C408.72,450.78 409.31,447.64 409.89,444.37 C410.48,441.1 411.07,437.69 411.66,434.14 C412.24,430.6 412.83,426.92 413.42,423.12 C414,419.32 414.59,415.39 415.18,411.34 C415.77,407.29 416.35,403.11 416.94,398.82 C417.53,394.53 418.11,390.13 418.7,385.61 C419.29,381.09 419.88,376.45 420.46,371.71 C421.05,366.97 421.64,362.12 422.22,357.16 C422.81,352.2 423.69,344.5 423.99,341.97" stroke="#ff22ff" stroke-width="0.8" fill="none"/>
<path d="M397.56,487.3 C397.84,486.98 398.68,486.34 399.24,485.36 C399.8,484.38 400.36,482.97 400.92,481.42 C401.48,479.87 402.04,478.04 402.6,476.05 C403.16,474.06 403.72,471.84 404.28,469.47 C404.84,467.1 405.4,464.53 405.96,461.82 C406.52,459.11 407.08,456.22 407.64,453.19 C408.2,450.16 408.76,446.97 409.32,443.65 C409.88,440.33 410.44,436.85 411,433.25 C411.56,429.65 412.12,425.91 412.68,422.05 C413.24,418.18 413.8,414.18 414.36,410.06 C414.92,405.95 415.48,401.7 416.04,397.34 C416.6,392.98 417.16,388.5 417.72,383.9 C418.28,379.31 418.83,374.59 419.39,369.77 C419.95,364.95 420.51,360.02 421.07,354.98 C421.63,349.94 422.47,342.11 422.75,339.54" stroke="#ff22ff" stroke-width="0.8" fill="none"/>
<path d="M397.56,487.3 C397.83,486.97 398.63,486.32 399.17,485.33 C399.7,484.33 400.24,482.9 400.77,481.32 C401.31,479.74 401.84,477.88 402.37,475.86 C402.91,473.83 403.44,471.58 403.98,469.17 C404.51,466.75 405.05,464.14 405.58,461.38 C406.12,458.62 406.65,455.69 407.19,452.61 C407.72,449.53 408.25,446.28 408.79,442.9 C409.32,439.52 409.86,435.99 410.39,432.33 C410.93,428.66 411.46,424.86 412,420.93 C412.53,416.99 413.07,412.93 413.6,408.74 C414.13,404.55 414.67,400.23 415.2,395.8 C415.74,391.36 416.27,386.8 416.81,382.13 C417.34,377.46 417.88,372.66 418.41,367.76 C418.95,362.86 419.48,357.84 420.01,352.71 C420.55,347.58 421.35,339.62 421.62,337" stroke="#ff22ff" stroke-width="0.8" fill="none"/>
<path d="M397.56,487.3 C397.82,486.97 398.59,486.31 399.1,485.29 C399.61,484.28 400.12,482.82 400.63,481.21 C401.14,479.61 401.65,477.72 402.16,475.65 C402.68,473.59 403.19,471.3 403.7,468.85 C404.21,466.39 404.72,463.74 405.23,460.93 C405.74,458.12 406.25,455.13 406.77,452 C407.28,448.86 407.79,445.56 408.3,442.12 C408.81,438.68 409.32,435.09 409.83,431.36 C410.34,427.64 410.86,423.76 411.37,419.76 C411.88,415.76 412.39,411.62 412.9,407.36 C413.41,403.1 413.92,398.71 414.43,394.19 C414.95,389.68 415.46,385.04 415.97,380.28 C416.48,375.53 416.99,370.65 417.5,365.66 C418.01,360.67 418.52,355.57 419.04,350.35 C419.55,345.13 420.31,337.03 420.57,334.37" stroke="#ff22ff" stroke-width="0.8" fill="none"/>
<path d="M397.56,487.3 C397.81,486.96 398.54,486.29 399.03,485.26 C399.52,484.22 400.01,482.74 400.5,481.1 C400.99,479.47 401.48,477.54 401.97,475.45 C402.46,473.35 402.95,471.01 403.44,468.52 C403.93,466.02 404.42,463.32 404.91,460.46 C405.4,457.6 405.89,454.56 406.38,451.36 C406.87,448.17 407.36,444.81 407.85,441.31 C408.34,437.81 408.83,434.15 409.31,430.36 C409.8,426.57 410.29,422.62 410.78,418.55 C411.27,414.48 411.76,410.27 412.25,405.93 C412.74,401.59 413.23,397.12 413.72,392.52 C414.21,387.93 414.7,383.21 415.19,378.37 C415.68,373.52 416.17,368.56 416.66,363.48 C417.15,358.4 417.64,353.2 418.13,347.89 C418.62,342.58 419.35,334.34 419.6,331.62" stroke="#ff22ff" stroke-width="0.8" fill="none"/>
<path d="M397.56,487.3 C397.8,486.95 398.5,486.27 398.97,485.22 C399.44,484.17 399.91,482.66 400.38,480.99 C400.85,479.33 401.32,477.36 401.79,475.23 C402.26,473.09 402.73,470.72 403.2,468.17 C403.67,465.63 404.14,462.88 404.61,459.96 C405.08,457.05 405.55,453.95 406.02,450.71 C406.49,447.46 406.96,444.03 407.42,440.47 C407.89,436.9 408.36,433.18 408.83,429.31 C409.3,425.45 409.77,421.44 410.24,417.29 C410.71,413.14 411.18,408.85 411.65,404.43 C412.12,400.02 412.59,395.46 413.06,390.78 C413.53,386.11 414,381.29 414.47,376.37 C414.94,371.44 415.41,366.38 415.88,361.21 C416.35,356.04 416.82,350.74 417.29,345.34 C417.75,339.93 418.46,331.53 418.69,328.77" stroke="#ff22ff" stroke-width="0.8" fill="none"/>
<path d="M397.56,487.3 C397.79,486.95 398.47,486.25 398.92,485.18 C399.37,484.11 399.82,482.57 400.27,480.87 C400.72,479.18 401.17,477.18 401.62,475 C402.07,472.83 402.52,470.4 402.97,467.81 C403.43,465.22 403.88,462.42 404.33,459.45 C404.78,456.49 405.23,453.33 405.68,450.02 C406.13,446.71 406.58,443.22 407.03,439.59 C407.48,435.96 407.93,432.16 408.38,428.23 C408.84,424.29 409.29,420.2 409.74,415.97 C410.19,411.75 410.64,407.38 411.09,402.88 C411.54,398.38 411.99,393.74 412.44,388.97 C412.89,384.2 413.34,379.3 413.79,374.28 C414.25,369.26 414.7,364.11 415.15,358.84 C415.6,353.57 416.05,348.18 416.5,342.67 C416.95,337.16 417.63,328.6 417.85,325.79" stroke="#ff22ff" stroke-width="0.8" fill="none"/>
<path d="M396.41,487.66 H677.5" stroke="#22aaaa" stroke-width="1.2"/>
<path d="M391.4,380.5 L413.35,380.5 L397.1,487.3 L391.4,487.3Z" fill="#ff00ff"/>
<defs><linearGradient id="gFadeMu" gradientUnits="userSpaceOnUse" x1="412.54" y1="0" x2="424.06" y2="0"><stop offset="0" stop-color="#ff00ff"/><stop offset="0.5" stop-color="#e050f0" stop-opacity="0.7"/><stop offset="1" stop-color="#f0a0f8" stop-opacity="0.15"/></linearGradient></defs>
<path d="M412.54,380.5 L424.06,380.5 L403.32,487.3 L396.41,487.3Z" fill="url(#gFadeMu)"/>
<path d="M397.1,487.3 Q409.11,458.78 413.69,376.79" stroke="#ff44ff" stroke-width="0.5" fill="none"/>
<path d="M397.1,487.3 Q409.41,458.78 414.08,376.79" stroke="#9a50d8" stroke-width="0.5" fill="none"/>
<path d="M397.1,487.3 Q409.7,458.78 414.48,376.79" stroke="#ff44ff" stroke-width="0.5" fill="none"/>
<path d="M397.1,487.3 Q409.99,458.78 414.87,376.79" stroke="#9a50d8" stroke-width="0.5" fill="none"/>
<path d="M397.1,487.3 Q410.29,458.78 415.26,376.79" stroke="#ff44ff" stroke-width="0.5" fill="none"/>
<path d="M397.1,487.3 Q410.58,458.78 415.65,376.79" stroke="#9a50d8" stroke-width="0.5" fill="none"/>
<path d="M397.1,487.3 Q410.88,458.78 416.04,376.79" stroke="#ff44ff" stroke-width="0.5" fill="none"/>
<path d="M397.1,487.3 Q411.17,458.78 416.43,376.79" stroke="#9a50d8" stroke-width="0.5" fill="none"/>
<path d="M397.1,487.3 Q411.46,458.78 416.83,376.79" stroke="#ff44ff" stroke-width="0.5" fill="none"/>
<path d="M397.1,487.3 Q411.76,458.78 417.22,376.79" stroke="#9a50d8" stroke-width="0.5" fill="none"/>
<path d="M397.1,487.3 Q412.05,458.78 417.61,376.79" stroke="#ff44ff" stroke-width="0.5" fill="none"/>
<path d="M397.1,487.3 Q412.34,458.78 418,376.79" stroke="#9a50d8" stroke-width="0.5" fill="none"/>
<path d="M397.1,487.3 Q412.64,458.78 418.39,376.79" stroke="#ff44ff" stroke-width="0.5" fill="none"/>
<path d="M397.1,487.3 Q412.93,458.78 418.78,376.79" stroke="#9a50d8" stroke-width="0.5" fill="none"/>
<path d="M397.1,487.3 Q413.23,458.78 419.18,376.79" stroke="#ff44ff" stroke-width="0.5" fill="none"/>
<path d="M397.1,487.3 Q413.52,458.78 419.57,376.79" stroke="#9a50d8" stroke-width="0.5" fill="none"/>
<path d="M397.1,487.3 Q413.81,458.78 419.96,376.79" stroke="#ff44ff" stroke-width="0.5" fill="none"/>
<path d="M397.1,487.3 Q414.11,458.78 420.35,376.79" stroke="#9a50d8" stroke-width="0.5" fill="none"/>
<path d="M397.1,487.3 Q414.4,458.78 420.74,376.79" stroke="#ff44ff" stroke-width="0.5" fill="none"/>
<path d="M397.1,487.3 Q414.69,458.78 421.13,376.79" stroke="#9a50d8" stroke-width="0.5" fill="none"/>
<path d="M397.1,487.3 Q414.99,458.78 421.53,376.79" stroke="#ff44ff" stroke-width="0.5" fill="none"/>
<path d="M397.1,487.3 Q415.28,458.78 421.92,376.79" stroke="#9a50d8" stroke-width="0.5" fill="none"/>
<path d="M397.1,487.3 Q415.58,458.78 422.31,376.79" stroke="#ff44ff" stroke-width="0.5" fill="none"/>
<path d="M397.1,487.3 Q415.87,458.78 422.7,376.79" stroke="#9a50d8" stroke-width="0.5" fill="none"/>
<path d="M397.1,487.3 Q416.16,458.78 423.09,376.79" stroke="#ff44ff" stroke-width="0.5" fill="none"/>
<path d="M397.1,487.3 Q416.46,458.78 423.48,376.79" stroke="#9a50d8" stroke-width="0.5" fill="none"/>
<path d="M393.19,519.38 C400.25,517.66 419.68,512.91 435.58,509.05 C451.48,505.18 471.56,500.49 488.57,496.21 C505.58,491.93 519.6,489.32 537.65,483.38 C555.7,477.44 573.17,469.59 596.86,460.56 C620.55,451.53 665.98,434.42 679.8,429.19" stroke="#ff22ff" stroke-width="0.8" fill="none"/>
<path d="M393.19,519.38 C398.33,517.84 414.02,513.03 424.06,510.12 C434.1,507.2 440.84,504.29 453.44,501.92 C466.03,499.54 485.6,497.88 499.63,495.86 C513.67,493.84 521.44,493.36 537.65,489.8 C553.85,486.23 573.17,481.89 596.86,474.47 C620.55,467.04 665.98,450.11 679.8,445.23" stroke="#ff22ff" stroke-width="0.8" fill="none"/>
<path d="M475.9,497.28 C479.86,496.63 487.15,494.91 499.63,493.36 C512.11,491.82 531.89,490.27 550.78,488.01 C569.67,485.76 591.48,484.27 612.99,479.81 C634.49,475.36 668.67,464.37 679.8,461.28" stroke="#ff22ff" stroke-width="0.75" fill="none"/>
<path d="M527.74,495.86 C535.42,495.08 558.46,492.59 573.82,491.22 C589.18,489.85 602.24,488.55 619.9,487.66 C637.56,486.77 669.82,486.17 679.8,485.87" stroke="#ff22ff" stroke-width="0.7" fill="none"/>
<path d="M418.3,629.54 H677.5" stroke="#ff22ff" stroke-width="0.8"/>
<path d="M418.3,612.08 L683.26,551.22" stroke="#ff22ff" stroke-width="0.75" fill="none"/>
<path d="M418.3,619.21 L683.26,577.3" stroke="#ff22ff" stroke-width="0.75" fill="none"/>
<path d="M418.3,620.99 L683.26,603.5" stroke="#ff22ff" stroke-width="0.75" fill="none"/>
<path d="M417.15,592.11 C417.61,591.13 418.99,588.21 419.91,586.26 C420.83,584.31 421.76,582.36 422.68,580.41 C423.6,578.47 424.52,576.52 425.44,574.57 C426.36,572.62 428.44,570.46 428.21,568.72 C427.98,566.98 423.6,565.1 424.06,564.13 C424.52,563.15 428.86,562.28 430.97,562.88 C433.08,563.48 434.43,563.37 436.73,567.74 C439.04,572.1 441.92,577.99 444.8,589.06 C447.68,600.13 450.56,612.07 454.01,634.18 C457.47,656.29 463.61,707.11 465.53,721.7" stroke="#ff22ff" stroke-width="0.75" fill="none"/>
<path d="M417.15,599.47 C417.8,598.2 419.76,594.38 421.06,591.83 C422.37,589.29 423.68,586.74 424.98,584.19 C426.29,581.65 427.59,579.1 428.9,576.55 C430.2,574.01 432.66,571.25 432.82,568.91 C432.97,566.57 429.17,563.79 429.82,562.52 C430.47,561.25 434.62,560.8 436.73,561.27 C438.84,561.75 440.19,561.74 442.49,565.37 C444.8,568.99 447.68,573.88 450.56,583.04 C453.44,592.2 456.32,602.07 459.77,620.32 C463.23,638.56 469.37,680.48 471.29,692.52" stroke="#ff22ff" stroke-width="0.75" fill="none"/>
<path d="M417.15,605.7 C417.99,604.16 420.53,599.56 422.22,596.49 C423.91,593.42 425.6,590.36 427.29,587.29 C428.98,584.22 430.66,581.15 432.35,578.08 C434.04,575.01 436.89,571.74 437.42,568.88 C437.96,566.01 434.74,562.45 435.58,560.92 C436.42,559.38 440.38,559.29 442.49,559.67 C444.6,560.05 445.95,560.11 448.25,563.2 C450.56,566.28 453.44,570.44 456.32,578.19 C459.2,585.94 462.08,594.29 465.53,609.69 C468.99,625.1 475.13,660.46 477.05,670.62" stroke="#ff22ff" stroke-width="0.75" fill="none"/>
<path d="M417.15,611.05 C418.18,609.29 421.3,603.99 423.37,600.46 C425.44,596.92 427.52,593.39 429.59,589.86 C431.66,586.33 433.74,582.79 435.81,579.26 C437.88,575.73 441.11,571.99 442.03,568.66 C442.95,565.34 440.3,561.08 441.34,559.31 C442.38,557.55 446.14,557.76 448.25,558.07 C450.36,558.37 451.71,558.49 454.01,561.16 C456.32,563.84 459.2,567.44 462.08,574.11 C464.96,580.79 467.84,587.98 471.29,601.22 C474.75,614.46 478.59,629.86 482.81,653.56 C487.04,677.27 494.33,728.46 496.64,743.44" stroke="#ff22ff" stroke-width="0.75" fill="none"/>
<path d="M417.15,615.72 C418.38,613.75 422.06,607.82 424.52,603.87 C426.98,599.92 429.44,595.97 431.89,592.02 C434.35,588.07 436.81,584.12 439.27,580.17 C441.72,576.22 445.33,572.06 446.64,568.31 C447.94,564.57 445.87,559.68 447.1,557.71 C448.33,555.73 451.9,556.21 454.01,556.46 C456.12,556.71 457.47,556.87 459.77,559.22 C462.08,561.58 464.96,564.74 467.84,570.58 C470.72,576.42 473.6,582.7 477.05,594.25 C480.51,605.8 484.35,619.23 488.57,639.88 C492.8,660.53 500.09,705.12 502.4,718.16" stroke="#ff22ff" stroke-width="0.75" fill="none"/>
<path d="M417.15,619.84 C418.57,617.68 422.83,611.18 425.67,606.84 C428.51,602.51 431.36,598.18 434.2,593.85 C437.04,589.52 439.88,585.18 442.72,580.85 C445.56,576.52 449.56,571.98 451.25,567.85 C452.94,563.73 451.44,558.27 452.86,556.1 C454.28,553.94 457.66,554.65 459.77,554.86 C461.88,555.06 463.23,555.26 465.53,557.35 C467.84,559.45 470.72,562.26 473.6,567.43 C476.48,572.6 479.36,578.15 482.81,588.35 C486.27,598.55 490.11,610.4 494.33,628.62 C498.56,646.83 505.85,686.13 508.16,697.63" stroke="#ff22ff" stroke-width="0.75" fill="none"/>
<path d="M417.15,623.5 C418.76,621.16 423.6,614.14 426.82,609.45 C430.05,604.77 433.28,600.09 436.5,595.4 C439.73,590.72 442.95,586.04 446.18,581.35 C449.4,576.67 453.78,571.78 455.86,567.3 C457.93,562.83 457.01,556.84 458.62,554.5 C460.23,552.16 463.42,553.08 465.53,553.25 C467.64,553.42 468.99,553.64 471.29,555.53 C473.6,557.41 476.48,559.95 479.36,564.57 C482.24,569.19 485.12,574.16 488.57,583.25 C492.03,592.35 495.87,602.92 500.09,619.15 C504.32,635.38 511.61,670.37 513.92,680.61" stroke="#ff22ff" stroke-width="0.75" fill="none"/>
<path d="M417.15,626.78 C418.95,624.28 424.37,616.76 427.98,611.76 C431.59,606.75 435.2,601.74 438.81,596.73 C442.42,591.72 446.02,586.71 449.63,581.7 C453.24,576.69 458.01,571.48 460.46,566.67 C462.92,561.87 462.58,555.4 464.38,552.9 C466.18,550.39 469.18,551.51 471.29,551.65 C473.4,551.79 474.75,552.03 477.05,553.74 C479.36,555.46 482.24,557.75 485.12,561.92 C488,566.09 490.88,570.57 494.33,578.76 C497.79,586.94 501.63,596.46 505.85,611.04 C510.08,625.63 514.68,642.53 519.68,666.26 C524.67,689.99 533.12,738.89 535.8,753.41" stroke="#ff22ff" stroke-width="0.75" fill="none"/>
<path d="M417.15,629.74 C419.14,627.08 425.14,619.11 429.13,613.8 C433.12,608.48 437.12,603.17 441.11,597.86 C445.1,592.55 449.1,587.23 453.09,581.92 C457.08,576.61 462.23,571.09 465.07,565.98 C467.91,560.88 468.14,553.95 470.14,551.29 C472.14,548.64 474.94,549.93 477.05,550.04 C479.16,550.16 480.51,550.42 482.81,551.99 C485.12,553.55 488,555.65 490.88,559.44 C493.76,563.24 496.64,567.31 500.09,574.73 C503.55,582.15 507.39,590.78 511.61,603.98 C515.84,617.19 520.44,632.5 525.44,653.97 C530.43,675.44 538.88,719.67 541.56,732.81" stroke="#ff22ff" stroke-width="0.75" fill="none"/>
<path d="M417.15,634.02 C419.34,631.22 425.9,622.82 430.28,617.22 C434.66,611.62 439.04,606.02 443.41,600.43 C447.79,594.83 452.17,589.23 456.55,583.63 C460.92,578.03 466.45,572.23 469.68,566.84 C472.9,561.45 473.71,554.09 475.9,551.29 C478.09,548.49 480.7,549.95 482.81,550.04 C484.92,550.14 486.27,550.42 488.57,551.86 C490.88,553.3 493.76,555.24 496.64,558.7 C499.52,562.17 502.4,565.9 505.85,572.68 C509.31,579.45 513.15,587.32 517.37,599.36 C521.6,611.4 526.2,625.35 531.2,644.91 C536.19,664.46 544.64,704.73 547.32,716.69" stroke="#ff22ff" stroke-width="0.75" fill="none"/>
<path d="M417.15,638.05 C419.53,635.12 426.67,626.32 431.43,620.45 C436.19,614.58 440.96,608.72 445.72,602.85 C450.48,596.98 455.24,591.11 460,585.25 C464.76,579.38 470.68,573.3 474.29,567.65 C477.9,561.99 479.28,554.23 481.66,551.29 C484.04,548.36 486.46,549.97 488.57,550.04 C490.68,550.12 492.03,550.41 494.33,551.75 C496.64,553.09 499.52,554.88 502.4,558.07 C505.28,561.26 508.16,564.69 511.61,570.91 C515.07,577.14 518.91,584.36 523.13,595.4 C527.36,606.44 531.96,619.23 536.96,637.14 C541.95,655.06 550.4,691.93 553.08,702.89" stroke="#ff22ff" stroke-width="0.75" fill="none"/>
<path d="M417.15,641.87 C419.72,638.81 427.44,629.63 432.58,623.51 C437.73,617.39 442.88,611.26 448.02,605.14 C453.17,599.02 458.31,592.9 463.46,586.78 C468.6,580.65 474.9,574.32 478.9,568.41 C482.89,562.5 484.85,554.35 487.42,551.29 C489.99,548.23 492.22,549.98 494.33,550.04 C496.44,550.1 497.79,550.41 500.09,551.65 C502.4,552.9 505.28,554.57 508.16,557.52 C511.04,560.48 513.92,563.65 517.37,569.39 C520.83,575.13 524.67,581.8 528.89,591.97 C533.12,602.15 537.72,613.93 542.72,630.43 C547.71,646.93 556.16,680.87 558.84,690.95" stroke="#ff22ff" stroke-width="0.75" fill="none"/>
<path d="M417.15,645.51 C419.91,642.33 428.21,632.78 433.74,626.42 C439.27,620.05 444.8,613.69 450.33,607.32 C455.86,600.96 461.38,594.59 466.91,588.23 C472.44,581.87 479.13,575.29 483.5,569.14 C487.88,562.98 490.42,554.47 493.18,551.29 C495.94,548.11 497.98,550 500.09,550.04 C502.2,550.09 503.55,550.4 505.85,551.57 C508.16,552.74 511.04,554.3 513.92,557.05 C516.8,559.79 519.68,562.74 523.13,568.07 C526.59,573.39 530.43,579.57 534.65,588.99 C538.88,598.41 543.48,609.32 548.48,624.58 C553.47,639.84 561.92,671.22 564.6,680.55" stroke="#ff22ff" stroke-width="0.75" fill="none"/>
<path d="M417.15,648.97 C420.1,645.68 428.98,635.78 434.89,629.19 C440.8,622.59 446.72,616 452.63,609.4 C458.54,602.81 464.46,596.21 470.37,589.62 C476.28,583.02 483.35,576.22 488.11,569.83 C492.87,563.44 495.98,554.59 498.94,551.29 C501.9,547.99 503.74,550.01 505.85,550.04 C507.96,550.08 509.31,550.4 511.61,551.5 C513.92,552.6 516.8,554.06 519.68,556.63 C522.56,559.19 525.44,561.94 528.89,566.9 C532.35,571.86 536.19,577.61 540.41,586.37 C544.64,595.12 549.24,605.27 554.24,619.44 C559.23,633.62 567.68,662.76 570.36,671.42" stroke="#ff22ff" stroke-width="0.75" fill="none"/>
<path d="M417.15,650.22 C420.72,646.91 431.43,636.96 438.58,630.33 C445.72,623.7 452.86,617.07 460,610.44 C467.14,603.8 474.29,597.17 481.43,590.54 C488.57,583.91 496.87,577.07 502.86,570.65 C508.85,564.23 513.8,555.32 517.37,552 C520.94,548.69 522.17,550.75 524.28,550.76 C526.4,550.76 527.74,551.11 530.04,552.03 C532.35,552.95 535.23,554.18 538.11,556.29 C540.99,558.4 543.87,560.66 547.32,564.7 C550.78,568.74 554.62,573.42 558.84,580.53 C563.07,587.63 567.68,595.85 572.67,607.31 C577.66,618.77 583.04,631.94 588.8,649.29 C594.56,666.65 604.16,701.08 607.23,711.44" stroke="#ff22ff" stroke-width="0.75" fill="none"/>
<path d="M417.15,657.21 C421.26,653.65 433.58,642.97 441.8,635.85 C450.02,628.73 458.24,621.61 466.45,614.48 C474.67,607.36 482.89,600.24 491.11,593.12 C499.32,586 508.69,578.67 515.76,571.76 C522.82,564.85 529.39,555.21 533.5,551.65 C537.61,548.09 538.3,550.42 540.41,550.4 C542.52,550.39 543.87,550.75 546.17,551.56 C548.48,552.37 551.36,553.45 554.24,555.27 C557.12,557.09 560,559.04 563.45,562.5 C566.91,565.96 570.75,569.97 574.97,576.03 C579.2,582.08 583.8,589.09 588.8,598.83 C593.79,608.58 599.16,619.77 604.92,634.5 C610.68,649.24 620.28,678.44 623.36,687.23" stroke="#ff22ff" stroke-width="0.75" fill="none"/>
<path d="M417.15,662.2 C421.79,658.46 435.73,647.24 445.03,639.77 C454.32,632.29 463.61,624.81 472.9,617.34 C482.2,609.86 491.49,602.38 500.78,594.91 C510.08,587.43 520.52,579.74 528.66,572.47 C536.8,565.21 544.98,555.03 549.63,551.29 C554.27,547.55 554.43,550.07 556.54,550.04 C558.65,550.01 560,550.39 562.3,551.11 C564.6,551.84 567.48,552.8 570.36,554.41 C573.24,556.01 576.12,557.72 579.58,560.74 C583.04,563.75 586.88,567.25 591.1,572.5 C595.32,577.76 599.93,583.83 604.92,592.27 C609.92,600.7 615.29,610.39 621.05,623.11 C626.81,635.84 632.96,650.33 639.48,668.63 C646.01,686.93 656.76,722.21 660.22,732.93" stroke="#ff22ff" stroke-width="0.75" fill="none"/>
<path d="M417.15,653.04 C423.94,649.46 444.34,638.73 457.93,631.58 C471.52,624.43 485.12,617.28 498.71,610.13 C512.3,602.98 525.9,595.83 539.49,588.67 C553.08,581.52 567.83,574.16 580.27,567.22 C592.71,560.28 607.34,550.59 614.14,547.01 C620.94,543.44 618.94,545.83 621.05,545.77 C623.16,545.7 624.51,546.1 626.81,546.63 C629.12,547.16 632,547.85 634.88,548.94 C637.76,550.02 640.64,551.18 644.09,553.15 C647.55,555.12 651.39,557.4 655.61,560.77 C659.84,564.14 664.44,568.03 669.44,573.38 C674.43,578.72 679.8,584.85 685.56,592.86 C691.32,600.86 697.47,609.96 704,621.41 C710.52,632.86 721.28,654.86 724.73,661.55" stroke="#ff22ff" stroke-width="0.75" fill="none"/>
<path d="M393.19,520.1 C393.44,520.18 393.72,520.26 394.68,520.56 C395.64,520.86 397.53,521.46 398.95,521.91 C400.37,522.36 401.79,522.82 403.22,523.28 C404.64,523.75 406.06,524.21 407.48,524.69 C408.9,525.16 410.33,525.64 411.75,526.12 C413.17,526.6 414.59,527.09 416.01,527.58 C417.43,528.07 418.86,528.57 420.28,529.07 C421.7,529.58 423.12,530.08 424.54,530.59 C425.97,531.11 427.39,531.62 428.81,532.14 C430.23,532.67 431.65,533.19 433.08,533.72 C434.5,534.26 435.92,534.79 437.34,535.33 C438.76,535.87 440.19,536.42 441.61,536.97 C443.03,537.52 444.45,538.08 445.87,538.64 C447.29,539.2 448.72,539.77 450.14,540.34 C451.56,540.91 452.98,541.48 454.4,542.06 C455.83,542.64 457.25,543.23 458.67,543.82 C460.09,544.41 461.51,545 462.94,545.6 C464.36,546.2 465.78,546.81 467.2,547.42 C468.62,548.03 470.05,548.64 471.47,549.26 C472.89,549.88 474.31,550.51 475.73,551.13 C477.15,551.76 478.58,552.4 480,553.04 C481.42,553.68 482.84,554.32 484.26,554.97 C485.69,555.62 487.11,556.27 488.53,556.93 C489.95,557.59 491.37,558.25 492.8,558.92 C494.22,559.59 495.64,560.26 497.06,560.94 C498.48,561.62 499.91,562.3 501.33,562.99 C502.75,563.68 504.17,564.37 505.59,565.07 C507.02,565.76 508.44,566.47 509.86,567.17 C511.28,567.88 512.7,568.59 514.12,569.31 C515.55,570.03 516.97,570.75 518.39,571.48 C519.81,572.2 521.23,572.94 522.66,573.67 C524.08,574.41 525.5,575.15 526.92,575.9 C528.34,576.64 529.77,577.4 531.19,578.15 C532.61,578.91 534.03,579.67 535.45,580.44 C536.88,581.2 538.3,581.97 539.72,582.75 C541.14,583.52 542.56,584.3 543.98,585.09 C545.41,585.88 546.83,586.67 548.25,587.46 C549.67,588.26 551.09,589.06 552.52,589.86 C553.94,590.67 555.36,591.48 556.78,592.29 C558.2,593.11 559.63,593.93 561.05,594.75 C562.47,595.58 563.89,596.41 565.31,597.24 C566.74,598.08 568.16,598.92 569.58,599.76 C571,600.6 572.42,601.45 573.85,602.31 C575.27,603.16 576.69,604.02 578.11,604.88 C579.53,605.75 580.95,606.62 582.38,607.49 C583.8,608.36 585.22,609.24 586.64,610.13 C588.06,611.01 589.49,611.9 590.91,612.79 C592.33,613.68 593.75,614.58 595.17,615.48 C596.6,616.39 598.02,617.3 599.44,618.21 C600.86,619.12 602.28,620.04 603.71,620.96 C605.13,621.88 606.55,622.81 607.97,623.74 C609.39,624.68 610.81,625.61 612.24,626.55 C613.66,627.5 615.08,628.44 616.5,629.4 C617.92,630.35 619.35,631.3 620.77,632.27 C622.19,633.23 623.61,634.19 625.03,635.17 C626.46,636.14 627.88,637.11 629.3,638.09 C630.72,639.08 632.14,640.06 633.57,641.05 C634.99,642.04 636.41,643.04 637.83,644.04 C639.25,645.04 640.67,646.05 642.1,647.06 C643.52,648.07 644.94,649.08 646.36,650.1 C647.78,651.12 649.21,652.15 650.63,653.18 C652.05,654.21 653.47,655.24 654.89,656.28 C656.32,657.32 657.74,658.37 659.16,659.42 C660.58,660.47 662,661.52 663.43,662.58 C664.85,663.64 666.27,664.7 667.69,665.77 C669.11,666.84 670.54,667.92 671.96,669 C673.38,670.07 674.8,671.16 676.22,672.25 C677.64,673.34 679.78,674.98 680.49,675.53" stroke="#ff22ff" stroke-width="0.7" fill="none"/>
<path d="M393.19,520.1 C393.44,520.19 393.72,520.29 394.68,520.66 C395.64,521.02 397.53,521.74 398.95,522.29 C400.37,522.85 401.79,523.41 403.22,523.98 C404.64,524.56 406.06,525.14 407.48,525.74 C408.9,526.33 410.33,526.93 411.75,527.55 C413.17,528.16 414.59,528.78 416.01,529.41 C417.43,530.05 418.86,530.69 420.28,531.34 C421.7,531.99 423.12,532.66 424.54,533.33 C425.97,534 427.39,534.68 428.81,535.37 C430.23,536.06 431.65,536.76 433.08,537.48 C434.5,538.19 435.92,538.91 437.34,539.64 C438.76,540.37 440.19,541.11 441.61,541.86 C443.03,542.61 444.45,543.37 445.87,544.14 C447.29,544.91 448.72,545.69 450.14,546.48 C451.56,547.26 452.98,548.06 454.4,548.87 C455.83,549.68 457.25,550.5 458.67,551.33 C460.09,552.16 461.51,552.99 462.94,553.84 C464.36,554.69 465.78,555.55 467.2,556.41 C468.62,557.28 470.05,558.16 471.47,559.04 C472.89,559.93 474.31,560.83 475.73,561.73 C477.15,562.64 478.58,563.56 480,564.48 C481.42,565.41 482.84,566.34 484.26,567.29 C485.69,568.24 487.11,569.19 488.53,570.16 C489.95,571.12 491.37,572.1 492.8,573.08 C494.22,574.07 495.64,575.06 497.06,576.06 C498.48,577.07 499.91,578.08 501.33,579.11 C502.75,580.13 504.17,581.16 505.59,582.21 C507.02,583.25 508.44,584.3 509.86,585.37 C511.28,586.43 512.7,587.5 514.12,588.58 C515.55,589.67 516.97,590.76 518.39,591.86 C519.81,592.96 521.23,594.07 522.66,595.19 C524.08,596.32 525.5,597.45 526.92,598.59 C528.34,599.73 529.77,600.88 531.19,602.04 C532.61,603.2 534.03,604.37 535.45,605.55 C536.88,606.73 538.3,607.92 539.72,609.12 C541.14,610.32 542.56,611.53 543.98,612.75 C545.41,613.97 546.83,615.2 548.25,616.44 C549.67,617.68 551.09,618.92 552.52,620.18 C553.94,621.44 555.36,622.71 556.78,623.99 C558.2,625.26 559.63,626.55 561.05,627.85 C562.47,629.15 563.89,630.45 565.31,631.77 C566.74,633.09 568.16,634.42 569.58,635.75 C571,637.09 572.42,638.43 573.85,639.79 C575.27,641.15 576.69,642.51 578.11,643.89 C579.53,645.26 580.95,646.65 582.38,648.04 C583.8,649.44 585.22,650.85 586.64,652.26 C588.06,653.67 589.49,655.1 590.91,656.53 C592.33,657.97 593.75,659.41 595.17,660.87 C596.6,662.32 598.02,663.78 599.44,665.26 C600.86,666.73 602.28,668.21 603.71,669.71 C605.13,671.2 607.26,673.46 607.97,674.21" stroke="#ff22ff" stroke-width="0.7" fill="none"/>
<path d="M393.19,520.1 C393.44,520.21 393.72,520.34 394.68,520.8 C395.64,521.26 397.53,522.16 398.95,522.86 C400.37,523.57 401.79,524.29 403.22,525.02 C404.64,525.76 406.06,526.51 407.48,527.28 C408.9,528.05 410.33,528.84 411.75,529.64 C413.17,530.44 414.59,531.26 416.01,532.09 C417.43,532.93 418.86,533.78 420.28,534.65 C421.7,535.51 423.12,536.4 424.54,537.3 C425.97,538.2 427.39,539.11 428.81,540.04 C430.23,540.98 431.65,541.92 433.08,542.89 C434.5,543.85 435.92,544.83 437.34,545.83 C438.76,546.83 440.19,547.84 441.61,548.87 C443.03,549.9 444.45,550.95 445.87,552.01 C447.29,553.07 448.72,554.15 450.14,555.25 C451.56,556.34 452.98,557.45 454.4,558.58 C455.83,559.71 457.25,560.85 458.67,562.01 C460.09,563.17 461.51,564.35 462.94,565.54 C464.36,566.74 465.78,567.95 467.2,569.17 C468.62,570.4 470.05,571.64 471.47,572.9 C472.89,574.15 474.31,575.43 475.73,576.72 C477.15,578.01 478.58,579.32 480,580.64 C481.42,581.96 482.84,583.3 484.26,584.66 C485.69,586.02 487.11,587.39 488.53,588.78 C489.95,590.16 491.37,591.57 492.8,592.99 C494.22,594.41 495.64,595.85 497.06,597.3 C498.48,598.76 499.91,600.23 501.33,601.71 C502.75,603.2 504.17,604.7 505.59,606.22 C507.02,607.74 508.44,609.27 509.86,610.82 C511.28,612.38 512.7,613.94 514.12,615.53 C515.55,617.11 516.97,618.71 518.39,620.33 C519.81,621.94 521.23,623.58 522.66,625.23 C524.08,626.87 525.5,628.54 526.92,630.22 C528.34,631.9 529.77,633.6 531.19,635.32 C532.61,637.03 534.03,638.76 535.45,640.51 C536.88,642.25 538.3,644.02 539.72,645.8 C541.14,647.58 542.56,649.37 543.98,651.18 C545.41,653 546.83,654.82 548.25,656.67 C549.67,658.51 551.09,660.38 552.52,662.25 C553.94,664.13 555.36,666.02 556.78,667.93 C558.2,669.84 560.34,672.75 561.05,673.71" stroke="#ff22ff" stroke-width="0.7" fill="none"/>
<path d="M393.19,520.1 C393.44,520.24 393.72,520.38 394.68,520.94 C395.64,521.5 397.53,522.59 398.95,523.45 C400.37,524.31 401.79,525.2 403.22,526.12 C404.64,527.03 406.06,527.97 407.48,528.94 C408.9,529.91 410.33,530.9 411.75,531.92 C413.17,532.94 414.59,533.98 416.01,535.05 C417.43,536.12 418.86,537.22 420.28,538.34 C421.7,539.47 423.12,540.62 424.54,541.79 C425.97,542.97 427.39,544.17 428.81,545.4 C430.23,546.62 431.65,547.88 433.08,549.16 C434.5,550.44 435.92,551.74 437.34,553.07 C438.76,554.41 440.19,555.76 441.61,557.15 C443.03,558.53 444.45,559.94 445.87,561.38 C447.29,562.81 448.72,564.28 450.14,565.76 C451.56,567.25 452.98,568.77 454.4,570.31 C455.83,571.85 457.25,573.41 458.67,575.01 C460.09,576.6 461.51,578.22 462.94,579.86 C464.36,581.51 465.78,583.18 467.2,584.87 C468.62,586.57 470.05,588.29 471.47,590.04 C472.89,591.79 474.31,593.56 475.73,595.37 C477.15,597.17 478.58,598.99 480,600.85 C481.42,602.7 482.84,604.58 484.26,606.48 C485.69,608.39 487.11,610.32 488.53,612.28 C489.95,614.24 491.37,616.22 492.8,618.23 C494.22,620.24 495.64,622.27 497.06,624.34 C498.48,626.4 499.91,628.49 501.33,630.6 C502.75,632.71 504.17,634.85 505.59,637.02 C507.02,639.19 508.44,641.38 509.86,643.6 C511.28,645.81 512.7,648.06 514.12,650.33 C515.55,652.6 516.97,654.9 518.39,657.22 C519.81,659.54 521.23,661.89 522.66,664.26 C524.08,666.64 525.5,669.04 526.92,671.46 C528.34,673.89 530.48,677.6 531.19,678.82" stroke="#ff22ff" stroke-width="0.7" fill="none"/>
<path d="M393.19,520.1 C393.44,520.25 393.72,520.41 394.68,521.04 C395.64,521.66 397.53,522.88 398.95,523.84 C400.37,524.81 401.79,525.81 403.22,526.85 C404.64,527.88 406.06,528.94 407.48,530.04 C408.9,531.14 410.33,532.27 411.75,533.44 C413.17,534.6 414.59,535.8 416.01,537.03 C417.43,538.25 418.86,539.52 420.28,540.81 C421.7,542.1 423.12,543.43 424.54,544.79 C425.97,546.15 427.39,547.54 428.81,548.96 C430.23,550.39 431.65,551.85 433.08,553.34 C434.5,554.82 435.92,556.35 437.34,557.9 C438.76,559.46 440.19,561.04 441.61,562.66 C443.03,564.28 444.45,565.94 445.87,567.62 C447.29,569.31 448.72,571.02 450.14,572.77 C451.56,574.52 452.98,576.31 454.4,578.12 C455.83,579.94 457.25,581.79 458.67,583.67 C460.09,585.55 461.51,587.46 462.94,589.41 C464.36,591.35 465.78,593.33 467.2,595.34 C468.62,597.35 470.05,599.39 471.47,601.47 C472.89,603.55 474.31,605.66 475.73,607.8 C477.15,609.94 478.58,612.11 480,614.32 C481.42,616.52 482.84,618.76 484.26,621.04 C485.69,623.31 487.11,625.61 488.53,627.95 C489.95,630.28 491.37,632.65 492.8,635.06 C494.22,637.46 495.64,639.89 497.06,642.36 C498.48,644.83 499.91,647.33 501.33,649.86 C502.75,652.39 504.17,654.96 505.59,657.55 C507.02,660.15 508.44,662.78 509.86,665.44 C511.28,668.11 513.41,672.18 514.12,673.53" stroke="#ff22ff" stroke-width="0.7" fill="none"/>
<path d="M393.19,520.1 C393.44,520.27 393.72,520.44 394.68,521.13 C395.64,521.82 397.53,523.16 398.95,524.24 C400.37,525.31 401.79,526.42 403.22,527.57 C404.64,528.73 406.06,529.92 407.48,531.15 C408.9,532.38 410.33,533.65 411.75,534.96 C413.17,536.26 414.59,537.61 416.01,539 C417.43,540.38 418.86,541.81 420.28,543.27 C421.7,544.74 423.12,546.24 424.54,547.79 C425.97,549.33 427.39,550.91 428.81,552.53 C430.23,554.15 431.65,555.81 433.08,557.51 C434.5,559.21 435.92,560.95 437.34,562.73 C438.76,564.51 440.19,566.32 441.61,568.18 C443.03,570.04 444.45,571.93 445.87,573.86 C447.29,575.8 448.72,577.77 450.14,579.78 C451.56,581.8 452.98,583.85 454.4,585.94 C455.83,588.03 457.25,590.16 458.67,592.33 C460.09,594.49 461.51,596.7 462.94,598.95 C464.36,601.2 465.78,603.48 467.2,605.81 C468.62,608.13 470.05,610.5 471.47,612.9 C472.89,615.3 474.31,617.75 475.73,620.23 C477.15,622.71 478.58,625.23 480,627.79 C481.42,630.35 482.84,632.95 484.26,635.59 C485.69,638.22 487.11,640.9 488.53,643.62 C489.95,646.33 491.37,649.09 492.8,651.88 C494.22,654.68 495.64,657.51 497.06,660.38 C498.48,663.26 499.91,666.17 501.33,669.12 C502.75,672.07 504.88,676.59 505.59,678.09" stroke="#ff22ff" stroke-width="0.7" fill="none"/>
<path d="M393.19,520.1 C393.44,520.29 393.72,520.48 394.68,521.25 C395.64,522.02 397.53,523.52 398.95,524.73 C400.37,525.93 401.79,527.19 403.22,528.49 C404.64,529.79 406.06,531.13 407.48,532.53 C408.9,533.92 410.33,535.36 411.75,536.85 C413.17,538.34 414.59,539.88 416.01,541.46 C417.43,543.05 418.86,544.68 420.28,546.36 C421.7,548.03 423.12,549.76 424.54,551.53 C425.97,553.31 427.39,555.13 428.81,556.99 C430.23,558.86 431.65,560.78 433.08,562.74 C434.5,564.7 435.92,566.71 437.34,568.76 C438.76,570.82 440.19,572.92 441.61,575.07 C443.03,577.23 444.45,579.42 445.87,581.67 C447.29,583.91 448.72,586.21 450.14,588.55 C451.56,590.89 452.98,593.27 454.4,595.71 C455.83,598.14 457.25,600.62 458.67,603.15 C460.09,605.68 461.51,608.26 462.94,610.88 C464.36,613.5 465.78,616.17 467.2,618.89 C468.62,621.61 470.05,624.37 471.47,627.19 C472.89,630 474.31,632.86 475.73,635.77 C477.15,638.67 478.58,641.63 480,644.63 C481.42,647.63 482.84,650.68 484.26,653.77 C485.69,656.87 487.11,660.01 488.53,663.2 C489.95,666.39 492.09,671.3 492.8,672.92" stroke="#ff22ff" stroke-width="0.7" fill="none"/>
<path d="M393.19,520.1 C393.44,520.31 393.72,520.52 394.68,521.37 C395.64,522.22 397.53,523.88 398.95,525.22 C400.37,526.55 401.79,527.95 403.22,529.4 C404.64,530.84 406.06,532.35 407.48,533.91 C408.9,535.47 410.33,537.08 411.75,538.75 C413.17,540.42 414.59,542.15 416.01,543.93 C417.43,545.71 418.86,547.55 420.28,549.44 C421.7,551.33 423.12,553.28 424.54,555.28 C425.97,557.28 427.39,559.34 428.81,561.45 C430.23,563.57 431.65,565.74 433.08,567.96 C434.5,570.18 435.92,572.46 437.34,574.8 C438.76,577.13 440.19,579.52 441.61,581.97 C443.03,584.42 444.45,586.92 445.87,589.47 C447.29,592.03 448.72,594.64 450.14,597.31 C451.56,599.98 452.98,602.7 454.4,605.48 C455.83,608.26 457.25,611.09 458.67,613.98 C460.09,616.87 461.51,619.81 462.94,622.81 C464.36,625.81 465.78,628.87 467.2,631.98 C468.62,635.09 470.05,638.25 471.47,641.47 C472.89,644.7 474.31,647.97 475.73,651.3 C477.15,654.64 478.58,658.02 480,661.47 C481.42,664.91 482.84,668.41 484.26,671.96 C485.69,675.52 487.82,680.98 488.53,682.79" stroke="#ff22ff" stroke-width="0.7" fill="none"/>
<path d="M393.19,520.1 C393.44,520.33 393.72,520.56 394.68,521.51 C395.64,522.47 397.53,524.31 398.95,525.81 C400.37,527.32 401.79,528.88 403.22,530.52 C404.64,532.15 406.06,533.85 407.48,535.62 C408.9,537.39 410.33,539.22 411.75,541.12 C413.17,543.02 414.59,544.99 416.01,547.03 C417.43,549.06 418.86,551.17 420.28,553.33 C421.7,555.5 423.12,557.74 424.54,560.04 C425.97,562.34 427.39,564.71 428.81,567.15 C430.23,569.58 431.65,572.09 433.08,574.66 C434.5,577.22 435.92,579.86 437.34,582.56 C438.76,585.27 440.19,588.04 441.61,590.87 C443.03,593.71 444.45,596.61 445.87,599.58 C447.29,602.55 448.72,605.59 450.14,608.7 C451.56,611.8 452.98,614.97 454.4,618.21 C455.83,621.45 457.25,624.75 458.67,628.12 C460.09,631.49 461.51,634.93 462.94,638.43 C464.36,641.94 465.78,645.51 467.2,649.15 C468.62,652.79 470.05,656.49 471.47,660.26 C472.89,664.04 474.31,667.88 475.73,671.78 C477.15,675.69 479.29,681.71 480,683.7" stroke="#ff22ff" stroke-width="0.7" fill="none"/>
<path d="M393.19,520.1 C393.44,520.36 393.72,520.6 394.68,521.66 C395.64,522.71 397.53,524.75 398.95,526.41 C400.37,528.08 401.79,529.82 403.22,531.64 C404.64,533.46 406.06,535.35 407.48,537.33 C408.9,539.31 410.33,541.36 411.75,543.49 C413.17,545.63 414.59,547.84 416.01,550.13 C417.43,552.42 418.86,554.78 420.28,557.23 C421.7,559.67 423.12,562.2 424.54,564.8 C425.97,567.4 427.39,570.08 428.81,572.84 C430.23,575.6 431.65,578.44 433.08,581.35 C434.5,584.27 435.92,587.26 437.34,590.33 C438.76,593.4 440.19,596.55 441.61,599.78 C443.03,603.01 444.45,606.31 445.87,609.7 C447.29,613.08 448.72,616.54 450.14,620.08 C451.56,623.62 452.98,627.24 454.4,630.94 C455.83,634.64 457.25,638.41 458.67,642.26 C460.09,646.12 461.51,650.05 462.94,654.06 C464.36,658.07 465.78,662.16 467.2,666.32 C468.62,670.49 470.76,676.93 471.47,679.05" stroke="#ff22ff" stroke-width="0.7" fill="none"/>
<path d="M393.19,520.1 C393.44,520.39 393.72,520.65 394.68,521.82 C395.64,523 397.53,525.26 398.95,527.13 C400.37,528.99 401.79,530.94 403.22,532.99 C404.64,535.04 406.06,537.19 407.48,539.43 C408.9,541.67 410.33,544 411.75,546.43 C413.17,548.86 414.59,551.38 416.01,554 C417.43,556.62 418.86,559.33 420.28,562.14 C421.7,564.94 423.12,567.84 424.54,570.84 C425.97,573.83 427.39,576.92 428.81,580.11 C430.23,583.29 431.65,586.57 433.08,589.95 C434.5,593.32 435.92,596.79 437.34,600.35 C438.76,603.91 440.19,607.57 441.61,611.32 C443.03,615.07 444.45,618.92 445.87,622.86 C447.29,626.8 448.72,630.83 450.14,634.96 C451.56,639.09 452.98,643.32 454.4,647.64 C455.83,651.95 457.25,656.37 458.67,660.88 C460.09,665.38 462.22,672.38 462.94,674.68" stroke="#ff22ff" stroke-width="0.7" fill="none"/>
<path d="M393.19,520.1 C393.44,520.41 393.72,520.7 394.68,521.99 C395.64,523.28 397.53,525.78 398.95,527.84 C400.37,529.9 401.79,532.07 403.22,534.35 C404.64,536.63 406.06,539.02 407.48,541.53 C408.9,544.03 410.33,546.64 411.75,549.37 C413.17,552.09 414.59,554.93 416.01,557.87 C417.43,560.82 418.86,563.87 420.28,567.04 C421.7,570.21 423.12,573.49 424.54,576.88 C425.97,580.27 427.39,583.77 428.81,587.38 C430.23,590.99 431.65,594.71 433.08,598.54 C434.5,602.37 435.92,606.32 437.34,610.37 C438.76,614.42 440.19,618.59 441.61,622.86 C443.03,627.14 444.45,631.53 445.87,636.02 C447.29,640.52 448.72,645.13 450.14,649.85 C451.56,654.56 452.98,659.39 454.4,664.33 C455.83,669.27 457.96,676.96 458.67,679.49" stroke="#ff22ff" stroke-width="0.7" fill="none"/>
<path d="M393.19,520.1 C393.44,520.45 393.72,520.77 394.68,522.21 C395.64,523.65 397.53,526.44 398.95,528.75 C400.37,531.06 401.79,533.5 403.22,536.07 C404.64,538.64 406.06,541.34 407.48,544.17 C408.9,547.01 410.33,549.97 411.75,553.06 C413.17,556.15 414.59,559.38 416.01,562.73 C417.43,566.08 418.86,569.57 420.28,573.18 C421.7,576.79 423.12,580.54 424.54,584.41 C425.97,588.29 427.39,592.29 428.81,596.43 C430.23,600.56 431.65,604.83 433.08,609.22 C434.5,613.62 435.92,618.15 437.34,622.8 C438.76,627.46 440.19,632.25 441.61,637.16 C443.03,642.08 444.45,647.13 445.87,652.31 C447.29,657.49 448.72,662.79 450.14,668.23 C451.56,673.67 453.69,682.16 454.4,684.94" stroke="#ff22ff" stroke-width="0.7" fill="none"/>
<path d="M393.19,520.1 C393.44,520.49 393.72,520.83 394.68,522.43 C395.64,524.02 397.53,527.11 398.95,529.68 C400.37,532.26 401.79,534.99 403.22,537.87 C404.64,540.76 406.06,543.8 407.48,546.99 C408.9,550.18 410.33,553.53 411.75,557.03 C413.17,560.54 414.59,564.2 416.01,568.01 C417.43,571.82 418.86,575.79 420.28,579.91 C421.7,584.03 423.12,588.31 424.54,592.74 C425.97,597.17 427.39,601.76 428.81,606.5 C430.23,611.24 431.65,616.14 433.08,621.19 C434.5,626.24 435.92,631.45 437.34,636.81 C438.76,642.17 440.19,647.68 441.61,653.35 C443.03,659.02 444.45,664.85 445.87,670.83 C447.29,676.81 449.43,686.17 450.14,689.23" stroke="#ff22ff" stroke-width="0.7" fill="none"/>
<path d="M393.19,520.1 C393.44,520.53 393.72,520.9 394.68,522.69 C395.64,524.48 397.53,527.94 398.95,530.84 C400.37,533.75 401.79,536.84 403.22,540.12 C404.64,543.4 406.06,546.87 407.48,550.52 C408.9,554.17 410.33,558.02 411.75,562.04 C413.17,566.07 414.59,570.29 416.01,574.69 C417.43,579.1 418.86,583.69 420.28,588.46 C421.7,593.24 423.12,598.21 424.54,603.36 C425.97,608.51 427.39,613.86 428.81,619.38 C430.23,624.91 431.65,630.63 433.08,636.53 C434.5,642.43 435.92,648.52 437.34,654.8 C438.76,661.08 440.9,670.96 441.61,674.19" stroke="#ff22ff" stroke-width="0.7" fill="none"/>
<path d="M393.19,520.1 C393.44,520.58 393.72,520.98 394.68,522.96 C395.64,524.94 397.53,528.77 398.95,532 C400.37,535.24 401.79,538.69 403.22,542.37 C404.64,546.04 406.06,549.94 407.48,554.05 C408.9,558.17 410.33,562.5 411.75,567.05 C413.17,571.61 414.59,576.38 416.01,581.38 C417.43,586.37 418.86,591.59 420.28,597.02 C421.7,602.45 423.12,608.11 424.54,613.98 C425.97,619.86 427.39,625.95 428.81,632.26 C430.23,638.58 431.65,645.11 433.08,651.87 C434.5,658.62 436.63,669.3 437.34,672.79" stroke="#ff22ff" stroke-width="0.7" fill="none"/>
<path d="M393.19,520.1 C393.44,520.63 393.72,521.07 394.68,523.3 C395.64,525.53 397.53,529.82 398.95,533.48 C400.37,537.13 401.79,541.04 403.22,545.22 C404.64,549.39 406.06,553.82 407.48,558.52 C408.9,563.22 410.33,568.17 411.75,573.39 C413.17,578.6 414.59,584.08 416.01,589.82 C417.43,595.56 418.86,601.56 420.28,607.82 C421.7,614.08 423.12,620.6 424.54,627.38 C425.97,634.16 427.39,641.2 428.81,648.5 C430.23,655.81 431.65,663.37 433.08,671.19 C434.5,679.02 436.63,691.4 437.34,695.45" stroke="#ff22ff" stroke-width="0.7" fill="none"/>
<path d="M393.19,520.1 C393.44,520.69 393.72,521.16 394.68,523.64 C395.64,526.12 397.53,530.9 398.95,534.99 C400.37,539.08 401.79,543.49 403.22,548.2 C404.64,552.91 406.06,557.93 407.48,563.26 C408.9,568.59 410.33,574.23 411.75,580.18 C413.17,586.14 414.59,592.39 416.01,598.96 C417.43,605.53 418.86,612.41 420.28,619.6 C421.7,626.79 423.12,634.29 424.54,642.1 C425.97,649.9 427.39,658.02 428.81,666.45 C430.23,674.87 432.36,688.29 433.08,692.66" stroke="#ff22ff" stroke-width="0.7" fill="none"/>
<path d="M393.19,520.1 C393.44,520.76 393.72,521.27 394.68,524.08 C395.64,526.89 397.53,532.29 398.95,536.95 C400.37,541.62 401.79,546.66 403.22,552.07 C404.64,557.49 406.06,563.28 407.48,569.44 C408.9,575.6 410.33,582.14 411.75,589.06 C413.17,595.97 414.59,603.26 416.01,610.92 C417.43,618.58 418.86,626.62 420.28,635.03 C421.7,643.45 423.12,652.23 424.54,661.4 C425.97,670.56 428.1,685.24 428.81,690.01" stroke="#ff22ff" stroke-width="0.7" fill="none"/>
<path d="M393.19,520.1 C393.44,520.84 393.72,521.39 394.68,524.52 C395.64,527.66 397.53,533.68 398.95,538.92 C400.37,544.15 401.79,549.83 403.22,555.95 C404.64,562.06 406.06,568.62 407.48,575.62 C408.9,582.61 410.33,590.05 411.75,597.93 C413.17,605.8 414.59,614.12 416.01,622.88 C417.43,631.63 418.86,640.83 420.28,650.47 C421.7,660.1 423.83,675.66 424.54,680.69" stroke="#ff22ff" stroke-width="0.7" fill="none"/>
<path d="M393.19,520.1 C393.44,520.93 393.72,521.53 394.68,525.06 C395.64,528.6 397.53,535.38 398.95,541.32 C400.37,547.26 401.79,553.73 403.22,560.71 C404.64,567.7 406.06,575.2 407.48,583.23 C408.9,591.25 410.33,599.8 411.75,608.87 C413.17,617.94 414.59,627.53 416.01,637.65 C417.43,647.76 418.86,658.39 420.28,669.55 C421.7,680.7 423.83,698.74 424.54,704.58" stroke="#ff22ff" stroke-width="0.7" fill="none"/>
<path d="M393.19,520.1 C393.44,521.02 393.72,521.67 394.68,525.66 C395.64,529.64 397.53,537.27 398.95,544 C400.37,550.73 401.79,558.09 403.22,566.06 C404.64,574.03 406.06,582.62 407.48,591.83 C408.9,601.04 410.33,610.87 411.75,621.32 C413.17,631.77 414.59,642.83 416.01,654.52 C417.43,666.21 419.57,685.28 420.28,691.44" stroke="#ff22ff" stroke-width="0.7" fill="none"/>
<path d="M393.19,520.1 C393.44,521.27 393.72,522.05 394.68,527.13 C395.64,532.21 397.53,541.93 398.95,550.6 C400.37,559.27 401.79,568.79 403.22,579.15 C404.64,589.51 406.06,600.73 407.48,612.79 C408.9,624.84 410.33,637.75 411.75,651.5 C413.17,665.26 415.3,688.01 416.01,695.31" stroke="#ff22ff" stroke-width="0.7" fill="none"/>
<path d="M393.19,520.1 C398.33,522.95 413.15,531.09 424.06,537.21 C434.97,543.33 447.1,550.28 458.62,556.82 C470.14,563.35 481.66,569.59 493.18,576.43 C504.7,583.26 516.22,592.29 527.74,597.82 C539.26,603.34 550.78,606.01 562.3,609.58 C573.82,613.14 585.34,614.93 596.86,619.21 C608.38,623.48 621.82,629.9 631.42,635.25 C641.02,640.6 647.74,645.65 654.46,651.29 C661.18,656.93 668.86,666.14 671.74,669.12" stroke="#22aaaa" stroke-width="0.75" fill="none"/>
<path d="M393.19,520.1 C398.33,523.84 413.15,534.83 424.06,542.56 C434.97,550.28 447.1,558.72 458.62,566.44 C470.14,574.17 483.58,582.78 493.18,588.9 C502.78,595.02 509.5,599.42 516.22,603.16 C522.94,606.91 525.82,609.88 533.5,611.36 C541.18,612.85 551.74,611.84 562.3,612.08 C572.86,612.31 587.26,611.6 596.86,612.79 C606.46,613.98 612.22,615.76 619.9,619.21 C627.58,622.65 635.26,627.52 642.94,633.47 C650.62,639.41 660.22,648.91 665.98,654.86 C671.74,660.8 675.58,666.74 677.5,669.12" stroke="#22aaaa" stroke-width="0.75" fill="none"/>
<path d="M393.19,520.1 C397.37,524.73 409.31,538.22 418.3,547.9 C427.29,557.59 437.5,568.4 447.1,578.21 C456.7,588.01 467.26,598.41 475.9,606.73 C484.54,615.05 491.26,620.69 498.94,628.12 C506.62,635.54 516.03,644.46 521.98,651.29 C527.93,658.12 532.54,666.14 534.65,669.12" stroke="#22aaaa" stroke-width="0.75" fill="none"/>
<path d="M393.19,520.1 C396.41,525.33 405.47,540.6 412.54,551.47 C419.61,562.34 427.9,574.35 435.58,585.34 C443.26,596.33 450.94,607.02 458.62,617.42 C466.3,627.82 475.32,639.11 481.66,647.73 C488,656.34 494.14,665.55 496.64,669.12" stroke="#22aaaa" stroke-width="0.75" fill="none"/>
<path d="M393.19,520.1 C395.45,525.92 401.63,542.97 406.78,555.03 C411.93,567.1 418.3,579.99 424.06,592.47 C429.82,604.94 435.77,617.13 441.34,629.9 C446.91,642.67 454.78,662.58 457.47,669.12" stroke="#22aaaa" stroke-width="0.75" fill="none"/>
<path d="M393.19,520.1 C396.41,521.46 405.47,525.98 412.54,528.3 C419.61,530.61 427.9,532.52 435.58,534 C443.26,535.49 450.94,536.73 458.62,537.21 C466.3,537.69 473.98,537.45 481.66,536.85 C489.34,536.26 497.02,534.89 504.7,533.64 C512.38,532.4 520.06,530.85 527.74,529.37 C535.42,527.88 543.1,524.79 550.78,524.73 C558.46,524.67 566.14,527.41 573.82,529.01 C581.5,530.61 589.18,532.63 596.86,534.36 C604.54,536.08 612.22,538.64 619.9,539.35 C627.58,540.06 633.34,540.18 642.94,538.64 C652.54,537.09 671.74,531.51 677.5,530.08" stroke="#ff22ff" stroke-width="0.75" fill="none"/>
<path d="M435.58,536.5 C439.42,536.97 450.94,538.99 458.62,539.35 C466.3,539.71 473.98,539.47 481.66,538.64 C489.34,537.8 497.02,534.83 504.7,534.36 C512.38,533.88 520.06,534.77 527.74,535.78 C535.42,536.79 543.1,540.12 550.78,540.42 C558.46,540.72 566.14,539.47 573.82,537.57 C581.5,535.67 589.18,531.21 596.86,529.01 C604.54,526.81 612.22,524.67 619.9,524.38 C627.58,524.08 633.34,525.39 642.94,527.23 C652.54,529.07 671.74,534.06 677.5,535.43" stroke="#ff22ff" stroke-width="0.75" fill="none"/>
<path d="M391.4,519.38 L393.19,520.1 L397.56,540.77 L407.93,576.43 L416,629.9 L416,665.5 L391.4,665.5Z" fill="#ff00ff"/>
<path d="M393.19,520.1 Q406.66,551.47 417.72,669.12" stroke="#cc44ee" stroke-width="0.5" fill="none"/>
<path d="M393.19,520.1 Q406.88,552.36 418.21,669.12" stroke="#ff44ff" stroke-width="0.5" fill="none"/>
<path d="M393.19,520.1 Q407.1,553.25 418.69,669.12" stroke="#ff44ff" stroke-width="0.5" fill="none"/>
<path d="M393.19,520.1 Q407.32,554.14 419.18,669.12" stroke="#cc44ee" stroke-width="0.5" fill="none"/>
<path d="M393.19,520.1 Q407.54,555.03 419.66,669.12" stroke="#ff44ff" stroke-width="0.5" fill="none"/>
<path d="M393.19,520.1 Q407.75,555.93 420.14,669.12" stroke="#ff44ff" stroke-width="0.5" fill="none"/>
<path d="M393.19,520.1 Q407.97,556.82 420.63,669.12" stroke="#cc44ee" stroke-width="0.5" fill="none"/>
<path d="M393.19,520.1 Q408.19,557.71 421.11,669.12" stroke="#ff44ff" stroke-width="0.5" fill="none"/>
<path d="M393.19,520.1 Q408.41,558.6 421.59,669.12" stroke="#ff44ff" stroke-width="0.5" fill="none"/>
<path d="M393.19,520.1 Q408.62,559.49 422.08,669.12" stroke="#cc44ee" stroke-width="0.5" fill="none"/>
<path d="M393.19,520.1 Q408.84,560.38 422.56,669.12" stroke="#ff44ff" stroke-width="0.5" fill="none"/>
<path d="M393.19,520.1 Q409.06,561.27 423.05,669.12" stroke="#ff44ff" stroke-width="0.5" fill="none"/>
<path d="M393.19,520.1 Q409.28,562.17 423.53,669.12" stroke="#cc44ee" stroke-width="0.5" fill="none"/>
<path d="M393.19,520.1 Q409.5,563.06 424.01,669.12" stroke="#ff44ff" stroke-width="0.5" fill="none"/>
<path d="M393.19,520.1 Q409.71,563.95 424.5,669.12" stroke="#ff44ff" stroke-width="0.5" fill="none"/>
<path d="M393.19,520.1 Q409.93,564.84 424.98,669.12" stroke="#cc44ee" stroke-width="0.5" fill="none"/>
<path d="M393.19,520.1 Q410.15,565.73 425.47,669.12" stroke="#ff44ff" stroke-width="0.5" fill="none"/>
<path d="M393.19,520.1 Q410.37,566.62 425.95,669.12" stroke="#ff44ff" stroke-width="0.5" fill="none"/>
<path d="M393.19,520.1 Q410.58,567.51 426.43,669.12" stroke="#cc44ee" stroke-width="0.5" fill="none"/>
<path d="M393.19,520.1 Q410.8,568.4 426.92,669.12" stroke="#ff44ff" stroke-width="0.5" fill="none"/>
<path d="M393.19,520.1 Q411.02,569.3 427.4,669.12" stroke="#ff44ff" stroke-width="0.5" fill="none"/>
<path d="M393.19,520.1 Q411.24,570.19 427.88,669.12" stroke="#cc44ee" stroke-width="0.5" fill="none"/>
<path d="M393.19,520.1 Q411.45,571.08 428.37,669.12" stroke="#ff44ff" stroke-width="0.5" fill="none"/>
<path d="M393.19,520.1 Q411.67,571.97 428.85,669.12" stroke="#ff44ff" stroke-width="0.5" fill="none"/>
<path d="M393.19,520.1 Q411.89,572.86 429.34,669.12" stroke="#cc44ee" stroke-width="0.5" fill="none"/>
<path d="M393.19,520.1 Q412.11,573.75 429.82,669.12" stroke="#ff44ff" stroke-width="0.5" fill="none"/>
<path d="M393.19,520.1 Q412.33,574.64 430.3,669.12" stroke="#ff44ff" stroke-width="0.5" fill="none"/>
<path d="M393.19,520.1 Q412.54,575.53 430.79,669.12" stroke="#cc44ee" stroke-width="0.5" fill="none"/>
<path d="M393.19,520.1 Q412.76,576.43 431.27,669.12" stroke="#ff44ff" stroke-width="0.5" fill="none"/>
<path d="M393.19,520.1 Q412.98,577.32 431.76,669.12" stroke="#ff44ff" stroke-width="0.5" fill="none"/>
<path d="M393.19,520.1 Q413.2,578.21 432.24,669.12" stroke="#cc44ee" stroke-width="0.5" fill="none"/>
<path d="M393.19,520.1 Q413.41,579.1 432.72,669.12" stroke="#ff44ff" stroke-width="0.5" fill="none"/>
<path d="M393.19,520.1 Q413.63,579.99 433.21,669.12" stroke="#ff44ff" stroke-width="0.5" fill="none"/>
<path d="M393.19,520.1 Q413.85,580.88 433.69,669.12" stroke="#cc44ee" stroke-width="0.5" fill="none"/>
<defs><linearGradient id="gFadeM" gradientUnits="userSpaceOnUse" x1="414.84" y1="0" x2="428.67" y2="0"><stop offset="0" stop-color="#ff00ff"/><stop offset="1" stop-color="#ff00ff" stop-opacity="0"/></linearGradient></defs>
<path d="M407.93,576.43 L416,629.9 L416,665.5 L428.67,665.5 L419.45,587.12Z" fill="url(#gFadeM)" fill-opacity="0.6"/>
</g>
<rect x="389.5" y="380.5" width="288.0" height="285.0" fill="none" stroke="#888" stroke-width="1"/>
<path d="M389.5,665.5 v-4 M389.5,380.5 v4" stroke="#555" stroke-width="0.7"/>
<path d="M401.02,665.5 v-2 M401.02,380.5 v2" stroke="#555" stroke-width="0.7"/>
<path d="M412.54,665.5 v-2 M412.54,380.5 v2" stroke="#555" stroke-width="0.7"/>
<path d="M424.06,665.5 v-2 M424.06,380.5 v2" stroke="#555" stroke-width="0.7"/>
<path d="M435.58,665.5 v-2 M435.58,380.5 v2" stroke="#555" stroke-width="0.7"/>
<path d="M447.1,665.5 v-4 M447.1,380.5 v4" stroke="#555" stroke-width="0.7"/>
<path d="M458.62,665.5 v-2 M458.62,380.5 v2" stroke="#555" stroke-width="0.7"/>
<path d="M470.14,665.5 v-2 M470.14,380.5 v2" stroke="#555" stroke-width="0.7"/>
<path d="M481.66,665.5 v-2 M481.66,380.5 v2" stroke="#555" stroke-width="0.7"/>
<path d="M493.18,665.5 v-2 M493.18,380.5 v2" stroke="#555" stroke-width="0.7"/>
<path d="M504.7,665.5 v-4 M504.7,380.5 v4" stroke="#555" stroke-width="0.7"/>
<path d="M516.22,665.5 v-2 M516.22,380.5 v2" stroke="#555" stroke-width="0.7"/>
<path d="M527.74,665.5 v-2 M527.74,380.5 v2" stroke="#555" stroke-width="0.7"/>
<path d="M539.26,665.5 v-2 M539.26,380.5 v2" stroke="#555" stroke-width="0.7"/>
<path d="M550.78,665.5 v-2 M550.78,380.5 v2" stroke="#555" stroke-width="0.7"/>
<path d="M562.3,665.5 v-4 M562.3,380.5 v4" stroke="#555" stroke-width="0.7"/>
<path d="M573.82,665.5 v-2 M573.82,380.5 v2" stroke="#555" stroke-width="0.7"/>
<path d="M585.34,665.5 v-2 M585.34,380.5 v2" stroke="#555" stroke-width="0.7"/>
<path d="M596.86,665.5 v-2 M596.86,380.5 v2" stroke="#555" stroke-width="0.7"/>
<path d="M608.38,665.5 v-2 M608.38,380.5 v2" stroke="#555" stroke-width="0.7"/>
<path d="M619.9,665.5 v-4 M619.9,380.5 v4" stroke="#555" stroke-width="0.7"/>
<path d="M631.42,665.5 v-2 M631.42,380.5 v2" stroke="#555" stroke-width="0.7"/>
<path d="M642.94,665.5 v-2 M642.94,380.5 v2" stroke="#555" stroke-width="0.7"/>
<path d="M654.46,665.5 v-2 M654.46,380.5 v2" stroke="#555" stroke-width="0.7"/>
<path d="M665.98,665.5 v-2 M665.98,380.5 v2" stroke="#555" stroke-width="0.7"/>
<path d="M677.5,665.5 v-4 M677.5,380.5 v4" stroke="#555" stroke-width="0.7"/>
<path d="M389.5,665.55 h2 M677.5,665.55 h-2" stroke="#555" stroke-width="0.7"/>
<path d="M389.5,647.73 h2 M677.5,647.73 h-2" stroke="#555" stroke-width="0.7"/>
<path d="M389.5,629.9 h4 M677.5,629.9 h-4" stroke="#555" stroke-width="0.7"/>
<path d="M389.5,612.08 h2 M677.5,612.08 h-2" stroke="#555" stroke-width="0.7"/>
<path d="M389.5,594.25 h2 M677.5,594.25 h-2" stroke="#555" stroke-width="0.7"/>
<path d="M389.5,576.43 h2 M677.5,576.43 h-2" stroke="#555" stroke-width="0.7"/>
<path d="M389.5,558.6 h4 M677.5,558.6 h-4" stroke="#555" stroke-width="0.7"/>
<path d="M389.5,540.77 h2 M677.5,540.77 h-2" stroke="#555" stroke-width="0.7"/>
<path d="M389.5,522.95 h2 M677.5,522.95 h-2" stroke="#555" stroke-width="0.7"/>
<path d="M389.5,505.12 h2 M677.5,505.12 h-2" stroke="#555" stroke-width="0.7"/>
<path d="M389.5,487.3 h4 M677.5,487.3 h-4" stroke="#555" stroke-width="0.7"/>
<path d="M389.5,469.48 h2 M677.5,469.48 h-2" stroke="#555" stroke-width="0.7"/>
<path d="M389.5,451.65 h2 M677.5,451.65 h-2" stroke="#555" stroke-width="0.7"/>
<path d="M389.5,433.83 h2 M677.5,433.83 h-2" stroke="#555" stroke-width="0.7"/>
<path d="M389.5,416 h4 M677.5,416 h-4" stroke="#555" stroke-width="0.7"/>
<path d="M389.5,398.18 h2 M677.5,398.18 h-2" stroke="#555" stroke-width="0.7"/>
<path d="M389.5,380.35 h2 M677.5,380.35 h-2" stroke="#555" stroke-width="0.7"/>
<text x="353.2" y="402.2" font-size="22" font-weight="bold" style="font-family:'Liberation Sans',sans-serif">e</text>
<text x="389.5" y="679" font-size="13" text-anchor="middle" style="" >0</text>
<text x="447.1" y="679" font-size="13" text-anchor="middle" style="" >5</text>
<text x="504.7" y="679" font-size="13" text-anchor="middle" style="" >10</text>
<text x="562.3" y="679" font-size="13" text-anchor="middle" style="" >15</text>
<text x="619.9" y="679" font-size="13" text-anchor="middle" style="" >20</text>
<text x="677.5" y="679" font-size="13" text-anchor="middle" style="" >25</text>
<text x="387" y="420.5" font-size="13" text-anchor="end" style="" >40</text>
<text x="387" y="491.8" font-size="13" text-anchor="end" style="" >20</text>
<text x="387" y="563.1" font-size="13" text-anchor="end" style="" >0</text>
<text x="387" y="634.4" font-size="13" text-anchor="end" style="" >−20</text>
<text x="510.7" y="700.9" font-size="16.7" textLength="45.9" lengthAdjust="spacingAndGlyphs"><tspan font-style="italic">B</tspan><tspan font-size="11" dy="3">z</tspan><tspan dy="-3"> (T)</tspan></text>
<text transform="translate(358.6,450.5) rotate(-90)" font-size="16.5" text-anchor="middle" textLength="59" lengthAdjust="spacingAndGlyphs"><tspan font-style="italic">ε</tspan> (meV)</text>
<text transform="translate(360.5,556) rotate(-90)" font-size="17" text-anchor="middle" style="font-family:'Liberation Sans',sans-serif" font-style="italic">Δ</text>
<path d="M369.3,493 V624" stroke="#000" stroke-width="1"/>
<path d="M366.8,494.5 L371.8,494.5 L369.3,487.5Z M366.8,623 L371.8,623 L369.3,630Z" fill="#000"/>
<rect x="522.5" y="642.8" width="153.7" height="20.5" rx="2" fill="#fff" fill-opacity="0.92" stroke="#ccc" stroke-width="0.6"/>
<text x="524.5" y="657" font-size="13.5"><tspan font-style="italic" font-weight="bold" style="font-family:'Liberation Sans',sans-serif" font-size="12.5">Δ</tspan>=40 meV</text>
<path d="M598.2,655 H609" stroke="#22aaaa" stroke-width="1"/>
<path d="M642.6,655 H653.3" stroke="#ff22ff" stroke-width="1"/>
<text x="616" y="657.5" font-size="15" font-style="italic">K'</text>
<text x="661.4" y="657.5" font-size="15" font-style="italic">K</text>
</g>
</svg></body></html>
